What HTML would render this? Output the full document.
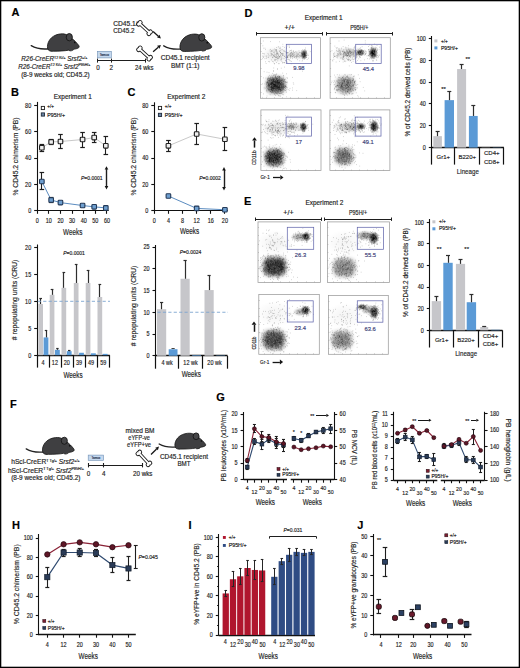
<!DOCTYPE html><html><head><meta charset="utf-8"><title>Figure</title><style>html,body{margin:0;padding:0;background:#fff;width:520px;height:668px;overflow:hidden}svg{display:block;font-family:"Liberation Sans",sans-serif}</style></head><body><svg width="520" height="668" viewBox="0 0 520 668" font-family="Liberation Sans, sans-serif" fill="#1e1e1e"><defs><filter id="fb" x="-50%" y="-50%" width="200%" height="200%"><feGaussianBlur stdDeviation="1.9"/></filter><clipPath id="cp11"><rect x="261.1" y="38.2" width="59" height="59.6"/></clipPath><radialGradient id="bg1"><stop offset="0" stop-color="#000" stop-opacity="0.08"/><stop offset="0.35" stop-color="#000" stop-opacity="0.07"/><stop offset="0.6" stop-color="#000" stop-opacity="0.04"/><stop offset="0.8" stop-color="#000" stop-opacity="0.01"/><stop offset="1" stop-color="#000" stop-opacity="0"/></radialGradient><radialGradient id="bg2"><stop offset="0" stop-color="#000" stop-opacity="0.9"/><stop offset="0.35" stop-color="#000" stop-opacity="0.74"/><stop offset="0.6" stop-color="#000" stop-opacity="0.41"/><stop offset="0.8" stop-color="#000" stop-opacity="0.14"/><stop offset="1" stop-color="#000" stop-opacity="0"/></radialGradient><radialGradient id="bg3"><stop offset="0" stop-color="#000" stop-opacity="0.16"/><stop offset="0.35" stop-color="#000" stop-opacity="0.13"/><stop offset="0.6" stop-color="#000" stop-opacity="0.07"/><stop offset="0.8" stop-color="#000" stop-opacity="0.02"/><stop offset="1" stop-color="#000" stop-opacity="0"/></radialGradient><radialGradient id="bg4"><stop offset="0" stop-color="#000" stop-opacity="0.15"/><stop offset="0.35" stop-color="#000" stop-opacity="0.12"/><stop offset="0.6" stop-color="#000" stop-opacity="0.07"/><stop offset="0.8" stop-color="#000" stop-opacity="0.02"/><stop offset="1" stop-color="#000" stop-opacity="0"/></radialGradient><clipPath id="cp12"><rect x="330.6" y="38.2" width="59.2" height="59.6"/></clipPath><radialGradient id="bg6"><stop offset="0" stop-color="#000" stop-opacity="0.1"/><stop offset="0.35" stop-color="#000" stop-opacity="0.08"/><stop offset="0.6" stop-color="#000" stop-opacity="0.05"/><stop offset="0.8" stop-color="#000" stop-opacity="0.01"/><stop offset="1" stop-color="#000" stop-opacity="0"/></radialGradient><radialGradient id="bg7"><stop offset="0" stop-color="#000" stop-opacity="1"/><stop offset="0.35" stop-color="#000" stop-opacity="0.82"/><stop offset="0.6" stop-color="#000" stop-opacity="0.45"/><stop offset="0.8" stop-color="#000" stop-opacity="0.15"/><stop offset="1" stop-color="#000" stop-opacity="0"/></radialGradient><radialGradient id="bg8"><stop offset="0" stop-color="#000" stop-opacity="0.85"/><stop offset="0.35" stop-color="#000" stop-opacity="0.7"/><stop offset="0.6" stop-color="#000" stop-opacity="0.38"/><stop offset="0.8" stop-color="#000" stop-opacity="0.13"/><stop offset="1" stop-color="#000" stop-opacity="0"/></radialGradient><radialGradient id="bg9"><stop offset="0" stop-color="#000" stop-opacity="0.2"/><stop offset="0.35" stop-color="#000" stop-opacity="0.16"/><stop offset="0.6" stop-color="#000" stop-opacity="0.09"/><stop offset="0.8" stop-color="#000" stop-opacity="0.03"/><stop offset="1" stop-color="#000" stop-opacity="0"/></radialGradient><clipPath id="cp13"><rect x="261.4" y="110.4" width="59.1" height="59.7"/></clipPath><radialGradient id="bg11"><stop offset="0" stop-color="#000" stop-opacity="0.1"/><stop offset="0.35" stop-color="#000" stop-opacity="0.08"/><stop offset="0.6" stop-color="#000" stop-opacity="0.05"/><stop offset="0.8" stop-color="#000" stop-opacity="0.01"/><stop offset="1" stop-color="#000" stop-opacity="0"/></radialGradient><radialGradient id="bg12"><stop offset="0" stop-color="#000" stop-opacity="0.95"/><stop offset="0.35" stop-color="#000" stop-opacity="0.78"/><stop offset="0.6" stop-color="#000" stop-opacity="0.43"/><stop offset="0.8" stop-color="#000" stop-opacity="0.14"/><stop offset="1" stop-color="#000" stop-opacity="0"/></radialGradient><radialGradient id="bg13"><stop offset="0" stop-color="#000" stop-opacity="0.25"/><stop offset="0.35" stop-color="#000" stop-opacity="0.2"/><stop offset="0.6" stop-color="#000" stop-opacity="0.11"/><stop offset="0.8" stop-color="#000" stop-opacity="0.04"/><stop offset="1" stop-color="#000" stop-opacity="0"/></radialGradient><radialGradient id="bg14"><stop offset="0" stop-color="#000" stop-opacity="0.15"/><stop offset="0.35" stop-color="#000" stop-opacity="0.12"/><stop offset="0.6" stop-color="#000" stop-opacity="0.07"/><stop offset="0.8" stop-color="#000" stop-opacity="0.02"/><stop offset="1" stop-color="#000" stop-opacity="0"/></radialGradient><clipPath id="cp14"><rect x="330.4" y="110.4" width="59" height="59.7"/></clipPath><radialGradient id="bg16"><stop offset="0" stop-color="#000" stop-opacity="0.1"/><stop offset="0.35" stop-color="#000" stop-opacity="0.08"/><stop offset="0.6" stop-color="#000" stop-opacity="0.05"/><stop offset="0.8" stop-color="#000" stop-opacity="0.01"/><stop offset="1" stop-color="#000" stop-opacity="0"/></radialGradient><radialGradient id="bg17"><stop offset="0" stop-color="#000" stop-opacity="1"/><stop offset="0.35" stop-color="#000" stop-opacity="0.82"/><stop offset="0.6" stop-color="#000" stop-opacity="0.45"/><stop offset="0.8" stop-color="#000" stop-opacity="0.15"/><stop offset="1" stop-color="#000" stop-opacity="0"/></radialGradient><radialGradient id="bg18"><stop offset="0" stop-color="#000" stop-opacity="0.8"/><stop offset="0.35" stop-color="#000" stop-opacity="0.66"/><stop offset="0.6" stop-color="#000" stop-opacity="0.36"/><stop offset="0.8" stop-color="#000" stop-opacity="0.12"/><stop offset="1" stop-color="#000" stop-opacity="0"/></radialGradient><radialGradient id="bg19"><stop offset="0" stop-color="#000" stop-opacity="0.2"/><stop offset="0.35" stop-color="#000" stop-opacity="0.16"/><stop offset="0.6" stop-color="#000" stop-opacity="0.09"/><stop offset="0.8" stop-color="#000" stop-opacity="0.03"/><stop offset="1" stop-color="#000" stop-opacity="0"/></radialGradient><clipPath id="cp21"><rect x="258.5" y="222.4" width="61.4" height="59.5"/></clipPath><radialGradient id="bg21"><stop offset="0" stop-color="#000" stop-opacity="0.05"/><stop offset="0.35" stop-color="#000" stop-opacity="0.04"/><stop offset="0.6" stop-color="#000" stop-opacity="0.02"/><stop offset="0.8" stop-color="#000" stop-opacity="0.01"/><stop offset="1" stop-color="#000" stop-opacity="0"/></radialGradient><radialGradient id="bg22"><stop offset="0" stop-color="#000" stop-opacity="1"/><stop offset="0.35" stop-color="#000" stop-opacity="0.82"/><stop offset="0.6" stop-color="#000" stop-opacity="0.45"/><stop offset="0.8" stop-color="#000" stop-opacity="0.15"/><stop offset="1" stop-color="#000" stop-opacity="0"/></radialGradient><radialGradient id="bg23"><stop offset="0" stop-color="#000" stop-opacity="0.35"/><stop offset="0.35" stop-color="#000" stop-opacity="0.29"/><stop offset="0.6" stop-color="#000" stop-opacity="0.16"/><stop offset="0.8" stop-color="#000" stop-opacity="0.05"/><stop offset="1" stop-color="#000" stop-opacity="0"/></radialGradient><clipPath id="cp22"><rect x="327.9" y="222.4" width="61.2" height="59.5"/></clipPath><radialGradient id="bg25"><stop offset="0" stop-color="#000" stop-opacity="0.04"/><stop offset="0.35" stop-color="#000" stop-opacity="0.03"/><stop offset="0.6" stop-color="#000" stop-opacity="0.02"/><stop offset="0.8" stop-color="#000" stop-opacity="0.01"/><stop offset="1" stop-color="#000" stop-opacity="0"/></radialGradient><radialGradient id="bg26"><stop offset="0" stop-color="#000" stop-opacity="1"/><stop offset="0.35" stop-color="#000" stop-opacity="0.82"/><stop offset="0.6" stop-color="#000" stop-opacity="0.45"/><stop offset="0.8" stop-color="#000" stop-opacity="0.15"/><stop offset="1" stop-color="#000" stop-opacity="0"/></radialGradient><radialGradient id="bg27"><stop offset="0" stop-color="#000" stop-opacity="0.45"/><stop offset="0.35" stop-color="#000" stop-opacity="0.37"/><stop offset="0.6" stop-color="#000" stop-opacity="0.2"/><stop offset="0.8" stop-color="#000" stop-opacity="0.07"/><stop offset="1" stop-color="#000" stop-opacity="0"/></radialGradient><clipPath id="cp23"><rect x="259.3" y="295" width="59.5" height="58.8"/></clipPath><radialGradient id="bg29"><stop offset="0" stop-color="#000" stop-opacity="0.04"/><stop offset="0.35" stop-color="#000" stop-opacity="0.03"/><stop offset="0.6" stop-color="#000" stop-opacity="0.02"/><stop offset="0.8" stop-color="#000" stop-opacity="0.01"/><stop offset="1" stop-color="#000" stop-opacity="0"/></radialGradient><radialGradient id="bg30"><stop offset="0" stop-color="#000" stop-opacity="1"/><stop offset="0.35" stop-color="#000" stop-opacity="0.82"/><stop offset="0.6" stop-color="#000" stop-opacity="0.45"/><stop offset="0.8" stop-color="#000" stop-opacity="0.15"/><stop offset="1" stop-color="#000" stop-opacity="0"/></radialGradient><radialGradient id="bg31"><stop offset="0" stop-color="#000" stop-opacity="0.3"/><stop offset="0.35" stop-color="#000" stop-opacity="0.25"/><stop offset="0.6" stop-color="#000" stop-opacity="0.14"/><stop offset="0.8" stop-color="#000" stop-opacity="0.04"/><stop offset="1" stop-color="#000" stop-opacity="0"/></radialGradient><clipPath id="cp24"><rect x="328.9" y="295.9" width="58.9" height="57.9"/></clipPath><radialGradient id="bg33"><stop offset="0" stop-color="#000" stop-opacity="0.04"/><stop offset="0.35" stop-color="#000" stop-opacity="0.03"/><stop offset="0.6" stop-color="#000" stop-opacity="0.02"/><stop offset="0.8" stop-color="#000" stop-opacity="0.01"/><stop offset="1" stop-color="#000" stop-opacity="0"/></radialGradient><radialGradient id="bg34"><stop offset="0" stop-color="#000" stop-opacity="1"/><stop offset="0.35" stop-color="#000" stop-opacity="0.82"/><stop offset="0.6" stop-color="#000" stop-opacity="0.45"/><stop offset="0.8" stop-color="#000" stop-opacity="0.15"/><stop offset="1" stop-color="#000" stop-opacity="0"/></radialGradient><radialGradient id="bg35"><stop offset="0" stop-color="#000" stop-opacity="0.75"/><stop offset="0.35" stop-color="#000" stop-opacity="0.61"/><stop offset="0.6" stop-color="#000" stop-opacity="0.34"/><stop offset="0.8" stop-color="#000" stop-opacity="0.11"/><stop offset="1" stop-color="#000" stop-opacity="0"/></radialGradient><radialGradient id="bg36"><stop offset="0" stop-color="#000" stop-opacity="0.35"/><stop offset="0.35" stop-color="#000" stop-opacity="0.29"/><stop offset="0.6" stop-color="#000" stop-opacity="0.16"/><stop offset="0.8" stop-color="#000" stop-opacity="0.05"/><stop offset="1" stop-color="#000" stop-opacity="0"/></radialGradient></defs><filter id="soft" x="0" y="0" width="100%" height="100%" filterUnits="userSpaceOnUse" primitiveUnits="userSpaceOnUse" color-interpolation-filters="sRGB"><feConvolveMatrix order="3" kernelMatrix="0.0000 0.0000 0.0000 0.0000 1.0000 0.0000 0.0000 0.0000 0.0000" divisor="1" edgeMode="duplicate"/></filter><rect x="0" y="0" width="520" height="668" fill="#fff"/><g><rect x="0" y="0" width="520" height="668" fill="#fff"/><text x="11.6" y="16.3" font-size="11" font-weight="bold" fill="#000" stroke="#000" stroke-width="0.16">A</text>
<g transform="translate(45.5,32.3) scale(0.34,0.35)"><path d="M10,47 C-10,49 -30,45 -42,38" fill="none" stroke="#222" stroke-width="3.82" stroke-linecap="round"/><path d="M8,50 C2,40 8,20 24,11 C36,4 54,2 64,8 C70,11 74,14 78,18 C84,22 92,30 98,38 C100,41 99,44 96,45 C92,47 88,48 84,48 C82,51 78,53 72,53 L68,51 C58,53 40,54 24,54 C18,55 12,54 8,50 Z" fill="#3f3f41" stroke="#161616" stroke-width="2.35"/><ellipse cx="70" cy="14" rx="9" ry="10.5" fill="#464648" stroke="#161616" stroke-width="2.65"/><circle cx="86" cy="29" r="2.4" fill="#0c0c0c"/></g>
<text x="54.3" y="61.4" font-size="6.3" text-anchor="middle" textLength="66" lengthAdjust="spacingAndGlyphs" stroke="#1e1e1e" stroke-width="0.16"><tspan font-style="italic">R26-CreER</tspan><tspan font-size="3.6" dy="-2.5">T2 Ki/+</tspan><tspan dy="2.5"> </tspan><tspan font-style="italic">Srsf2</tspan><tspan font-size="3.6" dy="-2.5">+/+</tspan></text>
<text x="54.3" y="68.8" font-size="6.3" text-anchor="middle" textLength="72.3" lengthAdjust="spacingAndGlyphs" stroke="#1e1e1e" stroke-width="0.16"><tspan font-style="italic">R26-CreER</tspan><tspan font-size="3.6" dy="-2.5">T2 Ki/+</tspan><tspan dy="2.5"> </tspan><tspan font-style="italic">Srsf2</tspan><tspan font-size="3.6" dy="-2.5">P95H/+</tspan></text>
<text x="55.4" y="76.97" font-size="6.3" text-anchor="middle" textLength="68.4" lengthAdjust="spacingAndGlyphs" stroke="#1e1e1e" stroke-width="0.16">(8-9 weeks old; CD45.2)</text>
<rect x="97.5" y="51.3" width="13.8" height="6.6" fill="#c5d8ee" stroke="#6f8fb5" stroke-width="0.6"/>
<text x="104.4" y="55.75" font-size="3.2" text-anchor="middle" fill="#2a3550" stroke="#2a3550" stroke-width="0.16">Tamox</text>
<line x1="97.4" y1="60.5" x2="145.4" y2="60.5" stroke="#1e1e1e" stroke-width="1"/>
<line x1="97.5" y1="58.6" x2="97.5" y2="62.6" stroke="#1e1e1e" stroke-width="1"/>
<line x1="111.5" y1="58.6" x2="111.5" y2="62.6" stroke="#1e1e1e" stroke-width="1"/>
<line x1="145.5" y1="58.6" x2="145.5" y2="62.6" stroke="#1e1e1e" stroke-width="1"/>
<text x="98" y="69.77" font-size="6.3" text-anchor="middle" stroke="#1e1e1e" stroke-width="0.16">0</text>
<text x="111.2" y="69.77" font-size="6.3" text-anchor="middle" stroke="#1e1e1e" stroke-width="0.16">2</text>
<text x="144.2" y="69.77" font-size="6.3" text-anchor="middle" textLength="18.5" lengthAdjust="spacingAndGlyphs" stroke="#1e1e1e" stroke-width="0.16">24 wks</text>
<text x="113.3" y="26.07" font-size="6.3" textLength="24.3" lengthAdjust="spacingAndGlyphs" stroke="#1e1e1e" stroke-width="0.16">CD45.1/</text>
<text x="113.3" y="33.47" font-size="6.3" textLength="21.1" lengthAdjust="spacingAndGlyphs" stroke="#1e1e1e" stroke-width="0.16">CD45.2</text>
<g transform="translate(144.55,28.05) rotate(42.61)"><line x1="-6.99" y1="0" x2="6.99" y2="0" stroke="#161616" stroke-width="3.5"/><circle cx="-6.99" cy="-1.2" r="2.4" fill="#161616"/><circle cx="-6.99" cy="1.2" r="2.4" fill="#161616"/><circle cx="6.99" cy="-1.2" r="2.4" fill="#161616"/><circle cx="6.99" cy="1.2" r="2.4" fill="#161616"/><line x1="-6.99" y1="0" x2="6.99" y2="0" stroke="#fff" stroke-width="1.7"/><circle cx="-6.99" cy="-1.2" r="1.5" fill="#fff"/><circle cx="-6.99" cy="1.2" r="1.5" fill="#fff"/><circle cx="6.99" cy="-1.2" r="1.5" fill="#fff"/><circle cx="6.99" cy="1.2" r="1.5" fill="#fff"/></g>
<g transform="translate(144.55,53.5) rotate(42.36)"><line x1="-6.96" y1="0" x2="6.96" y2="0" stroke="#161616" stroke-width="3.5"/><circle cx="-6.96" cy="-1.2" r="2.4" fill="#161616"/><circle cx="-6.96" cy="1.2" r="2.4" fill="#161616"/><circle cx="6.96" cy="-1.2" r="2.4" fill="#161616"/><circle cx="6.96" cy="1.2" r="2.4" fill="#161616"/><line x1="-6.96" y1="0" x2="6.96" y2="0" stroke="#fff" stroke-width="1.7"/><circle cx="-6.96" cy="-1.2" r="1.5" fill="#fff"/><circle cx="-6.96" cy="1.2" r="1.5" fill="#fff"/><circle cx="6.96" cy="-1.2" r="1.5" fill="#fff"/><circle cx="6.96" cy="1.2" r="1.5" fill="#fff"/></g>
<line x1="153.1" y1="31.6" x2="158.34" y2="36.17" stroke="#161616" stroke-width="1.3"/>
<polygon points="160.9,38.4 157.11,37.58 159.57,34.76" fill="#161616"/>
<line x1="153.1" y1="51.7" x2="158.3" y2="47.3" stroke="#161616" stroke-width="1.3"/>
<polygon points="160.9,45.1 159.51,48.72 157.1,45.87" fill="#161616"/>
<g transform="translate(178,32.5) scale(0.34,0.35)"><path d="M10,47 C-10,49 -30,45 -42,38" fill="none" stroke="#222" stroke-width="3.82" stroke-linecap="round"/><path d="M8,50 C2,40 8,20 24,11 C36,4 54,2 64,8 C70,11 74,14 78,18 C84,22 92,30 98,38 C100,41 99,44 96,45 C92,47 88,48 84,48 C82,51 78,53 72,53 L68,51 C58,53 40,54 24,54 C18,55 12,54 8,50 Z" fill="#3f3f41" stroke="#161616" stroke-width="2.35"/><ellipse cx="70" cy="14" rx="9" ry="10.5" fill="#464648" stroke="#161616" stroke-width="2.65"/><circle cx="86" cy="29" r="2.4" fill="#0c0c0c"/></g>
<text x="185.2" y="59.87" font-size="6.3" text-anchor="middle" textLength="49" lengthAdjust="spacingAndGlyphs" stroke="#1e1e1e" stroke-width="0.16">CD45.1 recipient</text>
<text x="185.2" y="68.07" font-size="6.3" text-anchor="middle" textLength="28.5" lengthAdjust="spacingAndGlyphs" stroke="#1e1e1e" stroke-width="0.16">BMT (1:1)</text>
<text x="11" y="95.8" font-size="11" font-weight="bold" fill="#000" stroke="#000" stroke-width="0.16">B</text>
<text x="72.8" y="99.47" font-size="6.3" text-anchor="middle" textLength="38" lengthAdjust="spacingAndGlyphs" stroke="#1e1e1e" stroke-width="0.16">Experiment 1</text>
<line x1="37.5" y1="101.9" x2="37.5" y2="211.3" stroke="#111111" stroke-width="1.1"/>
<line x1="34.2" y1="210.5" x2="37.2" y2="210.5" stroke="#111111" stroke-width="1.1"/>
<text transform="translate(31.2,213.14) scale(0.84,1)" font-size="6.5" text-anchor="end" stroke="#1e1e1e" stroke-width="0.16">0</text>
<line x1="34.2" y1="184.5" x2="37.2" y2="184.5" stroke="#111111" stroke-width="1.1"/>
<text transform="translate(31.2,186.74) scale(0.84,1)" font-size="6.5" text-anchor="end" stroke="#1e1e1e" stroke-width="0.16">20</text>
<line x1="34.2" y1="158.5" x2="37.2" y2="158.5" stroke="#111111" stroke-width="1.1"/>
<text transform="translate(31.2,160.34) scale(0.84,1)" font-size="6.5" text-anchor="end" stroke="#1e1e1e" stroke-width="0.16">40</text>
<line x1="34.2" y1="131.5" x2="37.2" y2="131.5" stroke="#111111" stroke-width="1.1"/>
<text transform="translate(31.2,133.94) scale(0.84,1)" font-size="6.5" text-anchor="end" stroke="#1e1e1e" stroke-width="0.16">60</text>
<line x1="34.2" y1="105.5" x2="37.2" y2="105.5" stroke="#111111" stroke-width="1.1"/>
<text transform="translate(31.2,107.54) scale(0.84,1)" font-size="6.5" text-anchor="end" stroke="#1e1e1e" stroke-width="0.16">80</text>
<line x1="37.2" y1="210.5" x2="108.72" y2="210.5" stroke="#111111" stroke-width="1.1"/>
<line x1="37.5" y1="210.8" x2="37.5" y2="213.8" stroke="#111111" stroke-width="1.1"/>
<text transform="translate(37.2,222.64) scale(0.84,1)" font-size="6.5" text-anchor="middle" stroke="#1e1e1e" stroke-width="0.16">0</text>
<line x1="48.5" y1="210.8" x2="48.5" y2="213.8" stroke="#111111" stroke-width="1.1"/>
<text transform="translate(48.83,222.64) scale(0.84,1)" font-size="6.5" text-anchor="middle" stroke="#1e1e1e" stroke-width="0.16">10</text>
<line x1="60.5" y1="210.8" x2="60.5" y2="213.8" stroke="#111111" stroke-width="1.1"/>
<text transform="translate(60.46,222.64) scale(0.84,1)" font-size="6.5" text-anchor="middle" stroke="#1e1e1e" stroke-width="0.16">20</text>
<line x1="72.5" y1="210.8" x2="72.5" y2="213.8" stroke="#111111" stroke-width="1.1"/>
<text transform="translate(72.09,222.64) scale(0.84,1)" font-size="6.5" text-anchor="middle" stroke="#1e1e1e" stroke-width="0.16">30</text>
<line x1="83.5" y1="210.8" x2="83.5" y2="213.8" stroke="#111111" stroke-width="1.1"/>
<text transform="translate(83.72,222.64) scale(0.84,1)" font-size="6.5" text-anchor="middle" stroke="#1e1e1e" stroke-width="0.16">40</text>
<line x1="95.5" y1="210.8" x2="95.5" y2="213.8" stroke="#111111" stroke-width="1.1"/>
<text transform="translate(95.35,222.64) scale(0.84,1)" font-size="6.5" text-anchor="middle" stroke="#1e1e1e" stroke-width="0.16">50</text>
<line x1="106.5" y1="210.8" x2="106.5" y2="213.8" stroke="#111111" stroke-width="1.1"/>
<text transform="translate(106.98,222.64) scale(0.84,1)" font-size="6.5" text-anchor="middle" stroke="#1e1e1e" stroke-width="0.16">60</text>
<text x="72.7" y="234.72" font-size="8.4" text-anchor="middle" textLength="19.2" lengthAdjust="spacingAndGlyphs" stroke="#1e1e1e" stroke-width="0.16">Weeks</text>
<text transform="translate(15.1,156.5) rotate(-90)" x="0" y="2.59" font-size="7.2" text-anchor="middle" textLength="78" lengthAdjust="spacingAndGlyphs" stroke="#1e1e1e" stroke-width="0.16">% CD45.2 chimerism (PB)</text>
<polyline points="41.85,147.7 51.16,141.9 60.46,141.5 82.56,139.52 94.19,137.54 105.82,145.86" fill="none" stroke="#c9c9c9" stroke-width="1" stroke-linejoin="round"/>
<polyline points="41.85,181.5 51.16,199.98 60.46,202.62 82.56,205.52 94.19,206.84 105.82,207.9" fill="none" stroke="#5b8cc0" stroke-width="1" stroke-linejoin="round"/>
<line x1="41.5" y1="151.4" x2="41.5" y2="144.14" stroke="#1e1e1e" stroke-width="1.1"/>
<line x1="39.55" y1="144.5" x2="44.15" y2="144.5" stroke="#1e1e1e" stroke-width="1.21"/>
<line x1="39.55" y1="151.5" x2="44.15" y2="151.5" stroke="#1e1e1e" stroke-width="1.21"/>
<rect x="39.55" y="145.4" width="4.6" height="4.6" fill="#eeeeee" stroke="#1e1e1e" stroke-width="1.1" rx="0.8"/>
<line x1="51.5" y1="144.14" x2="51.5" y2="139.52" stroke="#1e1e1e" stroke-width="1.1"/>
<line x1="48.86" y1="139.5" x2="53.46" y2="139.5" stroke="#1e1e1e" stroke-width="1.21"/>
<line x1="48.86" y1="144.5" x2="53.46" y2="144.5" stroke="#1e1e1e" stroke-width="1.21"/>
<rect x="48.86" y="139.6" width="4.6" height="4.6" fill="#eeeeee" stroke="#1e1e1e" stroke-width="1.1" rx="0.8"/>
<line x1="60.5" y1="148.1" x2="60.5" y2="134.5" stroke="#1e1e1e" stroke-width="1.1"/>
<line x1="58.16" y1="134.5" x2="62.76" y2="134.5" stroke="#1e1e1e" stroke-width="1.21"/>
<line x1="58.16" y1="148.5" x2="62.76" y2="148.5" stroke="#1e1e1e" stroke-width="1.21"/>
<rect x="58.16" y="139.2" width="4.6" height="4.6" fill="#eeeeee" stroke="#1e1e1e" stroke-width="1.1" rx="0.8"/>
<line x1="82.5" y1="147.04" x2="82.5" y2="132.26" stroke="#1e1e1e" stroke-width="1.1"/>
<line x1="80.26" y1="132.5" x2="84.86" y2="132.5" stroke="#1e1e1e" stroke-width="1.21"/>
<line x1="80.26" y1="147.5" x2="84.86" y2="147.5" stroke="#1e1e1e" stroke-width="1.21"/>
<rect x="80.26" y="137.22" width="4.6" height="4.6" fill="#eeeeee" stroke="#1e1e1e" stroke-width="1.1" rx="0.8"/>
<line x1="94.5" y1="142.16" x2="94.5" y2="132.26" stroke="#1e1e1e" stroke-width="1.1"/>
<line x1="91.89" y1="132.5" x2="96.49" y2="132.5" stroke="#1e1e1e" stroke-width="1.21"/>
<line x1="91.89" y1="142.5" x2="96.49" y2="142.5" stroke="#1e1e1e" stroke-width="1.21"/>
<rect x="91.89" y="135.24" width="4.6" height="4.6" fill="#eeeeee" stroke="#1e1e1e" stroke-width="1.1" rx="0.8"/>
<line x1="105.5" y1="154.3" x2="105.5" y2="136.62" stroke="#1e1e1e" stroke-width="1.1"/>
<line x1="103.52" y1="136.5" x2="108.12" y2="136.5" stroke="#1e1e1e" stroke-width="1.21"/>
<line x1="103.52" y1="154.5" x2="108.12" y2="154.5" stroke="#1e1e1e" stroke-width="1.21"/>
<rect x="103.52" y="143.56" width="4.6" height="4.6" fill="#eeeeee" stroke="#1e1e1e" stroke-width="1.1" rx="0.8"/>
<line x1="41.5" y1="189.02" x2="41.5" y2="172.78" stroke="#1e1e1e" stroke-width="1.1"/>
<line x1="39.55" y1="172.5" x2="44.15" y2="172.5" stroke="#1e1e1e" stroke-width="1.21"/>
<line x1="39.55" y1="189.5" x2="44.15" y2="189.5" stroke="#1e1e1e" stroke-width="1.21"/>
<rect x="39.55" y="179.2" width="4.6" height="4.6" fill="#6e9fd0" stroke="#243a58" stroke-width="1.1" rx="0.8"/>
<line x1="51.5" y1="202.22" x2="51.5" y2="197.86" stroke="#1e1e1e" stroke-width="1.1"/>
<line x1="48.86" y1="197.5" x2="53.46" y2="197.5" stroke="#1e1e1e" stroke-width="1.21"/>
<line x1="48.86" y1="202.5" x2="53.46" y2="202.5" stroke="#1e1e1e" stroke-width="1.21"/>
<rect x="48.86" y="197.68" width="4.6" height="4.6" fill="#6e9fd0" stroke="#243a58" stroke-width="1.1" rx="0.8"/>
<rect x="58.16" y="200.32" width="4.6" height="4.6" fill="#6e9fd0" stroke="#243a58" stroke-width="1.1" rx="0.8"/>
<rect x="80.26" y="203.22" width="4.6" height="4.6" fill="#6e9fd0" stroke="#243a58" stroke-width="1.1" rx="0.8"/>
<rect x="91.89" y="204.54" width="4.6" height="4.6" fill="#6e9fd0" stroke="#243a58" stroke-width="1.1" rx="0.8"/>
<rect x="103.52" y="205.6" width="4.6" height="4.6" fill="#6e9fd0" stroke="#243a58" stroke-width="1.1" rx="0.8"/>
<rect x="41.3" y="106.4" width="3.2" height="3.2" fill="#fff" stroke="#1e1e1e" stroke-width="0.9"/>
<text x="47.3" y="108.26" font-size="4.6" stroke="#1e1e1e" stroke-width="0.16">+/+</text>
<rect x="41.3" y="112.9" width="3.2" height="3.2" fill="#6a84a4" stroke="#1e2a3a" stroke-width="0.9"/>
<text x="47.3" y="116.66" font-size="4.6" textLength="17.7" lengthAdjust="spacingAndGlyphs" stroke="#1e1e1e" stroke-width="0.16">P95H/+</text>
<line x1="106.5" y1="169.1" x2="106.5" y2="186.6" stroke="#1e1e1e" stroke-width="1.4"/>
<polygon points="106.5,166.2 104.7,169.6 108.3,169.6" fill="#161616"/>
<polygon points="106.5,189.5 104.7,186.1 108.3,186.1" fill="#161616"/>
<text x="91.8" y="179.9" font-size="5" text-anchor="middle" stroke="#1e1e1e" stroke-width="0.16"><tspan font-style="italic">P</tspan>=0.0001</text>
<text x="127.5" y="95.8" font-size="11" font-weight="bold" fill="#000" stroke="#000" stroke-width="0.16">C</text>
<text x="186.3" y="99.07" font-size="6.3" text-anchor="middle" textLength="38" lengthAdjust="spacingAndGlyphs" stroke="#1e1e1e" stroke-width="0.16">Experiment 2</text>
<line x1="154.5" y1="102.3" x2="154.5" y2="211.3" stroke="#111111" stroke-width="1.1"/>
<line x1="151.3" y1="210.5" x2="154.3" y2="210.5" stroke="#111111" stroke-width="1.1"/>
<text transform="translate(148.3,213.14) scale(0.84,1)" font-size="6.5" text-anchor="end" stroke="#1e1e1e" stroke-width="0.16">0</text>
<line x1="151.3" y1="184.5" x2="154.3" y2="184.5" stroke="#111111" stroke-width="1.1"/>
<text transform="translate(148.3,186.74) scale(0.84,1)" font-size="6.5" text-anchor="end" stroke="#1e1e1e" stroke-width="0.16">20</text>
<line x1="151.3" y1="158.5" x2="154.3" y2="158.5" stroke="#111111" stroke-width="1.1"/>
<text transform="translate(148.3,160.34) scale(0.84,1)" font-size="6.5" text-anchor="end" stroke="#1e1e1e" stroke-width="0.16">40</text>
<line x1="151.3" y1="131.5" x2="154.3" y2="131.5" stroke="#111111" stroke-width="1.1"/>
<text transform="translate(148.3,133.94) scale(0.84,1)" font-size="6.5" text-anchor="end" stroke="#1e1e1e" stroke-width="0.16">60</text>
<line x1="151.3" y1="105.5" x2="154.3" y2="105.5" stroke="#111111" stroke-width="1.1"/>
<text transform="translate(148.3,107.54) scale(0.84,1)" font-size="6.5" text-anchor="end" stroke="#1e1e1e" stroke-width="0.16">80</text>
<line x1="154.3" y1="210.5" x2="227.72" y2="210.5" stroke="#111111" stroke-width="1.1"/>
<line x1="154.5" y1="210.8" x2="154.5" y2="213.8" stroke="#111111" stroke-width="1.1"/>
<text transform="translate(154.3,222.64) scale(0.84,1)" font-size="6.5" text-anchor="middle" stroke="#1e1e1e" stroke-width="0.16">0</text>
<line x1="168.5" y1="210.8" x2="168.5" y2="213.8" stroke="#111111" stroke-width="1.1"/>
<text transform="translate(168.42,222.64) scale(0.84,1)" font-size="6.5" text-anchor="middle" stroke="#1e1e1e" stroke-width="0.16">4</text>
<line x1="182.5" y1="210.8" x2="182.5" y2="213.8" stroke="#111111" stroke-width="1.1"/>
<text transform="translate(182.54,222.64) scale(0.84,1)" font-size="6.5" text-anchor="middle" stroke="#1e1e1e" stroke-width="0.16">8</text>
<line x1="196.5" y1="210.8" x2="196.5" y2="213.8" stroke="#111111" stroke-width="1.1"/>
<text transform="translate(196.66,222.64) scale(0.84,1)" font-size="6.5" text-anchor="middle" stroke="#1e1e1e" stroke-width="0.16">12</text>
<line x1="210.5" y1="210.8" x2="210.5" y2="213.8" stroke="#111111" stroke-width="1.1"/>
<text transform="translate(210.78,222.64) scale(0.84,1)" font-size="6.5" text-anchor="middle" stroke="#1e1e1e" stroke-width="0.16">16</text>
<line x1="224.5" y1="210.8" x2="224.5" y2="213.8" stroke="#111111" stroke-width="1.1"/>
<text transform="translate(224.9,222.64) scale(0.84,1)" font-size="6.5" text-anchor="middle" stroke="#1e1e1e" stroke-width="0.16">20</text>
<text x="189.5" y="234.22" font-size="8.4" text-anchor="middle" textLength="19.2" lengthAdjust="spacingAndGlyphs" stroke="#1e1e1e" stroke-width="0.16">Weeks</text>
<text transform="translate(133.3,156.5) rotate(-90)" x="0" y="2.59" font-size="7.2" text-anchor="middle" textLength="78" lengthAdjust="spacingAndGlyphs" stroke="#1e1e1e" stroke-width="0.16">% CD45.2 chimerism (PB)</text>
<polyline points="168.42,145.86 196.66,133.98 224.9,139.26" fill="none" stroke="#c9c9c9" stroke-width="1" stroke-linejoin="round"/>
<polyline points="168.42,196.02 196.66,208.42 224.9,209.74" fill="none" stroke="#5b8cc0" stroke-width="1" stroke-linejoin="round"/>
<line x1="168.5" y1="151.4" x2="168.5" y2="140.58" stroke="#1e1e1e" stroke-width="1.1"/>
<line x1="166.12" y1="140.5" x2="170.72" y2="140.5" stroke="#1e1e1e" stroke-width="1.21"/>
<line x1="166.12" y1="151.5" x2="170.72" y2="151.5" stroke="#1e1e1e" stroke-width="1.21"/>
<rect x="166.12" y="143.56" width="4.6" height="4.6" fill="#eeeeee" stroke="#1e1e1e" stroke-width="1.1" rx="0.8"/>
<line x1="196.5" y1="144.54" x2="196.5" y2="123.02" stroke="#1e1e1e" stroke-width="1.1"/>
<line x1="194.36" y1="123.5" x2="198.96" y2="123.5" stroke="#1e1e1e" stroke-width="1.21"/>
<line x1="194.36" y1="144.5" x2="198.96" y2="144.5" stroke="#1e1e1e" stroke-width="1.21"/>
<rect x="194.36" y="131.68" width="4.6" height="4.6" fill="#eeeeee" stroke="#1e1e1e" stroke-width="1.1" rx="0.8"/>
<line x1="224.5" y1="150.74" x2="224.5" y2="127.64" stroke="#1e1e1e" stroke-width="1.1"/>
<line x1="222.6" y1="127.5" x2="227.2" y2="127.5" stroke="#1e1e1e" stroke-width="1.21"/>
<line x1="222.6" y1="150.5" x2="227.2" y2="150.5" stroke="#1e1e1e" stroke-width="1.21"/>
<rect x="222.6" y="136.96" width="4.6" height="4.6" fill="#eeeeee" stroke="#1e1e1e" stroke-width="1.1" rx="0.8"/>
<rect x="166.12" y="193.72" width="4.6" height="4.6" fill="#6e9fd0" stroke="#243a58" stroke-width="1.1" rx="0.8"/>
<rect x="194.36" y="206.12" width="4.6" height="4.6" fill="#6e9fd0" stroke="#243a58" stroke-width="1.1" rx="0.8"/>
<rect x="222.6" y="207.44" width="4.6" height="4.6" fill="#6e9fd0" stroke="#243a58" stroke-width="1.1" rx="0.8"/>
<rect x="158.4" y="106.4" width="3.2" height="3.2" fill="#fff" stroke="#1e1e1e" stroke-width="0.9"/>
<text x="164.8" y="108.46" font-size="4.6" stroke="#1e1e1e" stroke-width="0.16">+/+</text>
<rect x="158.4" y="113.3" width="3.2" height="3.2" fill="#6a84a4" stroke="#1e2a3a" stroke-width="0.9"/>
<text x="164.8" y="116.86" font-size="4.6" textLength="17.7" lengthAdjust="spacingAndGlyphs" stroke="#1e1e1e" stroke-width="0.16">P95H/+</text>
<line x1="224.5" y1="169.9" x2="224.5" y2="187.6" stroke="#1e1e1e" stroke-width="1.4"/>
<polygon points="224,167 222.2,170.4 225.8,170.4" fill="#161616"/>
<polygon points="224,190.5 222.2,187.1 225.8,187.1" fill="#161616"/>
<text x="210" y="180.1" font-size="5" text-anchor="middle" stroke="#1e1e1e" stroke-width="0.16"><tspan font-style="italic">P</tspan>=0.0002</text>
<line x1="37.5" y1="244.5" x2="37.5" y2="355.7" stroke="#111111" stroke-width="1.1"/>
<line x1="34.2" y1="355.5" x2="37.2" y2="355.5" stroke="#111111" stroke-width="1.1"/>
<text transform="translate(31.2,357.54) scale(0.84,1)" font-size="6.5" text-anchor="end" stroke="#1e1e1e" stroke-width="0.16">0</text>
<line x1="34.2" y1="328.5" x2="37.2" y2="328.5" stroke="#111111" stroke-width="1.1"/>
<text transform="translate(31.2,330.59) scale(0.84,1)" font-size="6.5" text-anchor="end" stroke="#1e1e1e" stroke-width="0.16">5</text>
<line x1="34.2" y1="301.5" x2="37.2" y2="301.5" stroke="#111111" stroke-width="1.1"/>
<text transform="translate(31.2,303.64) scale(0.84,1)" font-size="6.5" text-anchor="end" stroke="#1e1e1e" stroke-width="0.16">10</text>
<line x1="34.2" y1="274.5" x2="37.2" y2="274.5" stroke="#111111" stroke-width="1.1"/>
<text transform="translate(31.2,276.69) scale(0.84,1)" font-size="6.5" text-anchor="end" stroke="#1e1e1e" stroke-width="0.16">15</text>
<line x1="34.2" y1="247.5" x2="37.2" y2="247.5" stroke="#111111" stroke-width="1.1"/>
<text transform="translate(31.2,249.74) scale(0.84,1)" font-size="6.5" text-anchor="end" stroke="#1e1e1e" stroke-width="0.16">20</text>
<line x1="37.2" y1="355.5" x2="109.8" y2="355.5" stroke="#111111" stroke-width="1.3"/>
<rect x="38.3" y="304" width="4.7" height="51.2" fill="#c6c6ca"/>
<line x1="40.5" y1="304" x2="40.5" y2="298.61" stroke="#2e2e2e" stroke-width="1.2"/>
<line x1="39.3" y1="298.5" x2="42" y2="298.5" stroke="#2e2e2e" stroke-width="1.2"/>
<rect x="43.6" y="337.41" width="4.8" height="17.79" fill="#5b9ad6"/>
<line x1="46.5" y1="337.41" x2="46.5" y2="330.41" stroke="#2e2e2e" stroke-width="1.2"/>
<line x1="44.8" y1="330.5" x2="47.2" y2="330.5" stroke="#2e2e2e" stroke-width="1.2"/>
<rect x="49.7" y="294.83" width="4.7" height="60.37" fill="#c6c6ca"/>
<line x1="52.5" y1="294.83" x2="52.5" y2="289.44" stroke="#2e2e2e" stroke-width="1.2"/>
<line x1="50.7" y1="289.5" x2="53.4" y2="289.5" stroke="#2e2e2e" stroke-width="1.2"/>
<rect x="55" y="349.81" width="4.8" height="5.39" fill="#5b9ad6"/>
<line x1="57.5" y1="349.81" x2="57.5" y2="348.46" stroke="#2e2e2e" stroke-width="1.2"/>
<line x1="56.2" y1="348.5" x2="58.6" y2="348.5" stroke="#2e2e2e" stroke-width="1.2"/>
<rect x="61.5" y="287.82" width="4.7" height="67.38" fill="#c6c6ca"/>
<line x1="63.5" y1="287.82" x2="63.5" y2="272.73" stroke="#2e2e2e" stroke-width="1.2"/>
<line x1="62.5" y1="272.5" x2="65.2" y2="272.5" stroke="#2e2e2e" stroke-width="1.2"/>
<rect x="66.8" y="351.16" width="4.8" height="4.04" fill="#5b9ad6"/>
<line x1="69.5" y1="351.16" x2="69.5" y2="350.35" stroke="#2e2e2e" stroke-width="1.2"/>
<line x1="68" y1="350.5" x2="70.4" y2="350.5" stroke="#2e2e2e" stroke-width="1.2"/>
<rect x="73.8" y="282.97" width="4.7" height="72.23" fill="#c6c6ca"/>
<line x1="76.5" y1="282.97" x2="76.5" y2="264.65" stroke="#2e2e2e" stroke-width="1.2"/>
<line x1="74.8" y1="264.5" x2="77.5" y2="264.5" stroke="#2e2e2e" stroke-width="1.2"/>
<rect x="79.1" y="352.77" width="4.8" height="2.43" fill="#5b9ad6"/>
<rect x="85.7" y="282.97" width="4.7" height="72.23" fill="#c6c6ca"/>
<line x1="88.5" y1="282.97" x2="88.5" y2="270.04" stroke="#2e2e2e" stroke-width="1.2"/>
<line x1="86.7" y1="270.5" x2="89.4" y2="270.5" stroke="#2e2e2e" stroke-width="1.2"/>
<rect x="91" y="353.31" width="4.8" height="1.89" fill="#5b9ad6"/>
<rect x="97.5" y="296.99" width="4.7" height="58.21" fill="#c6c6ca"/>
<line x1="99.5" y1="296.99" x2="99.5" y2="284.05" stroke="#2e2e2e" stroke-width="1.2"/>
<line x1="98.5" y1="284.5" x2="101.2" y2="284.5" stroke="#2e2e2e" stroke-width="1.2"/>
<rect x="102.8" y="353.85" width="4.8" height="1.35" fill="#5b9ad6"/>
<line x1="37.8" y1="301.3" x2="110" y2="301.3" stroke="#7da5d0" stroke-width="0.9" stroke-dasharray="3.2,2.2"/>
<line x1="37.5" y1="355.2" x2="37.5" y2="367.6" stroke="#111111" stroke-width="1.2"/>
<line x1="49.5" y1="355.2" x2="49.5" y2="367.6" stroke="#111111" stroke-width="1.2"/>
<line x1="61.5" y1="355.2" x2="61.5" y2="367.6" stroke="#111111" stroke-width="1.2"/>
<line x1="73.5" y1="355.2" x2="73.5" y2="367.6" stroke="#111111" stroke-width="1.2"/>
<line x1="85.5" y1="355.2" x2="85.5" y2="367.6" stroke="#111111" stroke-width="1.2"/>
<line x1="97.5" y1="355.2" x2="97.5" y2="367.6" stroke="#111111" stroke-width="1.2"/>
<line x1="109.5" y1="355.2" x2="109.5" y2="367.6" stroke="#111111" stroke-width="1.2"/>
<text transform="translate(42.9,364.94) scale(0.84,1)" font-size="6.5" text-anchor="middle" stroke="#1e1e1e" stroke-width="0.16">4</text>
<text transform="translate(54.9,364.94) scale(0.84,1)" font-size="6.5" text-anchor="middle" stroke="#1e1e1e" stroke-width="0.16">12</text>
<text transform="translate(66.8,364.94) scale(0.84,1)" font-size="6.5" text-anchor="middle" stroke="#1e1e1e" stroke-width="0.16">20</text>
<text transform="translate(79,364.94) scale(0.84,1)" font-size="6.5" text-anchor="middle" stroke="#1e1e1e" stroke-width="0.16">39</text>
<text transform="translate(91,364.94) scale(0.84,1)" font-size="6.5" text-anchor="middle" stroke="#1e1e1e" stroke-width="0.16">49</text>
<text transform="translate(103.2,364.94) scale(0.84,1)" font-size="6.5" text-anchor="middle" stroke="#1e1e1e" stroke-width="0.16">59</text>
<text x="73" y="377.82" font-size="8.4" text-anchor="middle" textLength="19.2" lengthAdjust="spacingAndGlyphs" stroke="#1e1e1e" stroke-width="0.16">Weeks</text>
<text x="74" y="254.5" font-size="5" text-anchor="middle" stroke="#1e1e1e" stroke-width="0.16"><tspan font-style="italic">P</tspan>=0.0001</text>
<text transform="translate(14.6,300) rotate(-90)" x="0" y="2.59" font-size="7.2" text-anchor="middle" textLength="80.5" lengthAdjust="spacingAndGlyphs" stroke="#1e1e1e" stroke-width="0.16"># repopulating units (CRU)</text>
<line x1="155.5" y1="245" x2="155.5" y2="356.25" stroke="#111111" stroke-width="1.1"/>
<line x1="152.5" y1="355.5" x2="155.5" y2="355.5" stroke="#111111" stroke-width="1.1"/>
<text transform="translate(149.5,358.09) scale(0.84,1)" font-size="6.5" text-anchor="end" stroke="#1e1e1e" stroke-width="0.16">0</text>
<line x1="152.5" y1="334.5" x2="155.5" y2="334.5" stroke="#111111" stroke-width="1.1"/>
<text transform="translate(149.5,336.34) scale(0.84,1)" font-size="6.5" text-anchor="end" stroke="#1e1e1e" stroke-width="0.16">5</text>
<line x1="152.5" y1="312.5" x2="155.5" y2="312.5" stroke="#111111" stroke-width="1.1"/>
<text transform="translate(149.5,314.59) scale(0.84,1)" font-size="6.5" text-anchor="end" stroke="#1e1e1e" stroke-width="0.16">10</text>
<line x1="152.5" y1="290.5" x2="155.5" y2="290.5" stroke="#111111" stroke-width="1.1"/>
<text transform="translate(149.5,292.84) scale(0.84,1)" font-size="6.5" text-anchor="end" stroke="#1e1e1e" stroke-width="0.16">15</text>
<line x1="152.5" y1="268.5" x2="155.5" y2="268.5" stroke="#111111" stroke-width="1.1"/>
<text transform="translate(149.5,271.09) scale(0.84,1)" font-size="6.5" text-anchor="end" stroke="#1e1e1e" stroke-width="0.16">20</text>
<line x1="152.5" y1="247.5" x2="155.5" y2="247.5" stroke="#111111" stroke-width="1.1"/>
<text transform="translate(149.5,249.34) scale(0.84,1)" font-size="6.5" text-anchor="end" stroke="#1e1e1e" stroke-width="0.16">25</text>
<line x1="155.5" y1="355.5" x2="227.5" y2="355.5" stroke="#111111" stroke-width="1.3"/>
<rect x="157" y="309.2" width="9.2" height="46.55" fill="#c6c6ca"/>
<line x1="161.5" y1="309.2" x2="161.5" y2="302.68" stroke="#2e2e2e" stroke-width="1.2"/>
<line x1="160" y1="302.5" x2="163.2" y2="302.5" stroke="#2e2e2e" stroke-width="1.2"/>
<rect x="168.7" y="349.23" width="8.8" height="6.52" fill="#5b9ad6"/>
<rect x="180.5" y="278.75" width="9.2" height="77" fill="#c6c6ca"/>
<line x1="185.5" y1="278.75" x2="185.5" y2="260.05" stroke="#2e2e2e" stroke-width="1.2"/>
<line x1="183.5" y1="260.5" x2="186.7" y2="260.5" stroke="#2e2e2e" stroke-width="1.2"/>
<rect x="192.2" y="355.1" width="8.8" height="0.65" fill="#5b9ad6"/>
<rect x="204.5" y="290.06" width="9.2" height="65.69" fill="#c6c6ca"/>
<line x1="209.5" y1="290.06" x2="209.5" y2="275.27" stroke="#2e2e2e" stroke-width="1.2"/>
<line x1="207.5" y1="275.5" x2="210.7" y2="275.5" stroke="#2e2e2e" stroke-width="1.2"/>
<rect x="216.2" y="355.4" width="8.8" height="0.35" fill="#5b9ad6"/>
<line x1="171.5" y1="348.5" x2="174.7" y2="348.5" stroke="#2e2e2e" stroke-width="0.9"/>
<line x1="157.5" y1="312.25" x2="228" y2="312.25" stroke="#7da5d0" stroke-width="0.9" stroke-dasharray="3.2,2.2"/>
<line x1="155.5" y1="355.75" x2="155.5" y2="368.7" stroke="#111111" stroke-width="1.2"/>
<line x1="178.5" y1="355.75" x2="178.5" y2="368.7" stroke="#111111" stroke-width="1.2"/>
<line x1="202.5" y1="355.75" x2="202.5" y2="368.7" stroke="#111111" stroke-width="1.2"/>
<line x1="227.5" y1="355.75" x2="227.5" y2="368.7" stroke="#111111" stroke-width="1.2"/>
<text transform="translate(167,364.74) scale(0.84,1)" font-size="6.5" text-anchor="middle" stroke="#1e1e1e" stroke-width="0.16">4 wk</text>
<text transform="translate(190.5,364.74) scale(0.84,1)" font-size="6.5" text-anchor="middle" stroke="#1e1e1e" stroke-width="0.16">12 wk</text>
<text transform="translate(214.5,364.74) scale(0.84,1)" font-size="6.5" text-anchor="middle" stroke="#1e1e1e" stroke-width="0.16">20 wk</text>
<text x="191.3" y="376.92" font-size="8.4" text-anchor="middle" textLength="19.2" lengthAdjust="spacingAndGlyphs" stroke="#1e1e1e" stroke-width="0.16">Weeks</text>
<text x="190.5" y="253.8" font-size="5" text-anchor="middle" stroke="#1e1e1e" stroke-width="0.16"><tspan font-style="italic">P</tspan>=0.0024</text>
<text transform="translate(133.8,306) rotate(-90)" x="0" y="2.59" font-size="7.2" text-anchor="middle" textLength="80.5" lengthAdjust="spacingAndGlyphs" stroke="#1e1e1e" stroke-width="0.16"># repopulating units (CRU)</text>
<rect x="260.6" y="37.7" width="60" height="60.6" fill="#fff" stroke="#9a9a9a" stroke-width="0.75"/>
<line x1="260.6" y1="43.5" x2="261.6" y2="43.5" stroke="#999" stroke-width="0.5"/>
<line x1="260.6" y1="51.5" x2="261.6" y2="51.5" stroke="#999" stroke-width="0.5"/>
<line x1="260.6" y1="59.5" x2="261.6" y2="59.5" stroke="#999" stroke-width="0.5"/>
<line x1="260.6" y1="68.5" x2="261.6" y2="68.5" stroke="#999" stroke-width="0.5"/>
<line x1="260.6" y1="76.5" x2="261.6" y2="76.5" stroke="#999" stroke-width="0.5"/>
<line x1="260.6" y1="84.5" x2="261.6" y2="84.5" stroke="#999" stroke-width="0.5"/>
<line x1="260.6" y1="92.5" x2="261.6" y2="92.5" stroke="#999" stroke-width="0.5"/>
<line x1="266.5" y1="98.3" x2="266.5" y2="97.3" stroke="#999" stroke-width="0.5"/>
<line x1="274.5" y1="98.3" x2="274.5" y2="97.3" stroke="#999" stroke-width="0.5"/>
<line x1="282.5" y1="98.3" x2="282.5" y2="97.3" stroke="#999" stroke-width="0.5"/>
<line x1="290.5" y1="98.3" x2="290.5" y2="97.3" stroke="#999" stroke-width="0.5"/>
<line x1="298.5" y1="98.3" x2="298.5" y2="97.3" stroke="#999" stroke-width="0.5"/>
<line x1="306.5" y1="98.3" x2="306.5" y2="97.3" stroke="#999" stroke-width="0.5"/>
<line x1="314.5" y1="98.3" x2="314.5" y2="97.3" stroke="#999" stroke-width="0.5"/>
<g clip-path="url(#cp11)">
<rect x="267.73" y="77.78" width="16.15" height="14.45" rx="4.28" fill="#000" fill-opacity="0.81" filter="url(#fb)"/>
<ellipse cx="277" cy="55" rx="17.88" ry="9.9" fill="url(#bg1)"/>
<ellipse cx="304" cy="54.5" rx="3.74" ry="5.5" fill="url(#bg2)"/>
<ellipse cx="291.5" cy="55" rx="4.84" ry="4.4" fill="url(#bg3)"/>
<ellipse cx="298" cy="55" rx="8.8" ry="5.5" fill="url(#bg4)"/>
<path d="M283.3 92.0h.6M268.6 85.0h.6M272.2 82.6h.6M285.1 86.5h.6M280.0 90.1h.6M279.5 83.4h.6M285.9 89.3h.6M280.8 89.8h.6M286.7 81.7h.6M267.8 78.1h.6M269.6 91.0h.6M272.6 84.8h.6M275.0 83.9h.6M275.2 88.6h.6M280.6 90.0h.6M277.6 78.5h.6M272.2 79.0h.6M268.3 84.5h.6M279.3 77.9h.6M273.4 84.3h.6M284.6 84.1h.6M276.3 86.5h.6M271.0 83.5h.6M267.4 85.8h.6M270.2 91.7h.6M271.1 82.2h.6M276.4 91.1h.6M278.7 77.2h.6M279.0 81.9h.6M277.3 86.4h.6M269.7 86.1h.6M275.5 86.3h.6M283.1 88.8h.6M278.7 83.0h.6M267.2 88.6h.6M278.6 88.3h.6M272.6 79.6h.6M278.3 92.2h.6M280.6 81.9h.6M277.2 90.9h.6M279.1 85.6h.6M278.0 91.1h.6M274.8 86.4h.6M271.2 85.8h.6M284.2 80.0h.6M273.5 79.0h.6M272.8 89.3h.6M284.2 85.8h.6M282.4 94.2h.6M281.5 84.9h.6M270.4 86.2h.6M272.3 77.0h.6M283.6 87.5h.6M283.3 86.5h.6M278.4 81.6h.6M272.1 82.9h.6M272.8 91.9h.6M272.4 91.7h.6M283.6 89.4h.6M280.7 93.3h.6M281.9 85.9h.6M277.7 82.3h.6M263.8 87.3h.6M281.5 90.2h.6M275.2 76.7h.6M279.1 93.4h.6M281.7 87.2h.6M271.7 82.4h.6M282.4 80.4h.6M283.5 86.2h.6M279.1 76.7h.6M279.5 93.5h.6M285.0 90.4h.6M283.3 85.8h.6M274.3 89.8h.6M274.1 74.6h.6M269.1 85.3h.6M281.1 78.8h.6M276.4 87.7h.6M272.4 92.1h.6M275.4 92.5h.6M283.1 84.1h.6M285.0 81.8h.6M273.6 88.0h.6M268.4 87.8h.6M272.7 91.4h.6M275.7 82.0h.6M286.0 87.3h.6M282.1 87.5h.6M267.7 90.0h.6M275.9 88.7h.6M279.7 79.9h.6M275.5 79.2h.6M267.4 82.8h.6M271.8 79.3h.6M273.4 79.5h.6M276.9 80.1h.6M283.2 81.7h.6M279.6 89.7h.6M268.7 78.5h.6M280.0 89.8h.6M269.3 87.2h.6M277.0 80.2h.6M279.0 82.7h.6M276.5 74.1h.6M281.0 86.0h.6M270.0 91.3h.6M280.7 92.2h.6M286.4 84.9h.6M278.4 88.0h.6M276.1 93.4h.6M271.1 90.2h.6M283.3 87.7h.6M282.7 78.5h.6M270.6 79.6h.6M280.2 91.1h.6M268.6 85.1h.6M279.8 86.9h.6M274.6 84.1h.6M276.8 92.6h.6M283.4 86.7h.6M282.6 90.4h.6M271.4 83.6h.6M271.0 80.0h.6M271.8 92.1h.6M270.4 78.9h.6M270.7 91.1h.6M278.7 87.8h.6M274.2 88.2h.6M272.8 87.1h.6M282.8 81.2h.6M278.2 86.9h.6M278.8 86.6h.6M274.3 84.4h.6M287.0 82.7h.6M280.3 82.3h.6M273.7 79.2h.6M281.5 87.3h.6M279.3 76.4h.6M272.1 77.6h.6M279.4 89.1h.6M268.4 86.5h.6M279.4 86.0h.6M277.3 81.1h.6M274.9 80.9h.6M277.4 80.9h.6M276.3 78.3h.6M274.8 93.6h.6M277.5 79.2h.6M275.8 90.3h.6M282.5 92.0h.6M275.1 85.5h.6M275.0 85.0h.6M275.3 86.8h.6M269.4 80.5h.6M269.7 80.9h.6M276.3 92.6h.6M268.0 78.2h.6M272.5 88.7h.6M274.8 75.8h.6M274.7 89.0h.6M278.3 78.1h.6M268.5 88.9h.6M265.7 81.9h.6M273.7 81.3h.6M271.0 84.5h.6M275.7 86.9h.6M282.8 84.2h.6M284.8 90.6h.6M271.4 92.7h.6M267.4 82.6h.6M285.5 86.6h.6M281.7 92.7h.6M277.5 80.2h.6M278.0 75.9h.6M271.1 80.1h.6M278.9 83.0h.6M276.0 79.1h.6M273.3 92.0h.6M269.8 78.1h.6M270.9 92.0h.6M275.8 83.0h.6M269.2 90.2h.6M283.3 94.7h.6M282.1 79.5h.6M271.6 75.3h.6M275.5 76.7h.6M267.0 81.9h.6M276.6 81.5h.6M265.3 88.2h.6M268.2 82.0h.6M285.2 88.5h.6M270.0 83.1h.6M279.1 78.1h.6M273.5 77.9h.6M279.1 76.6h.6M267.8 85.2h.6M281.8 80.0h.6M278.2 86.7h.6M277.7 83.3h.6M271.1 89.4h.6M284.4 90.0h.6M270.2 80.3h.6M269.5 86.6h.6M273.3 86.1h.6M280.1 79.8h.6M280.8 90.3h.6M269.6 80.0h.6M268.0 89.2h.6M270.3 84.1h.6M265.9 85.0h.6M279.5 88.7h.6M271.9 84.7h.6M279.5 81.1h.6M280.9 93.5h.6M279.9 85.3h.6M281.0 87.1h.6M266.4 87.2h.6M283.5 83.9h.6M284.3 87.2h.6M278.1 84.9h.6M265.9 83.0h.6M279.8 88.4h.6M271.7 87.1h.6M278.3 93.2h.6M273.2 74.9h.6M267.7 83.1h.6M273.7 92.9h.6M275.5 92.6h.6M283.0 77.9h.6M276.5 79.1h.6M272.6 86.2h.6M267.9 89.8h.6M275.2 78.1h.6M282.0 84.0h.6M282.5 88.3h.6M277.0 86.7h.6M275.0 85.9h.6M271.8 84.8h.6M282.7 88.0h.6M284.1 87.6h.6M278.0 95.3h.6M266.8 92.0h.6M275.2 77.4h.6M267.5 78.8h.6M286.3 86.7h.6M284.3 87.2h.6M272.8 85.8h.6M278.2 82.9h.6M283.7 80.8h.6M272.9 88.0h.6M283.0 79.5h.6M281.2 82.7h.6M275.0 85.5h.6M275.6 78.1h.6M271.0 89.9h.6M277.5 87.2h.6M271.6 83.1h.6M281.5 88.1h.6M273.0 80.9h.6M279.3 76.9h.6M278.8 83.4h.6M268.9 87.1h.6M281.2 89.4h.6M284.2 79.7h.6M278.0 82.9h.6M277.9 84.6h.6M272.5 83.0h.6M273.5 81.1h.6M272.6 87.9h.6M276.8 86.9h.6M274.9 88.1h.6M275.0 81.1h.6M272.6 90.6h.6M273.0 78.5h.6M270.1 84.9h.6M271.3 86.3h.6M279.3 84.4h.6M278.7 89.5h.6M272.0 85.3h.6M279.7 90.5h.6M284.6 81.7h.6M268.5 85.5h.6M273.2 89.1h.6M276.8 86.6h.6M273.7 83.7h.6M269.3 89.3h.6M280.6 89.4h.6M285.1 86.7h.6M273.1 87.0h.6M270.8 82.4h.6M268.5 84.2h.6M281.9 81.0h.6M283.0 81.0h.6M284.1 81.9h.6M276.9 82.0h.6M271.0 85.6h.6M266.7 83.8h.6M268.5 89.9h.6M266.5 91.1h.6M285.6 87.3h.6M278.5 77.4h.6M276.0 93.7h.6M284.2 86.4h.6M271.5 85.8h.6M274.1 77.5h.6M271.0 86.8h.6M271.1 89.9h.6M273.6 82.0h.6M276.3 85.8h.6M283.7 85.5h.6M268.4 80.7h.6M267.9 83.6h.6M279.1 81.7h.6M271.3 87.4h.6M277.0 80.2h.6M283.7 85.8h.6M285.5 86.5h.6M267.3 79.6h.6M277.3 93.8h.6M281.0 87.1h.6M280.9 89.7h.6M273.1 87.4h.6M272.0 90.6h.6M272.4 83.7h.6M281.8 80.4h.6M271.5 89.3h.6M277.7 88.9h.6M271.0 82.7h.6M285.4 85.1h.6M270.1 89.5h.6M272.9 90.7h.6M273.8 86.5h.6M279.4 86.1h.6M267.4 82.3h.6M268.8 78.8h.6M271.5 77.9h.6M278.4 90.7h.6M274.6 75.4h.6M267.4 82.0h.6M269.6 86.0h.6M276.9 79.6h.6M276.4 86.3h.6M275.3 89.6h.6M292.0 77.4h.6M274.0 84.5h.6M276.7 82.6h.6M268.7 72.6h.6M273.3 83.8h.6M279.6 79.9h.6M279.9 93.5h.6M274.7 79.4h.6M278.6 95.8h.6M276.2 81.6h.6M262.4 97.4h.6M292.3 87.9h.6M281.7 90.1h.6M275.4 90.8h.6M263.4 93.9h.6M266.7 96.0h.6M285.5 82.8h.6M273.5 68.0h.6M282.0 82.5h.6M276.8 89.8h.6M281.2 87.4h.6M274.9 85.7h.6M292.9 82.8h.6M268.5 80.9h.6M266.1 83.2h.6M277.8 87.5h.6M286.0 73.8h.6M275.4 89.6h.6M283.3 75.7h.6M272.0 84.0h.6M267.4 81.0h.6M285.8 82.6h.6M287.0 78.3h.6M286.7 77.6h.6M272.7 83.5h.6M267.6 78.1h.6M274.2 82.3h.6M279.9 80.8h.6M279.4 81.5h.6M265.6 78.1h.6M277.2 69.3h.6M275.9 83.3h.6M276.4 86.9h.6M275.6 75.4h.6M274.4 85.0h.6M280.0 77.2h.6M276.7 84.7h.6M277.4 87.2h.6M270.9 88.0h.6M278.6 87.7h.6M274.9 80.5h.6M279.2 82.1h.6M273.9 87.2h.6M282.4 89.4h.6M274.6 83.0h.6M275.1 76.8h.6M277.3 88.9h.6M275.7 77.8h.6M272.6 79.3h.6M263.0 77.9h.6M288.9 90.3h.6M264.6 83.9h.6M273.4 70.6h.6M280.5 89.6h.6M279.8 96.4h.6M281.3 81.3h.6M284.8 85.4h.6M277.9 88.2h.6M296.5 90.6h.6M268.6 85.2h.6M277.4 78.0h.6M273.2 89.7h.6M271.9 88.9h.6M277.8 76.5h.6M286.2 82.6h.6M270.7 86.6h.6M270.7 84.9h.6M281.0 88.3h.6M279.7 90.0h.6M289.7 88.4h.6M283.1 84.2h.6M277.4 76.3h.6M273.5 88.9h.6M277.3 93.9h.6M266.1 84.7h.6M275.9 84.7h.6M274.6 94.1h.6M274.1 94.1h.6M272.7 87.1h.6M287.8 89.5h.6M280.8 80.1h.6M282.5 88.6h.6M271.5 79.6h.6M268.5 84.0h.6M273.8 84.1h.6M277.5 81.9h.6M273.3 71.4h.6M274.5 79.6h.6M282.7 87.0h.6M277.9 84.5h.6M268.8 82.4h.6M272.8 87.6h.6M271.1 89.3h.6M277.1 90.3h.6M267.5 79.8h.6M274.5 85.0h.6M280.7 82.8h.6M276.0 79.3h.6M269.3 75.4h.6M271.4 84.3h.6M276.7 79.3h.6M281.8 84.3h.6M274.8 83.5h.6M266.4 82.4h.6M286.0 96.9h.6M277.9 78.9h.6M278.7 83.9h.6M278.0 80.0h.6M268.4 84.1h.6M273.5 84.7h.6M277.6 91.9h.6M283.2 75.9h.6M276.2 84.8h.6M274.1 81.6h.6M278.3 83.8h.6M285.0 79.2h.6M280.9 68.2h.6M293.5 84.2h.6M285.9 92.4h.6M285.4 81.9h.6M282.5 73.1h.6M266.0 86.6h.6M281.8 85.4h.6M280.1 91.3h.6M272.1 90.7h.6M280.0 83.2h.6M278.8 87.4h.6M272.5 73.4h.6M274.9 92.0h.6M273.9 86.1h.6M277.4 91.8h.6M272.8 91.7h.6M279.7 83.1h.6M262.1 83.9h.6M273.8 79.3h.6M263.8 71.7h.6M272.4 84.1h.6M279.5 85.9h.6M276.0 78.0h.6M275.0 89.4h.6M276.3 85.5h.6M287.0 87.8h.6M277.9 89.9h.6M271.7 82.9h.6M277.6 85.6h.6M281.7 86.3h.6M272.2 90.7h.6M279.8 95.7h.6M274.7 84.1h.6M274.8 91.3h.6M275.0 82.9h.6M281.8 87.7h.6M269.0 79.8h.6M273.3 80.7h.6M279.2 86.8h.6M268.4 80.0h.6M266.3 89.2h.6M278.7 81.8h.6M275.4 85.0h.6M274.6 84.2h.6M276.3 82.9h.6M269.8 85.3h.6M292.2 90.2h.6M272.9 78.5h.6M267.3 86.2h.6M273.0 83.7h.6M284.2 79.9h.6M275.5 86.1h.6M278.9 80.1h.6M272.7 84.2h.6M285.9 91.0h.6M276.4 74.2h.6M268.3 85.9h.6M279.9 86.9h.6M273.3 79.7h.6M278.9 87.3h.6M276.2 86.4h.6M277.0 82.8h.6M276.2 90.9h.6M270.2 77.9h.6M266.8 87.9h.6M281.0 83.4h.6M274.7 79.2h.6M277.1 83.7h.6M272.8 82.8h.6M263.8 88.8h.6M268.1 76.9h.6M283.5 83.6h.6M270.9 82.3h.6M273.2 92.7h.6M267.0 78.9h.6M272.4 90.1h.6M273.3 75.6h.6M274.2 86.4h.6M275.0 83.9h.6M271.8 86.6h.6M272.1 81.0h.6M275.3 74.6h.6M277.3 76.7h.6M274.6 91.3h.6M285.4 85.7h.6M276.6 80.1h.6M276.3 89.2h.6M271.6 80.7h.6M281.3 80.8h.6M269.5 78.3h.6M266.1 90.6h.6M269.8 94.7h.6M279.0 79.6h.6M268.8 86.0h.6M282.8 89.6h.6M275.3 95.4h.6M266.7 72.2h.6M274.1 85.3h.6M285.6 87.9h.6M270.5 76.9h.6M267.9 86.6h.6M278.3 85.5h.6M282.9 88.2h.6M271.0 59.9h.6M279.9 48.5h.6M270.8 55.8h.6M281.6 58.2h.6M277.6 58.4h.6M272.8 49.9h.6M263.5 48.2h.6M290.9 63.8h.6M286.1 53.0h.6M284.0 47.4h.6M270.2 49.4h.6M273.0 55.6h.6M291.1 61.4h.6M282.8 55.5h.6M268.5 61.5h.6M276.6 56.6h.6M277.4 57.8h.6M274.4 60.4h.6M267.7 53.6h.6M287.4 56.9h.6M281.4 53.5h.6M274.4 52.3h.6M262.1 58.7h.6M271.0 51.4h.6M276.2 55.8h.6M284.0 51.5h.6M272.9 55.0h.6M286.1 52.8h.6M277.5 60.8h.6M269.6 55.8h.6M265.8 63.5h.6M262.9 41.0h.6M274.9 49.8h.6M279.2 41.8h.6M288.7 55.3h.6M276.2 57.5h.6M265.9 58.5h.6M297.3 56.6h.6M279.1 50.9h.6M274.0 63.9h.6M274.0 56.7h.6M264.2 53.9h.6M282.0 49.7h.6M279.7 57.3h.6M290.5 52.8h.6M286.2 53.0h.6M284.1 56.2h.6M287.6 56.3h.6M273.8 51.1h.6M272.4 61.4h.6M276.0 50.2h.6M265.3 49.6h.6M275.1 56.7h.6M273.5 55.8h.6M282.4 55.5h.6M276.3 53.1h.6M276.7 52.3h.6M289.1 47.0h.6M269.7 50.1h.6M276.6 54.0h.6M264.6 58.7h.6M271.6 55.2h.6M277.0 68.7h.6M264.7 48.2h.6M279.2 51.4h.6M280.2 55.5h.6M265.2 61.8h.6M276.8 53.9h.6M286.2 48.0h.6M275.0 60.7h.6M280.5 50.5h.6M282.3 54.1h.6M274.5 59.4h.6M285.4 51.8h.6M280.0 52.8h.6M267.8 57.5h.6M281.3 54.0h.6M284.4 56.5h.6M283.8 50.4h.6M270.9 54.5h.6M280.8 49.6h.6M288.9 47.3h.6M278.7 63.7h.6M287.3 57.3h.6M288.3 59.6h.6M276.4 50.2h.6M282.6 54.9h.6M274.1 54.0h.6M286.3 48.0h.6M275.9 57.7h.6M271.8 51.5h.6M276.5 54.0h.6M276.1 47.5h.6M280.2 59.9h.6M280.9 58.8h.6M266.4 57.0h.6M271.0 50.5h.6M280.0 52.4h.6M281.1 61.1h.6M277.6 53.7h.6M300.4 56.3h.6M286.8 55.7h.6M276.2 49.5h.6M283.4 62.6h.6M288.8 45.2h.6M280.1 56.1h.6M277.8 47.0h.6M277.4 56.7h.6M296.0 57.6h.6M290.8 50.9h.6M275.6 57.2h.6M285.3 60.5h.6M274.4 56.1h.6M278.6 63.6h.6M287.1 59.3h.6M277.8 58.8h.6M286.5 61.9h.6M276.3 51.7h.6M273.4 52.4h.6M275.1 57.6h.6M272.6 57.6h.6M276.0 62.5h.6M289.3 60.7h.6M266.6 55.9h.6M262.3 56.1h.6M276.9 53.7h.6M292.2 53.2h.6M286.5 52.8h.6M288.9 59.5h.6M288.3 52.7h.6M270.6 53.3h.6M278.2 55.9h.6M271.7 54.0h.6M282.6 44.3h.6M263.3 57.0h.6M265.6 56.1h.6M279.2 57.0h.6M287.6 46.0h.6M300.3 67.1h.6M290.0 56.0h.6M263.7 56.1h.6M278.6 58.4h.6M286.8 57.4h.6M262.9 53.7h.6M272.7 56.7h.6M273.3 61.9h.6M277.7 53.9h.6M275.8 51.1h.6M282.0 62.2h.6M286.9 57.0h.6M278.1 54.8h.6M284.2 67.1h.6M295.3 56.5h.6M268.4 54.9h.6M268.2 57.0h.6M282.1 53.7h.6M294.1 56.8h.6M279.1 56.5h.6M287.4 52.5h.6M274.8 54.4h.6M285.8 57.2h.6M272.0 57.6h.6M283.7 58.6h.6M281.2 59.6h.6M281.2 56.9h.6M290.0 58.2h.6M287.3 53.8h.6M272.4 54.4h.6M285.7 60.8h.6M262.6 45.8h.6M286.6 57.4h.6M302.4 71.2h.6M282.6 46.4h.6M282.4 63.0h.6M278.5 46.8h.6M285.3 57.3h.6M273.9 63.5h.6M284.0 62.8h.6M275.6 50.9h.6M274.2 49.0h.6M279.1 48.3h.6M277.5 58.9h.6M262.5 53.4h.6M296.6 55.3h.6M279.3 56.6h.6M262.9 57.3h.6M287.7 57.9h.6M277.9 55.9h.6M279.9 47.3h.6M284.4 62.5h.6M270.1 41.6h.6M277.2 52.2h.6M280.3 54.2h.6M287.1 52.6h.6M271.4 53.4h.6M275.7 55.1h.6M281.7 53.8h.6M275.3 49.8h.6M275.9 59.4h.6M280.4 52.3h.6M269.2 61.8h.6M292.3 54.4h.6M269.9 51.7h.6M278.4 57.4h.6M275.2 59.6h.6M271.8 50.6h.6M282.9 53.8h.6M287.1 62.2h.6M291.1 50.2h.6M283.3 51.0h.6M274.1 56.0h.6M301.8 61.0h.6M299.5 60.8h.6M301.0 53.2h.6M304.8 55.6h.6M305.3 58.1h.6M305.2 51.3h.6M304.8 53.0h.6M301.8 58.3h.6M305.3 52.7h.6M306.2 53.4h.6M302.8 50.9h.6M305.8 52.5h.6M303.4 56.5h.6M304.4 52.3h.6M304.8 51.0h.6M301.3 52.8h.6M306.8 59.5h.6M302.5 55.0h.6M303.9 53.0h.6M303.2 55.0h.6M304.9 55.8h.6M304.9 54.9h.6M304.1 49.6h.6M306.7 55.4h.6M304.6 54.0h.6M303.3 56.9h.6M298.7 50.8h.6M303.5 57.4h.6M303.5 53.2h.6M302.4 49.8h.6M302.5 58.2h.6M305.2 53.1h.6M306.0 55.6h.6M307.6 54.1h.6M306.2 57.5h.6M302.8 57.6h.6M304.6 57.6h.6M301.5 56.5h.6M305.4 50.0h.6M304.7 49.9h.6M302.9 55.1h.6M303.9 51.9h.6M303.6 55.8h.6M302.9 55.0h.6M306.5 50.6h.6M309.9 51.6h.6M305.6 51.4h.6M306.1 52.0h.6M304.4 53.9h.6M303.4 56.4h.6M308.2 58.2h.6M303.4 51.8h.6M304.8 52.9h.6M303.9 58.8h.6M305.2 57.0h.6M304.0 55.1h.6M305.2 48.0h.6M301.7 51.7h.6M303.9 54.9h.6M306.6 52.9h.6M302.1 60.0h.6M302.8 54.7h.6M306.6 55.3h.6M304.8 51.4h.6M306.1 51.6h.6M299.9 52.6h.6M304.4 52.8h.6M301.7 53.8h.6M301.5 55.5h.6M304.8 55.1h.6M306.3 57.3h.6M301.3 50.7h.6M302.0 55.1h.6M303.0 55.2h.6M303.8 58.9h.6M301.6 53.9h.6M308.3 55.4h.6M305.2 52.2h.6M303.4 55.7h.6M303.1 55.6h.6M293.8 54.9h.6M290.6 54.2h.6M294.3 57.5h.6M292.8 51.1h.6M290.7 56.2h.6M294.4 52.5h.6M293.5 53.2h.6M290.3 53.5h.6M287.6 55.3h.6M290.2 55.2h.6M293.0 55.7h.6M290.9 55.5h.6M295.8 58.1h.6M292.1 58.7h.6M292.0 56.6h.6M292.5 56.7h.6M289.3 54.2h.6M291.2 52.6h.6M289.9 56.3h.6M285.8 55.1h.6M287.1 56.9h.6M293.3 50.9h.6M290.4 60.9h.6M291.2 52.2h.6M287.9 55.1h.6M290.1 57.2h.6M293.4 51.9h.6M291.7 53.8h.6M290.2 50.5h.6M295.2 51.8h.6M289.4 51.1h.6M298.4 54.6h.6M299.3 57.0h.6M296.6 53.8h.6M303.6 57.2h.6M304.1 55.9h.6M298.0 56.6h.6M297.0 54.8h.6M296.8 55.8h.6M296.0 56.5h.6M303.8 50.9h.6M299.0 52.5h.6M296.5 52.2h.6M297.0 59.7h.6M300.4 55.8h.6M296.2 56.0h.6M299.4 55.5h.6M297.8 53.6h.6M304.0 52.9h.6M303.1 57.4h.6" stroke="#000" stroke-width=".6" stroke-opacity=".45" fill="none"/>
<path d="M273.4 85.8h.5M276.7 91.3h.5M282.0 82.7h.5M268.9 88.0h.5M273.0 87.3h.5M280.7 81.9h.5M278.0 78.4h.5M276.5 80.3h.5M280.4 82.5h.5M275.7 83.6h.5M273.2 91.4h.5M281.3 83.8h.5M281.0 85.8h.5M281.3 81.3h.5M268.9 88.4h.5M271.6 91.1h.5M270.9 85.7h.5M270.4 88.5h.5M279.2 81.3h.5M278.5 78.4h.5M275.6 78.2h.5M276.6 91.2h.5M268.6 87.6h.5M281.2 87.5h.5M275.5 79.2h.5M279.1 85.8h.5M270.1 88.9h.5M278.5 88.3h.5M279.6 80.4h.5M276.1 84.8h.5M274.5 89.7h.5M280.5 80.7h.5M278.8 90.5h.5M274.2 79.4h.5M275.8 88.8h.5M269.3 87.1h.5M270.5 81.0h.5M271.9 89.7h.5M277.5 89.4h.5M273.0 83.4h.5M277.5 79.5h.5M277.7 85.0h.5M272.2 91.6h.5M275.6 89.5h.5M279.8 86.9h.5M277.4 89.9h.5M278.5 85.4h.5M275.8 92.2h.5M274.5 77.5h.5M281.6 89.6h.5M271.9 80.4h.5M273.5 92.1h.5M276.5 89.4h.5M270.0 85.5h.5M272.5 86.2h.5M270.5 86.6h.5M281.9 90.0h.5M269.4 82.5h.5M281.0 81.7h.5M282.0 85.3h.5M281.8 88.0h.5M270.1 81.9h.5M273.4 89.7h.5M275.7 90.5h.5M278.5 84.8h.5M273.8 89.8h.5M282.0 82.0h.5M272.8 82.6h.5M280.2 85.8h.5M275.0 91.8h.5M278.6 86.3h.5M272.1 84.2h.5M282.3 81.2h.5M278.6 85.9h.5M280.4 85.7h.5M283.8 86.3h.5M275.0 89.9h.5M279.7 91.0h.5M283.1 83.7h.5M276.0 83.9h.5M279.5 83.7h.5M268.6 81.5h.5M277.9 81.1h.5M274.4 80.3h.5M273.6 92.1h.5M274.2 82.9h.5M273.7 92.3h.5M269.1 86.4h.5M278.8 79.6h.5M275.8 85.2h.5M278.9 90.4h.5M280.4 79.4h.5M270.6 86.1h.5M276.9 86.8h.5M274.5 87.5h.5M275.3 87.1h.5M280.2 82.0h.5M268.2 86.2h.5M277.6 84.1h.5M270.4 85.9h.5M280.8 83.2h.5M280.5 82.6h.5M270.1 82.7h.5M277.2 79.5h.5M274.9 88.4h.5M281.5 89.5h.5M270.9 81.6h.5M280.6 86.5h.5M267.6 86.5h.5M270.6 80.6h.5M276.2 81.9h.5M282.5 80.4h.5M277.6 90.6h.5M279.1 81.7h.5M271.6 85.1h.5M274.2 83.6h.5M271.7 85.9h.5M278.4 81.6h.5M274.3 89.3h.5M284.3 85.4h.5M278.9 79.8h.5M273.8 82.2h.5M274.7 80.4h.5M279.8 88.5h.5M276.5 87.1h.5M271.7 81.3h.5M275.7 79.5h.5M271.5 78.8h.5M271.2 82.1h.5M271.8 79.8h.5M280.0 90.1h.5M272.4 86.0h.5M272.7 90.1h.5M275.3 79.9h.5M272.4 84.7h.5M275.6 83.8h.5M272.9 77.8h.5M277.9 83.7h.5M280.8 79.3h.5M280.7 86.5h.5M274.6 83.1h.5M269.9 90.4h.5M281.4 88.7h.5M270.4 85.7h.5M280.1 79.2h.5M277.9 78.8h.5M280.1 88.0h.5M277.9 91.2h.5M273.3 78.8h.5M279.3 84.4h.5M282.2 88.0h.5M303.1 56.1h.5M303.4 53.4h.5M304.0 55.2h.5M304.8 51.2h.5M302.4 55.2h.5M305.2 51.4h.5M303.5 54.8h.5M306.6 49.4h.5M306.0 54.4h.5M303.4 56.0h.5M303.1 55.5h.5M307.4 56.9h.5M304.9 52.3h.5M304.8 57.7h.5M303.4 57.7h.5M303.8 52.1h.5M305.1 52.9h.5M304.8 53.3h.5M302.9 54.4h.5M305.7 54.9h.5M304.4 49.5h.5M302.7 55.7h.5M305.4 54.0h.5M303.8 52.4h.5" stroke="#fff" stroke-width=".55" stroke-opacity=".45" fill="none"/>
</g>
<rect x="286.3" y="44.3" width="25.3" height="19.1" fill="none" stroke="#6468ac" stroke-width="0.75"/>
<text x="298.95" y="70.49" font-size="5.8" text-anchor="middle" fill="#3d4278" stroke="#3d4278" stroke-width="0.16">9.98</text>
<rect x="330.1" y="37.7" width="60.2" height="60.6" fill="#fff" stroke="#9a9a9a" stroke-width="0.75"/>
<line x1="330.1" y1="43.5" x2="331.1" y2="43.5" stroke="#999" stroke-width="0.5"/>
<line x1="330.1" y1="51.5" x2="331.1" y2="51.5" stroke="#999" stroke-width="0.5"/>
<line x1="330.1" y1="59.5" x2="331.1" y2="59.5" stroke="#999" stroke-width="0.5"/>
<line x1="330.1" y1="68.5" x2="331.1" y2="68.5" stroke="#999" stroke-width="0.5"/>
<line x1="330.1" y1="76.5" x2="331.1" y2="76.5" stroke="#999" stroke-width="0.5"/>
<line x1="330.1" y1="84.5" x2="331.1" y2="84.5" stroke="#999" stroke-width="0.5"/>
<line x1="330.1" y1="92.5" x2="331.1" y2="92.5" stroke="#999" stroke-width="0.5"/>
<line x1="336.5" y1="98.3" x2="336.5" y2="97.3" stroke="#999" stroke-width="0.5"/>
<line x1="344.5" y1="98.3" x2="344.5" y2="97.3" stroke="#999" stroke-width="0.5"/>
<line x1="352.5" y1="98.3" x2="352.5" y2="97.3" stroke="#999" stroke-width="0.5"/>
<line x1="360.5" y1="98.3" x2="360.5" y2="97.3" stroke="#999" stroke-width="0.5"/>
<line x1="368.5" y1="98.3" x2="368.5" y2="97.3" stroke="#999" stroke-width="0.5"/>
<line x1="376.5" y1="98.3" x2="376.5" y2="97.3" stroke="#999" stroke-width="0.5"/>
<line x1="384.5" y1="98.3" x2="384.5" y2="97.3" stroke="#999" stroke-width="0.5"/>
<g clip-path="url(#cp12)">
<rect x="337.43" y="77.78" width="16.15" height="14.45" rx="4.28" fill="#000" fill-opacity="0.48" filter="url(#fb)"/>
<ellipse cx="346" cy="54" rx="16.5" ry="8.8" fill="url(#bg6)"/>
<ellipse cx="373" cy="53" rx="5.06" ry="7.04" fill="url(#bg7)"/>
<ellipse cx="360.5" cy="52.5" rx="4.62" ry="3.96" fill="url(#bg8)"/>
<ellipse cx="352" cy="53" rx="11" ry="4.84" fill="url(#bg9)"/>
<path d="M345.5 88.8h.6M353.8 82.4h.6M347.6 89.6h.6M347.1 87.9h.6M342.2 89.0h.6M346.9 95.1h.6M341.6 78.6h.6M350.0 88.5h.6M353.1 79.8h.6M352.9 76.8h.6M355.3 85.2h.6M343.9 84.6h.6M353.5 90.7h.6M345.0 93.7h.6M335.9 89.9h.6M334.0 88.1h.6M335.2 86.9h.6M354.8 80.9h.6M345.1 91.4h.6M346.8 87.9h.6M341.7 78.8h.6M347.3 84.4h.6M350.1 82.8h.6M350.2 81.1h.6M350.1 86.7h.6M354.4 81.6h.6M340.6 79.0h.6M352.6 78.3h.6M337.2 89.8h.6M347.1 92.3h.6M346.5 81.7h.6M342.3 80.4h.6M347.2 76.6h.6M347.7 91.3h.6M350.0 89.5h.6M346.3 76.9h.6M350.1 85.5h.6M353.8 82.4h.6M350.6 90.1h.6M342.9 83.3h.6M340.1 87.7h.6M340.7 93.6h.6M348.3 89.5h.6M345.7 84.1h.6M349.7 82.8h.6M344.6 78.9h.6M342.6 83.1h.6M344.8 82.5h.6M342.1 84.3h.6M337.6 82.3h.6M353.1 80.5h.6M344.5 89.3h.6M346.8 91.6h.6M352.4 82.9h.6M348.4 84.0h.6M336.0 86.3h.6M348.3 77.4h.6M345.2 78.2h.6M350.5 83.5h.6M352.9 88.7h.6M352.2 80.6h.6M341.0 85.0h.6M341.3 86.2h.6M342.0 77.4h.6M339.6 80.2h.6M338.8 87.5h.6M342.8 94.3h.6M352.7 81.4h.6M348.7 78.8h.6M353.3 90.2h.6M337.2 90.1h.6M346.3 76.4h.6M353.0 78.6h.6M354.4 83.1h.6M346.1 93.8h.6M352.1 80.2h.6M344.8 83.3h.6M355.7 89.2h.6M347.4 91.7h.6M346.6 87.5h.6M354.1 89.1h.6M342.0 77.5h.6M342.6 91.4h.6M343.7 80.8h.6M352.1 88.3h.6M348.3 82.4h.6M343.1 79.1h.6M347.2 77.4h.6M338.5 80.1h.6M336.4 87.2h.6M349.2 93.8h.6M354.4 82.0h.6M351.1 91.6h.6M337.6 84.0h.6M349.0 88.0h.6M347.6 86.5h.6M342.7 77.8h.6M351.0 80.8h.6M345.1 85.1h.6M346.5 82.0h.6M351.8 78.1h.6M335.3 82.9h.6M347.2 75.3h.6M343.9 90.1h.6M349.6 90.1h.6M347.8 90.2h.6M352.7 85.3h.6M347.1 85.7h.6M345.6 77.5h.6M352.4 80.7h.6M351.0 86.9h.6M343.6 75.9h.6M347.1 76.8h.6M344.6 83.3h.6M338.5 85.0h.6M337.0 85.7h.6M343.1 79.1h.6M345.8 93.9h.6M345.6 79.5h.6M349.1 93.5h.6M352.8 86.5h.6M354.6 81.4h.6M348.4 86.7h.6M348.5 92.8h.6M354.2 87.8h.6M353.1 85.4h.6M350.3 89.2h.6M351.4 82.2h.6M344.1 81.5h.6M341.0 87.7h.6M352.7 85.3h.6M348.3 80.4h.6M337.6 85.7h.6M353.0 76.3h.6M340.8 84.9h.6M355.1 89.6h.6M355.2 89.3h.6M346.9 80.0h.6M346.0 87.4h.6M350.5 91.2h.6M338.2 89.2h.6M344.9 92.5h.6M343.8 94.1h.6M346.7 81.0h.6M335.2 86.8h.6M352.9 84.8h.6M350.8 88.3h.6M343.0 92.7h.6M348.0 82.9h.6M340.7 86.9h.6M346.2 79.7h.6M333.9 89.6h.6M338.7 89.1h.6M347.2 83.7h.6M343.2 89.9h.6M341.7 84.0h.6M338.5 82.3h.6M357.2 87.9h.6M351.5 88.8h.6M345.8 88.6h.6M356.2 85.2h.6M343.5 81.0h.6M337.1 81.0h.6M342.6 89.0h.6M336.3 89.6h.6M353.4 86.9h.6M337.7 90.0h.6M347.8 81.9h.6M351.6 86.3h.6M339.6 77.5h.6M344.0 81.6h.6M346.3 88.5h.6M342.6 93.8h.6M348.2 90.2h.6M337.8 82.0h.6M342.7 87.7h.6M347.6 87.0h.6M343.6 91.8h.6M345.8 92.5h.6M353.7 84.4h.6M337.7 79.2h.6M338.5 85.8h.6M336.1 85.6h.6M340.5 82.7h.6M353.9 84.1h.6M340.9 88.6h.6M347.3 85.6h.6M347.8 89.6h.6M349.3 85.2h.6M347.6 91.0h.6M342.2 82.8h.6M345.2 91.1h.6M348.7 80.3h.6M354.6 82.4h.6M349.0 88.1h.6M347.2 80.8h.6M342.6 80.8h.6M349.4 84.8h.6M341.2 85.2h.6M346.6 84.2h.6M333.8 80.8h.6M337.4 85.7h.6M341.8 83.8h.6M344.4 80.6h.6M348.7 92.8h.6M335.3 92.7h.6M347.1 82.8h.6M349.4 89.1h.6M355.9 92.8h.6M341.9 86.9h.6M338.4 86.0h.6M334.0 88.4h.6M348.8 74.7h.6M354.1 76.1h.6M340.0 88.6h.6M348.1 87.0h.6M351.1 94.0h.6M351.8 82.1h.6M342.2 92.3h.6M349.7 92.0h.6M338.6 80.2h.6M347.2 83.1h.6M348.0 87.1h.6M338.6 87.0h.6M348.7 79.0h.6M359.8 81.7h.6M334.9 77.0h.6M352.1 84.9h.6M346.0 85.3h.6M348.0 81.4h.6M343.7 85.5h.6M355.3 90.4h.6M338.9 83.2h.6M344.6 85.1h.6M347.8 91.2h.6M348.1 86.8h.6M333.5 82.6h.6M339.2 85.2h.6M348.8 80.6h.6M341.8 87.0h.6M336.7 81.0h.6M347.7 82.7h.6M359.0 78.4h.6M341.9 86.5h.6M348.1 81.2h.6M344.5 74.6h.6M345.8 91.2h.6M345.9 84.4h.6M362.9 87.4h.6M364.5 90.9h.6M347.3 80.0h.6M357.9 74.8h.6M339.3 83.7h.6M343.5 89.1h.6M353.2 79.4h.6M336.9 74.7h.6M335.9 81.0h.6M347.6 81.9h.6M331.1 82.7h.6M357.5 84.5h.6M347.0 84.9h.6M350.1 81.5h.6M338.8 77.7h.6M338.6 89.7h.6M351.3 74.6h.6M352.1 93.8h.6M346.4 84.6h.6M345.1 75.0h.6M341.6 85.8h.6M355.4 83.9h.6M334.9 92.4h.6M339.3 75.0h.6M341.6 85.8h.6M334.6 84.5h.6M336.0 90.4h.6M338.1 77.3h.6M352.7 79.6h.6M358.3 97.0h.6M348.0 88.1h.6M334.0 75.1h.6M341.2 86.6h.6M344.5 79.5h.6M343.6 80.1h.6M342.9 76.8h.6M349.2 90.8h.6M331.7 81.1h.6M341.4 85.8h.6M347.0 85.0h.6M350.6 74.9h.6M347.6 79.8h.6M345.4 85.0h.6M344.1 80.8h.6M351.9 90.1h.6M350.5 80.4h.6M355.8 87.8h.6M352.0 89.8h.6M340.9 91.2h.6M337.0 85.7h.6M337.5 85.2h.6M340.4 86.9h.6M349.1 85.7h.6M337.5 91.0h.6M333.8 84.8h.6M344.5 95.3h.6M350.0 82.0h.6M355.1 87.5h.6M345.3 79.4h.6M342.2 89.2h.6M343.7 87.5h.6M337.7 84.2h.6M341.6 80.0h.6M352.8 85.5h.6M357.5 95.7h.6M352.7 93.6h.6M347.1 87.3h.6M344.0 82.1h.6M346.8 85.2h.6M334.5 81.2h.6M348.7 78.3h.6M349.9 80.3h.6M344.6 88.4h.6M345.5 86.8h.6M335.6 86.1h.6M349.9 79.5h.6M349.9 77.9h.6M342.0 83.3h.6M347.3 91.3h.6M354.9 81.3h.6M340.3 90.2h.6M345.1 86.4h.6M353.8 82.9h.6M348.1 83.0h.6M344.1 95.1h.6M342.8 90.0h.6M344.1 61.5h.6M347.7 59.6h.6M333.4 55.8h.6M360.6 60.7h.6M357.9 52.2h.6M342.9 55.6h.6M350.1 60.4h.6M354.4 55.8h.6M350.2 50.1h.6M348.4 57.3h.6M353.1 59.5h.6M348.7 50.1h.6M338.1 50.9h.6M340.4 54.1h.6M344.6 60.5h.6M353.6 52.1h.6M346.3 50.6h.6M340.5 53.8h.6M349.0 59.3h.6M335.8 47.5h.6M363.2 53.5h.6M348.5 60.0h.6M337.8 54.1h.6M347.4 53.0h.6M354.9 58.0h.6M350.5 48.9h.6M362.9 63.3h.6M334.2 56.3h.6M359.2 52.5h.6M345.8 54.5h.6M353.3 53.9h.6M360.2 52.9h.6M336.0 48.7h.6M334.3 53.0h.6M342.8 46.5h.6M332.2 60.2h.6M346.7 50.8h.6M355.7 50.5h.6M342.0 57.2h.6M350.2 53.1h.6M376.5 60.3h.6M348.8 52.0h.6M343.5 54.7h.6M344.7 53.7h.6M349.6 52.5h.6M343.7 58.9h.6M351.8 59.4h.6M347.9 59.8h.6M353.7 47.9h.6M347.3 55.5h.6M345.4 49.0h.6M338.4 48.9h.6M334.6 46.1h.6M343.7 49.8h.6M342.9 56.6h.6M348.4 60.1h.6M345.5 61.6h.6M342.9 50.0h.6M364.9 51.3h.6M348.7 55.0h.6M356.2 54.6h.6M337.6 55.0h.6M354.5 46.3h.6M355.8 53.2h.6M349.8 56.6h.6M338.7 55.2h.6M356.5 53.5h.6M340.1 50.8h.6M333.2 53.6h.6M332.6 61.0h.6M346.6 56.2h.6M342.0 58.6h.6M352.8 61.3h.6M351.6 49.2h.6M357.5 56.9h.6M348.9 56.0h.6M347.0 59.8h.6M346.2 52.9h.6M339.5 53.0h.6M339.2 51.0h.6M340.0 54.7h.6M348.0 52.7h.6M339.0 53.2h.6M345.3 55.4h.6M355.0 52.2h.6M338.7 52.1h.6M337.7 51.5h.6M345.9 55.7h.6M333.6 59.3h.6M340.3 52.4h.6M364.9 43.1h.6M334.5 56.4h.6M345.1 53.6h.6M347.6 49.7h.6M343.3 52.7h.6M335.8 62.0h.6M354.1 47.3h.6M337.7 53.6h.6M343.8 40.1h.6M340.4 51.8h.6M355.3 58.1h.6M343.0 56.2h.6M361.3 55.5h.6M345.4 52.3h.6M358.2 53.1h.6M348.9 65.9h.6M343.3 54.8h.6M342.9 59.7h.6M353.8 48.3h.6M340.8 54.9h.6M345.0 55.4h.6M338.7 54.5h.6M349.7 52.0h.6M350.5 60.2h.6M335.2 56.3h.6M349.1 50.4h.6M343.2 57.7h.6M337.4 56.4h.6M350.7 55.3h.6M353.8 51.1h.6M348.5 49.3h.6M368.4 46.5h.6M348.2 52.8h.6M339.1 61.4h.6M333.1 57.6h.6M357.8 55.6h.6M341.5 57.9h.6M342.3 51.2h.6M338.6 56.1h.6M338.7 41.0h.6M342.5 51.6h.6M349.4 51.7h.6M350.1 53.5h.6M348.5 53.0h.6M353.5 56.4h.6M341.6 51.0h.6M337.2 57.8h.6M345.3 52.7h.6M352.9 54.2h.6M350.1 57.5h.6M350.3 55.8h.6M336.8 51.1h.6M341.8 54.5h.6M346.1 48.0h.6M337.5 53.9h.6M336.8 55.4h.6M344.1 52.5h.6M347.1 53.0h.6M340.3 58.0h.6M354.4 59.0h.6M364.3 59.9h.6M350.7 51.2h.6M344.4 51.8h.6M343.2 57.2h.6M359.3 57.6h.6M348.4 45.7h.6M351.0 62.4h.6M347.8 58.8h.6M341.2 48.2h.6M358.5 58.8h.6M343.9 51.9h.6M347.2 53.2h.6M363.9 50.2h.6M352.2 52.1h.6M345.1 54.2h.6M339.3 48.9h.6M340.8 53.5h.6M331.7 50.7h.6M349.8 51.5h.6M338.7 49.9h.6M349.4 51.0h.6M349.7 60.8h.6M361.8 46.7h.6M347.7 48.0h.6M348.4 53.5h.6M350.1 51.6h.6M340.8 49.2h.6M344.0 55.6h.6M348.7 48.6h.6M355.6 53.8h.6M352.3 58.0h.6M343.9 56.3h.6M356.3 52.5h.6M343.0 53.8h.6M333.6 54.5h.6M359.2 56.4h.6M346.4 49.6h.6M342.5 59.3h.6M336.4 57.1h.6M342.8 62.0h.6M360.4 57.5h.6M346.0 58.3h.6M364.9 40.8h.6M346.8 51.8h.6M355.9 62.0h.6M346.9 55.5h.6M342.8 51.8h.6M343.1 56.8h.6M344.4 54.2h.6M336.6 55.5h.6M336.4 50.6h.6M349.6 56.1h.6M357.0 60.5h.6M348.0 54.8h.6M347.1 55.7h.6M339.1 50.7h.6M356.1 55.9h.6M355.4 52.0h.6M337.1 47.8h.6M347.3 51.9h.6M344.0 52.7h.6M334.4 56.2h.6M375.3 47.2h.6M372.4 52.8h.6M371.9 52.0h.6M374.5 51.0h.6M370.6 51.8h.6M372.0 51.2h.6M372.3 56.1h.6M372.4 48.6h.6M371.3 53.6h.6M377.0 55.8h.6M375.3 49.7h.6M372.4 60.9h.6M369.2 53.0h.6M371.6 52.5h.6M374.4 50.8h.6M367.9 55.6h.6M379.2 47.2h.6M372.7 54.9h.6M372.7 60.7h.6M374.5 54.1h.6M369.2 55.9h.6M373.0 49.6h.6M372.8 55.7h.6M374.7 50.2h.6M370.3 51.4h.6M374.5 53.0h.6M375.9 59.8h.6M373.6 50.9h.6M371.5 46.1h.6M370.7 53.5h.6M368.4 55.8h.6M371.4 55.4h.6M374.1 53.9h.6M376.7 57.9h.6M375.5 56.2h.6M375.9 56.1h.6M371.7 51.6h.6M371.8 47.9h.6M369.0 58.9h.6M371.2 50.1h.6M370.0 57.7h.6M372.2 57.4h.6M374.6 49.0h.6M372.6 50.9h.6M372.0 54.7h.6M374.6 56.6h.6M376.7 49.8h.6M375.6 52.2h.6M368.6 49.5h.6M377.3 48.9h.6M371.8 53.5h.6M369.2 51.5h.6M372.0 46.0h.6M375.4 54.6h.6M366.1 51.8h.6M376.2 51.7h.6M373.4 48.4h.6M374.3 55.7h.6M369.4 54.2h.6M371.5 54.2h.6M370.0 52.9h.6M375.9 54.4h.6M370.9 58.8h.6M373.8 53.8h.6M371.2 54.0h.6M368.7 51.5h.6M375.1 55.5h.6M375.9 52.3h.6M376.7 50.5h.6M371.5 57.2h.6M373.0 52.5h.6M374.7 50.0h.6M373.7 50.6h.6M373.4 51.3h.6M378.8 49.3h.6M371.8 58.3h.6M375.1 55.2h.6M371.5 48.3h.6M376.5 57.3h.6M372.2 51.8h.6M370.4 54.0h.6M374.8 51.8h.6M373.0 54.6h.6M371.9 54.5h.6M372.3 55.8h.6M371.3 56.0h.6M374.2 44.0h.6M373.7 51.3h.6M377.1 52.9h.6M371.2 52.2h.6M376.5 47.8h.6M374.3 51.6h.6M369.3 52.2h.6M376.7 45.6h.6M368.4 49.7h.6M374.2 55.3h.6M368.2 50.1h.6M373.6 52.1h.6M372.0 52.7h.6M372.2 54.5h.6M368.1 55.3h.6M371.0 56.5h.6M376.0 53.2h.6M374.5 53.5h.6M372.8 52.3h.6M372.7 53.5h.6M371.3 52.4h.6M376.7 55.5h.6M372.9 55.4h.6M375.8 48.0h.6M369.3 44.9h.6M369.1 54.4h.6M376.5 51.0h.6M370.8 47.4h.6M372.6 56.2h.6M374.3 58.2h.6M375.4 48.8h.6M374.7 49.5h.6M374.5 50.4h.6M377.3 50.0h.6M373.8 52.4h.6M375.4 48.8h.6M373.2 52.7h.6M373.5 51.4h.6M378.0 56.5h.6M372.5 52.4h.6M366.7 55.9h.6M373.3 58.1h.6M373.6 54.6h.6M377.8 55.1h.6M372.2 51.1h.6M370.2 52.8h.6M373.4 60.9h.6M377.8 57.6h.6M372.2 52.9h.6M376.3 51.4h.6M374.4 52.2h.6M374.7 56.6h.6M370.9 45.5h.6M373.2 53.6h.6M371.0 48.1h.6M373.0 57.8h.6M371.2 47.7h.6M375.8 56.0h.6M371.6 51.7h.6M372.4 52.8h.6M367.3 58.6h.6M370.4 52.7h.6M379.2 55.2h.6M371.9 54.1h.6M359.5 52.7h.6M359.0 51.0h.6M357.7 51.5h.6M362.1 54.1h.6M363.2 51.3h.6M359.2 54.4h.6M360.1 54.1h.6M359.5 53.0h.6M360.4 56.0h.6M361.6 49.9h.6M355.2 51.5h.6M359.2 52.2h.6M362.4 53.4h.6M358.3 49.8h.6M363.5 51.4h.6M363.9 55.2h.6M358.3 51.7h.6M358.6 54.4h.6M363.7 52.1h.6M356.6 51.0h.6M358.0 53.6h.6M356.6 55.2h.6M360.6 52.4h.6M361.4 49.8h.6M361.7 50.9h.6M361.2 51.6h.6M357.2 51.9h.6M363.3 50.6h.6M360.4 53.9h.6M359.6 50.3h.6M364.6 54.5h.6M360.8 50.3h.6M361.4 50.5h.6M362.5 54.8h.6M365.3 53.9h.6M360.5 51.8h.6M362.2 51.2h.6M354.9 52.0h.6M358.2 52.6h.6M365.4 53.0h.6M365.3 54.6h.6M360.1 50.8h.6M358.4 52.5h.6M357.2 52.6h.6M357.6 49.7h.6M359.1 54.8h.6M356.4 55.9h.6M360.2 52.4h.6M360.1 48.9h.6M357.5 50.8h.6M357.4 54.3h.6M357.7 48.3h.6M359.3 48.4h.6M359.9 51.4h.6M361.8 53.4h.6M356.3 54.1h.6M359.6 54.5h.6M360.5 47.6h.6M361.2 51.2h.6M362.5 50.4h.6M359.5 50.4h.6M363.4 54.0h.6M366.0 53.2h.6M361.5 50.9h.6M364.2 52.9h.6M362.8 52.8h.6M361.6 55.0h.6M360.0 51.3h.6M361.1 53.7h.6M365.4 51.0h.6M359.9 54.2h.6M356.8 54.4h.6M344.0 52.9h.6M346.4 55.0h.6M348.7 51.4h.6M358.7 53.7h.6M348.7 55.2h.6M353.3 52.8h.6M354.5 50.9h.6M354.5 56.9h.6M351.2 52.4h.6M353.8 50.6h.6M356.6 54.4h.6M352.9 55.9h.6M351.8 54.3h.6M356.3 50.1h.6M360.2 53.1h.6M365.3 53.7h.6M345.9 54.5h.6M353.5 49.6h.6M352.6 49.9h.6M346.2 53.4h.6M350.5 53.0h.6M348.4 54.0h.6M346.8 55.7h.6M348.8 49.7h.6M355.4 50.3h.6M346.5 51.6h.6M349.2 56.5h.6M351.3 52.5h.6M346.6 55.2h.6M345.3 47.3h.6M343.4 53.5h.6M347.9 55.1h.6M359.4 56.3h.6M342.8 51.3h.6M356.4 57.8h.6M346.9 51.0h.6M346.8 56.5h.6M356.0 57.1h.6" stroke="#000" stroke-width=".6" stroke-opacity=".45" fill="none"/>
<path d="M344.0 84.6h.5M350.9 83.8h.5M349.7 81.8h.5M340.5 88.7h.5M345.3 82.2h.5M347.8 88.3h.5M345.9 89.4h.5M350.4 80.7h.5M344.4 89.0h.5M352.2 82.2h.5M348.6 89.8h.5M338.2 85.8h.5M348.4 91.1h.5M344.9 81.3h.5M341.9 79.0h.5M343.6 89.5h.5M349.4 91.0h.5M351.3 83.0h.5M341.8 79.0h.5M340.5 81.6h.5M344.8 82.7h.5M351.4 85.3h.5M347.2 86.2h.5M350.0 79.6h.5M341.0 90.8h.5M345.5 82.8h.5M351.4 80.9h.5M350.9 83.3h.5M352.4 84.5h.5M350.7 80.9h.5M344.4 89.0h.5M347.0 78.2h.5M345.3 84.1h.5M338.3 89.0h.5M348.2 80.6h.5M338.0 88.1h.5M347.4 88.0h.5M338.7 81.3h.5M348.5 87.8h.5M353.0 82.5h.5M351.6 88.7h.5M343.0 91.9h.5M340.4 89.4h.5M347.6 86.7h.5M343.5 86.2h.5M338.8 86.8h.5M352.9 85.9h.5M352.5 88.4h.5M338.4 84.9h.5M342.9 92.2h.5M348.1 81.6h.5M350.4 86.0h.5M347.3 84.2h.5M351.3 89.7h.5M349.5 86.1h.5M338.3 84.6h.5M351.5 81.9h.5M339.8 80.9h.5M347.7 90.1h.5M343.3 83.8h.5M337.6 84.6h.5M353.5 87.3h.5M342.9 84.3h.5M348.3 77.8h.5M346.6 79.0h.5M341.9 91.1h.5M343.4 92.0h.5M338.9 88.5h.5M340.1 83.3h.5M351.8 87.9h.5M346.6 86.5h.5M349.2 88.4h.5M341.9 81.0h.5M344.9 84.6h.5M351.5 80.7h.5M344.8 91.8h.5M341.8 88.9h.5M350.0 84.8h.5M344.4 87.0h.5M339.9 79.4h.5M346.6 87.3h.5M345.8 83.3h.5M349.1 88.1h.5M349.2 78.3h.5M344.6 86.3h.5M344.5 83.2h.5M345.0 80.9h.5M346.2 90.0h.5M344.4 91.6h.5M370.7 51.5h.5M372.8 51.4h.5M374.7 48.8h.5M373.5 52.4h.5M373.3 55.1h.5M371.6 54.5h.5M375.8 58.3h.5M371.9 56.0h.5M376.2 53.7h.5M373.3 47.7h.5M374.2 53.6h.5M370.3 56.2h.5M373.1 52.3h.5M371.2 56.8h.5M373.1 50.7h.5M375.2 53.7h.5M373.6 55.2h.5M373.4 57.5h.5M374.7 52.9h.5M370.7 58.2h.5M373.1 52.1h.5M371.8 48.4h.5M375.0 52.8h.5M371.7 56.7h.5M376.0 52.2h.5M376.8 57.3h.5M369.1 52.5h.5M372.7 58.0h.5M370.0 47.3h.5M375.3 59.0h.5M371.4 47.7h.5M374.2 52.9h.5M373.6 49.9h.5M371.3 53.9h.5M370.2 52.5h.5M375.1 52.2h.5M371.9 54.7h.5M373.5 55.6h.5M375.7 52.2h.5M373.0 56.3h.5M372.5 48.5h.5M371.1 50.2h.5M373.9 49.4h.5M371.5 54.3h.5M369.9 55.4h.5M361.2 53.2h.5M360.4 53.2h.5M360.9 51.5h.5M360.4 54.9h.5M363.0 52.9h.5M359.3 50.9h.5M358.9 53.9h.5M359.6 53.3h.5M361.3 53.5h.5M361.7 52.2h.5M360.4 52.0h.5M359.4 52.7h.5M359.9 50.6h.5M359.4 52.8h.5M361.4 52.6h.5M360.6 53.8h.5M361.0 52.2h.5M360.7 53.4h.5M360.7 50.5h.5M362.5 51.4h.5M359.8 53.6h.5" stroke="#fff" stroke-width=".55" stroke-opacity=".45" fill="none"/>
</g>
<rect x="355.7" y="44.3" width="25.5" height="19.1" fill="none" stroke="#6468ac" stroke-width="0.75"/>
<text x="368.45" y="71.39" font-size="5.8" text-anchor="middle" fill="#3d4278" stroke="#3d4278" stroke-width="0.16">45.4</text>
<rect x="260.9" y="109.9" width="60.1" height="60.7" fill="#fff" stroke="#9a9a9a" stroke-width="0.75"/>
<line x1="260.9" y1="115.5" x2="261.9" y2="115.5" stroke="#999" stroke-width="0.5"/>
<line x1="260.9" y1="124.5" x2="261.9" y2="124.5" stroke="#999" stroke-width="0.5"/>
<line x1="260.9" y1="132.5" x2="261.9" y2="132.5" stroke="#999" stroke-width="0.5"/>
<line x1="260.9" y1="140.5" x2="261.9" y2="140.5" stroke="#999" stroke-width="0.5"/>
<line x1="260.9" y1="148.5" x2="261.9" y2="148.5" stroke="#999" stroke-width="0.5"/>
<line x1="260.9" y1="156.5" x2="261.9" y2="156.5" stroke="#999" stroke-width="0.5"/>
<line x1="260.9" y1="164.5" x2="261.9" y2="164.5" stroke="#999" stroke-width="0.5"/>
<line x1="266.5" y1="170.6" x2="266.5" y2="169.6" stroke="#999" stroke-width="0.5"/>
<line x1="274.5" y1="170.6" x2="274.5" y2="169.6" stroke="#999" stroke-width="0.5"/>
<line x1="282.5" y1="170.6" x2="282.5" y2="169.6" stroke="#999" stroke-width="0.5"/>
<line x1="290.5" y1="170.6" x2="290.5" y2="169.6" stroke="#999" stroke-width="0.5"/>
<line x1="298.5" y1="170.6" x2="298.5" y2="169.6" stroke="#999" stroke-width="0.5"/>
<line x1="306.5" y1="170.6" x2="306.5" y2="169.6" stroke="#999" stroke-width="0.5"/>
<line x1="315.5" y1="170.6" x2="315.5" y2="169.6" stroke="#999" stroke-width="0.5"/>
<g clip-path="url(#cp13)">
<rect x="266.23" y="150.28" width="16.15" height="14.45" rx="4.28" fill="#000" fill-opacity="0.81" filter="url(#fb)"/>
<ellipse cx="278" cy="128" rx="19.25" ry="8.8" fill="url(#bg11)"/>
<ellipse cx="303.5" cy="127" rx="3.96" ry="5.72" fill="url(#bg12)"/>
<ellipse cx="291" cy="126.5" rx="4.84" ry="4.4" fill="url(#bg13)"/>
<ellipse cx="296" cy="127" rx="8.8" ry="5.5" fill="url(#bg14)"/>
<path d="M277.6 154.1h.6M279.4 151.7h.6M275.0 155.9h.6M273.9 162.3h.6M278.7 159.6h.6M276.8 156.7h.6M270.2 154.3h.6M276.0 157.5h.6M283.0 152.6h.6M281.0 156.9h.6M272.4 165.0h.6M276.9 152.1h.6M277.7 159.3h.6M266.5 160.3h.6M274.6 156.9h.6M268.8 160.7h.6M267.5 156.8h.6M277.6 160.2h.6M277.3 151.3h.6M265.5 157.6h.6M274.3 159.0h.6M275.5 151.4h.6M285.5 156.2h.6M268.8 156.3h.6M274.0 154.3h.6M279.2 157.3h.6M281.5 158.7h.6M269.4 154.4h.6M279.1 156.6h.6M280.5 162.5h.6M275.6 164.6h.6M265.7 155.0h.6M272.4 147.6h.6M267.8 155.5h.6M271.5 156.7h.6M277.4 158.4h.6M273.9 152.8h.6M269.8 166.0h.6M276.8 158.6h.6M283.1 155.4h.6M270.7 152.4h.6M269.3 158.8h.6M273.4 150.1h.6M263.8 158.8h.6M281.8 164.2h.6M271.1 155.3h.6M274.2 153.4h.6M274.1 152.8h.6M269.8 156.1h.6M278.8 155.6h.6M280.9 155.4h.6M277.8 154.3h.6M268.6 162.9h.6M273.2 166.1h.6M265.4 156.0h.6M272.9 155.6h.6M278.9 164.0h.6M268.4 155.4h.6M270.5 158.9h.6M279.7 157.6h.6M272.4 158.4h.6M269.5 160.6h.6M281.6 156.0h.6M277.5 158.5h.6M284.1 153.3h.6M279.9 154.3h.6M268.3 153.6h.6M276.5 162.3h.6M276.4 150.4h.6M279.3 164.7h.6M270.9 163.8h.6M274.2 157.3h.6M266.3 161.2h.6M269.0 158.7h.6M273.1 160.6h.6M281.2 159.0h.6M268.5 163.7h.6M278.8 149.8h.6M275.8 155.0h.6M284.6 162.7h.6M267.5 155.4h.6M268.0 164.9h.6M268.5 161.3h.6M283.2 156.9h.6M277.3 150.7h.6M272.3 157.4h.6M263.8 157.1h.6M282.4 153.3h.6M269.0 162.2h.6M274.4 156.9h.6M273.3 150.3h.6M273.7 150.7h.6M263.8 160.2h.6M271.4 151.4h.6M275.5 155.7h.6M271.5 165.9h.6M274.7 152.8h.6M268.4 158.1h.6M263.7 155.4h.6M272.0 158.0h.6M272.9 158.8h.6M274.5 147.6h.6M267.5 162.4h.6M278.4 165.4h.6M276.1 150.8h.6M269.7 160.5h.6M270.3 155.5h.6M276.3 157.3h.6M268.6 150.6h.6M268.8 156.7h.6M272.4 165.2h.6M273.7 155.6h.6M279.4 156.4h.6M272.9 152.9h.6M275.0 152.3h.6M272.1 161.9h.6M270.0 166.8h.6M272.5 159.5h.6M268.5 158.2h.6M281.5 152.4h.6M266.4 159.0h.6M276.3 161.0h.6M265.3 155.8h.6M273.7 166.0h.6M269.8 152.9h.6M270.7 162.6h.6M282.6 155.2h.6M269.7 159.2h.6M266.9 153.7h.6M267.5 153.9h.6M268.9 160.4h.6M285.9 156.1h.6M281.2 159.2h.6M274.1 154.0h.6M273.5 165.7h.6M283.9 160.9h.6M276.0 160.7h.6M274.3 155.9h.6M278.8 154.9h.6M275.2 152.7h.6M273.6 160.4h.6M269.1 157.6h.6M280.6 162.7h.6M269.7 159.8h.6M273.9 164.2h.6M280.4 158.6h.6M273.0 162.0h.6M277.3 156.2h.6M266.1 156.1h.6M273.1 164.8h.6M280.3 162.2h.6M279.0 154.4h.6M281.1 161.5h.6M284.6 159.8h.6M282.0 163.4h.6M274.4 150.5h.6M281.6 154.6h.6M281.9 162.2h.6M270.2 153.1h.6M271.0 153.3h.6M266.5 156.3h.6M279.3 157.6h.6M273.9 156.4h.6M267.8 160.3h.6M283.9 153.6h.6M282.1 157.4h.6M269.1 152.1h.6M282.4 164.0h.6M272.8 160.5h.6M271.0 154.4h.6M275.3 156.6h.6M269.2 159.9h.6M272.4 159.6h.6M267.2 152.5h.6M277.0 154.4h.6M275.4 160.3h.6M267.6 153.4h.6M267.0 151.7h.6M265.1 158.8h.6M270.0 162.2h.6M281.4 155.4h.6M277.3 151.5h.6M279.4 164.3h.6M282.5 157.5h.6M274.0 163.1h.6M269.5 159.8h.6M277.3 161.9h.6M271.5 161.6h.6M269.8 148.9h.6M273.8 151.2h.6M275.9 154.4h.6M277.5 150.7h.6M270.8 163.9h.6M266.6 156.1h.6M273.7 150.6h.6M272.2 155.9h.6M266.4 153.6h.6M275.1 155.7h.6M283.1 154.7h.6M280.8 153.1h.6M272.9 167.0h.6M276.9 159.7h.6M273.1 162.0h.6M277.2 149.7h.6M273.0 160.1h.6M274.1 152.6h.6M265.9 152.5h.6M283.1 157.2h.6M277.3 160.0h.6M275.6 155.3h.6M283.0 159.8h.6M271.6 154.6h.6M268.3 156.2h.6M274.4 159.7h.6M273.7 164.0h.6M267.5 162.8h.6M266.9 158.2h.6M275.3 158.8h.6M271.7 158.4h.6M282.5 162.1h.6M267.3 157.5h.6M271.1 156.8h.6M269.2 161.4h.6M265.7 157.8h.6M265.2 153.8h.6M266.3 156.5h.6M275.8 160.3h.6M276.1 165.8h.6M273.4 165.2h.6M286.9 157.5h.6M266.0 157.4h.6M271.7 148.9h.6M276.6 164.1h.6M268.5 156.8h.6M270.7 158.8h.6M276.9 165.0h.6M275.4 162.7h.6M274.7 162.9h.6M274.0 154.1h.6M274.1 151.7h.6M277.6 154.2h.6M269.3 164.9h.6M265.1 156.5h.6M273.6 153.5h.6M267.9 155.2h.6M280.0 151.4h.6M282.3 158.5h.6M273.7 156.1h.6M280.2 163.2h.6M265.2 156.7h.6M272.1 159.1h.6M269.0 159.0h.6M275.4 149.1h.6M281.5 161.6h.6M277.8 158.5h.6M279.9 155.4h.6M272.0 157.7h.6M267.0 161.6h.6M279.8 164.4h.6M269.0 157.4h.6M270.7 152.0h.6M281.7 152.3h.6M269.2 161.3h.6M276.2 159.3h.6M274.7 149.0h.6M271.4 164.8h.6M274.0 156.2h.6M277.1 149.8h.6M280.2 156.2h.6M278.2 164.0h.6M273.6 165.1h.6M266.2 163.6h.6M277.8 150.7h.6M268.8 159.6h.6M267.5 160.2h.6M278.9 150.9h.6M278.8 161.3h.6M279.8 161.5h.6M279.9 160.7h.6M268.2 157.2h.6M277.0 166.9h.6M269.1 163.2h.6M267.5 157.7h.6M273.5 157.4h.6M270.0 160.6h.6M278.1 161.5h.6M277.8 150.7h.6M279.6 152.2h.6M267.1 154.7h.6M272.4 164.5h.6M282.8 157.5h.6M277.1 159.9h.6M279.1 153.6h.6M269.3 152.9h.6M273.7 166.9h.6M268.7 154.3h.6M263.6 154.2h.6M275.0 157.5h.6M266.6 159.0h.6M275.5 150.7h.6M267.9 151.0h.6M276.7 159.8h.6M275.9 163.3h.6M270.7 148.6h.6M280.4 158.4h.6M271.8 151.7h.6M265.2 155.7h.6M268.6 162.0h.6M267.1 161.0h.6M266.7 158.4h.6M278.4 160.1h.6M280.7 154.7h.6M265.2 161.9h.6M270.9 152.4h.6M279.2 160.8h.6M277.8 154.5h.6M273.0 154.3h.6M274.3 158.1h.6M280.8 153.5h.6M279.3 153.2h.6M264.2 159.7h.6M272.6 165.7h.6M276.8 153.1h.6M280.7 157.7h.6M281.6 155.4h.6M281.2 156.0h.6M281.3 161.0h.6M281.8 155.0h.6M273.0 163.0h.6M278.0 149.5h.6M278.9 152.9h.6M275.3 159.3h.6M270.3 163.0h.6M284.5 155.0h.6M276.2 149.6h.6M272.5 152.3h.6M271.7 151.6h.6M268.8 146.5h.6M277.8 162.8h.6M283.4 153.3h.6M267.4 153.3h.6M263.0 152.1h.6M269.7 159.3h.6M273.7 161.0h.6M266.9 161.6h.6M275.4 165.2h.6M268.1 151.5h.6M280.6 167.6h.6M267.7 154.0h.6M274.7 155.1h.6M279.0 161.2h.6M280.8 165.2h.6M269.3 155.7h.6M274.3 152.3h.6M284.4 154.2h.6M267.8 140.1h.6M265.3 160.8h.6M277.6 163.7h.6M272.4 168.2h.6M283.8 168.6h.6M276.5 153.9h.6M268.6 151.2h.6M276.2 148.2h.6M282.9 168.3h.6M272.4 154.7h.6M265.7 146.8h.6M280.5 144.4h.6M272.0 158.3h.6M274.6 154.7h.6M269.1 159.4h.6M280.9 152.0h.6M268.9 152.8h.6M270.7 160.4h.6M274.2 156.2h.6M272.7 161.1h.6M277.5 155.6h.6M265.8 159.7h.6M276.0 155.4h.6M271.4 158.6h.6M273.3 160.3h.6M268.9 154.2h.6M266.6 156.7h.6M275.2 158.1h.6M275.7 161.7h.6M281.3 158.9h.6M278.0 159.0h.6M269.1 160.4h.6M282.5 155.5h.6M289.8 159.7h.6M279.2 152.8h.6M272.8 145.9h.6M267.2 160.0h.6M274.8 145.0h.6M263.9 156.5h.6M279.8 167.2h.6M271.4 162.0h.6M270.0 151.0h.6M275.9 162.1h.6M265.3 158.9h.6M261.7 152.1h.6M271.0 156.8h.6M282.8 154.0h.6M268.0 155.4h.6M280.3 159.5h.6M273.6 162.8h.6M286.8 156.4h.6M273.6 154.9h.6M267.6 165.2h.6M276.3 154.3h.6M270.1 160.5h.6M268.7 152.9h.6M270.1 158.1h.6M276.9 153.9h.6M284.7 155.1h.6M275.6 158.2h.6M274.9 152.8h.6M270.8 160.4h.6M285.3 158.6h.6M268.5 159.9h.6M277.2 167.0h.6M280.8 156.3h.6M278.1 161.5h.6M279.4 153.5h.6M275.2 166.6h.6M270.7 153.0h.6M266.5 163.8h.6M277.2 153.1h.6M267.3 159.1h.6M277.0 151.0h.6M279.3 152.9h.6M269.7 151.7h.6M270.9 160.5h.6M270.2 161.1h.6M278.9 162.6h.6M275.2 160.4h.6M269.3 156.6h.6M276.0 162.1h.6M284.8 167.8h.6M276.1 155.6h.6M275.0 153.2h.6M271.2 161.6h.6M274.1 157.5h.6M274.5 156.0h.6M271.9 151.7h.6M282.5 153.5h.6M272.4 152.1h.6M272.9 152.0h.6M275.4 164.8h.6M277.8 166.2h.6M275.9 158.8h.6M283.0 163.4h.6M266.2 158.3h.6M276.8 158.9h.6M270.5 162.0h.6M267.1 158.0h.6M276.0 166.4h.6M269.9 160.1h.6M279.9 153.1h.6M269.9 155.5h.6M268.8 158.9h.6M271.5 161.0h.6M271.0 157.1h.6M279.4 150.8h.6M268.1 160.8h.6M265.9 155.0h.6M277.2 160.9h.6M281.1 157.0h.6M279.1 157.5h.6M280.1 157.9h.6M269.5 144.9h.6M263.7 166.2h.6M269.2 152.6h.6M274.0 160.6h.6M262.2 161.9h.6M272.0 154.8h.6M278.3 149.7h.6M269.3 162.0h.6M288.2 152.3h.6M279.5 157.8h.6M265.6 161.2h.6M266.2 155.3h.6M269.2 147.4h.6M279.2 154.0h.6M277.5 161.4h.6M270.2 153.1h.6M275.4 163.8h.6M279.8 148.5h.6M277.9 152.1h.6M262.8 147.1h.6M266.5 152.1h.6M276.2 148.5h.6M279.1 156.6h.6M266.6 148.3h.6M278.4 158.1h.6M278.4 161.9h.6M268.5 161.4h.6M270.7 162.3h.6M265.9 156.3h.6M281.2 157.0h.6M281.9 158.6h.6M269.3 157.1h.6M273.5 162.1h.6M276.5 155.3h.6M278.2 157.1h.6M273.7 153.8h.6M283.6 162.3h.6M268.8 158.0h.6M279.1 158.0h.6M274.7 154.9h.6M275.8 148.3h.6M269.9 155.0h.6M264.2 146.2h.6M271.2 157.0h.6M276.8 151.0h.6M269.4 163.9h.6M264.4 154.0h.6M273.2 157.0h.6M274.0 154.8h.6M268.4 151.5h.6M273.5 149.4h.6M276.5 144.4h.6M275.3 154.0h.6M279.4 146.9h.6M280.9 163.0h.6M273.9 150.7h.6M269.5 154.2h.6M264.1 157.1h.6M279.9 156.5h.6M276.1 163.2h.6M279.9 156.9h.6M269.4 154.8h.6M274.8 156.7h.6M269.5 165.1h.6M269.0 161.3h.6M265.8 147.3h.6M272.8 156.3h.6M276.8 152.6h.6M278.5 157.4h.6M275.5 160.5h.6M272.5 157.3h.6M285.6 160.4h.6M282.9 165.9h.6M279.9 148.4h.6M275.0 157.1h.6M281.4 157.6h.6M269.8 159.6h.6M266.8 157.8h.6M277.7 162.1h.6M275.1 157.2h.6M280.1 159.6h.6M269.6 149.4h.6M275.8 158.4h.6M268.1 151.2h.6M272.1 160.3h.6M276.8 166.4h.6M273.7 157.1h.6M268.7 159.6h.6M265.8 161.2h.6M271.9 164.5h.6M268.8 161.5h.6M265.9 163.8h.6M274.6 154.8h.6M268.9 157.1h.6M281.4 150.0h.6M286.0 168.8h.6M280.5 151.5h.6M290.1 162.2h.6M267.1 158.4h.6M279.2 123.5h.6M266.8 127.9h.6M277.7 130.4h.6M278.9 119.9h.6M282.0 127.4h.6M274.9 128.8h.6M280.4 130.7h.6M268.9 129.6h.6M289.7 123.3h.6M271.9 132.3h.6M312.6 124.2h.6M275.2 130.2h.6M272.0 128.8h.6M280.0 125.4h.6M277.0 124.0h.6M288.7 127.0h.6M290.0 134.3h.6M272.4 130.8h.6M272.0 125.4h.6M271.2 131.2h.6M282.9 135.3h.6M287.8 137.4h.6M284.8 120.5h.6M277.1 131.2h.6M278.9 131.6h.6M284.9 124.5h.6M290.5 119.8h.6M278.2 133.5h.6M289.8 126.0h.6M275.4 120.9h.6M280.5 123.3h.6M289.4 131.2h.6M270.4 137.6h.6M262.1 132.1h.6M268.0 124.2h.6M277.2 133.6h.6M268.7 119.8h.6M277.3 132.4h.6M291.6 132.1h.6M275.1 135.9h.6M291.2 132.3h.6M286.8 133.0h.6M268.4 128.5h.6M287.7 126.6h.6M286.8 128.2h.6M287.9 136.5h.6M280.5 125.6h.6M281.1 127.8h.6M273.2 126.1h.6M270.1 131.0h.6M278.0 130.2h.6M285.4 137.0h.6M272.8 137.7h.6M294.2 133.1h.6M274.4 132.0h.6M281.8 127.5h.6M265.9 121.6h.6M293.6 128.9h.6M285.7 128.3h.6M291.2 123.2h.6M267.3 129.1h.6M292.7 132.4h.6M283.5 124.2h.6M273.1 132.0h.6M275.2 129.9h.6M264.7 125.7h.6M277.4 128.6h.6M287.7 131.5h.6M270.9 127.3h.6M282.8 127.9h.6M267.6 133.9h.6M277.3 130.5h.6M293.2 125.9h.6M290.5 131.2h.6M272.6 134.8h.6M291.1 124.0h.6M288.9 120.9h.6M282.5 124.6h.6M275.5 127.6h.6M288.3 123.7h.6M277.9 120.7h.6M275.0 135.4h.6M288.8 126.3h.6M272.0 124.5h.6M285.2 115.4h.6M292.9 132.1h.6M272.0 121.2h.6M280.2 133.9h.6M283.7 130.6h.6M273.7 127.2h.6M273.1 132.3h.6M273.2 125.6h.6M270.0 129.7h.6M290.7 125.9h.6M269.6 126.7h.6M277.2 135.1h.6M283.9 133.0h.6M293.2 124.0h.6M262.8 124.3h.6M265.6 128.3h.6M268.0 127.5h.6M275.2 130.3h.6M287.1 126.4h.6M276.8 123.5h.6M279.5 131.7h.6M292.8 127.1h.6M275.1 131.1h.6M279.8 124.1h.6M297.2 134.8h.6M285.7 129.3h.6M272.4 129.2h.6M272.0 129.8h.6M289.0 121.1h.6M267.3 131.2h.6M269.8 125.8h.6M286.0 123.1h.6M291.1 129.8h.6M294.4 135.7h.6M268.9 125.0h.6M283.3 135.0h.6M270.2 129.4h.6M306.6 125.4h.6M293.4 129.2h.6M285.3 137.6h.6M269.6 131.1h.6M266.4 121.4h.6M289.2 134.6h.6M277.0 123.4h.6M270.8 125.5h.6M285.6 124.0h.6M285.2 128.7h.6M271.9 127.6h.6M274.4 135.4h.6M299.9 129.6h.6M269.2 131.2h.6M288.4 127.4h.6M271.9 133.1h.6M270.4 123.4h.6M268.6 121.7h.6M277.5 132.1h.6M278.5 131.5h.6M285.8 128.3h.6M271.5 138.2h.6M282.6 124.1h.6M273.3 134.5h.6M271.6 135.0h.6M284.8 122.6h.6M283.0 130.6h.6M264.0 131.7h.6M280.1 127.6h.6M268.3 127.9h.6M294.1 124.3h.6M291.1 122.0h.6M276.6 131.7h.6M284.2 129.2h.6M290.6 128.3h.6M295.0 130.5h.6M294.9 124.6h.6M270.9 125.3h.6M277.8 131.8h.6M279.3 128.2h.6M270.9 133.0h.6M282.0 136.0h.6M276.0 124.1h.6M272.3 125.6h.6M266.8 121.8h.6M272.5 125.1h.6M277.8 130.4h.6M275.0 125.8h.6M289.0 137.9h.6M285.8 126.2h.6M265.6 120.2h.6M287.0 124.2h.6M278.3 137.4h.6M285.3 124.2h.6M271.7 127.8h.6M286.6 124.5h.6M271.1 123.3h.6M287.8 133.3h.6M277.7 122.8h.6M275.5 120.2h.6M265.3 124.8h.6M262.5 125.2h.6M286.3 130.1h.6M267.2 128.6h.6M266.7 133.6h.6M281.8 127.2h.6M278.2 130.1h.6M283.6 130.4h.6M265.4 132.7h.6M269.3 126.7h.6M287.6 116.0h.6M277.7 124.6h.6M282.2 122.7h.6M283.0 124.2h.6M279.6 135.0h.6M279.6 132.7h.6M276.0 121.4h.6M280.1 136.1h.6M281.1 133.8h.6M271.7 128.9h.6M283.7 127.6h.6M278.0 127.5h.6M277.2 127.9h.6M276.5 131.0h.6M286.5 126.9h.6M276.6 132.5h.6M289.4 126.6h.6M268.4 125.0h.6M283.5 127.4h.6M263.2 129.5h.6M278.5 129.9h.6M273.2 128.0h.6M273.6 121.3h.6M300.8 124.4h.6M300.1 127.0h.6M302.9 124.8h.6M304.9 126.1h.6M303.6 131.8h.6M303.4 124.3h.6M302.5 123.6h.6M302.8 128.6h.6M302.2 125.9h.6M305.6 126.6h.6M301.0 125.3h.6M301.7 127.8h.6M304.5 131.3h.6M302.8 128.9h.6M304.8 125.9h.6M302.6 126.1h.6M304.4 124.5h.6M304.0 124.6h.6M301.0 129.8h.6M304.6 128.6h.6M306.0 128.4h.6M302.2 128.5h.6M303.3 125.3h.6M304.8 127.1h.6M306.6 128.6h.6M304.2 131.7h.6M308.2 127.9h.6M302.7 127.3h.6M307.4 124.9h.6M302.1 130.1h.6M303.5 126.4h.6M301.7 127.9h.6M305.5 128.3h.6M304.8 124.9h.6M300.1 128.0h.6M298.3 130.4h.6M307.8 124.6h.6M303.0 125.7h.6M300.2 124.8h.6M301.8 127.5h.6M302.6 133.1h.6M306.7 128.1h.6M304.4 130.7h.6M303.6 127.9h.6M301.7 126.0h.6M304.9 127.2h.6M300.1 127.8h.6M305.8 126.6h.6M305.5 127.0h.6M302.6 127.4h.6M300.6 125.4h.6M302.3 131.5h.6M303.3 128.4h.6M307.5 126.8h.6M306.9 125.6h.6M302.3 128.2h.6M302.0 125.0h.6M300.8 123.6h.6M304.3 126.1h.6M302.4 130.7h.6M304.9 126.6h.6M303.7 127.7h.6M302.5 124.4h.6M301.5 128.6h.6M300.4 125.6h.6M304.7 125.5h.6M300.9 125.0h.6M304.9 126.8h.6M300.2 124.2h.6M298.5 126.0h.6M303.5 126.6h.6M302.3 124.4h.6M305.3 121.6h.6M303.5 128.4h.6M303.4 123.6h.6M305.2 121.6h.6M302.2 127.1h.6M304.8 127.0h.6M308.4 130.3h.6M304.0 130.7h.6M288.5 126.1h.6M289.1 124.5h.6M292.5 124.2h.6M290.3 125.3h.6M293.6 123.3h.6M292.3 127.0h.6M293.7 126.9h.6M291.5 129.0h.6M293.9 127.5h.6M292.8 126.2h.6M286.5 125.9h.6M294.5 132.0h.6M293.2 123.2h.6M290.1 123.7h.6M288.2 131.5h.6M286.6 129.0h.6M291.4 127.0h.6M289.0 127.8h.6M288.3 128.8h.6M288.7 123.4h.6M287.2 125.9h.6M293.4 128.2h.6M289.0 128.1h.6M291.1 129.1h.6M291.5 127.2h.6M292.0 125.9h.6M290.7 125.3h.6M293.1 128.0h.6M289.7 126.6h.6M296.2 127.7h.6M287.3 129.8h.6M292.8 129.4h.6M296.4 123.9h.6M288.8 129.2h.6M294.5 124.6h.6M296.0 123.1h.6M290.0 131.3h.6M294.8 127.3h.6M289.7 125.4h.6M291.8 125.8h.6M300.4 127.6h.6M305.3 127.3h.6M302.3 128.2h.6M295.5 126.1h.6M291.4 123.7h.6M296.0 127.6h.6M301.0 126.4h.6M298.7 129.1h.6M290.7 128.0h.6M297.1 126.6h.6M299.2 130.3h.6M292.5 127.3h.6M300.4 123.8h.6M303.0 131.6h.6M300.6 130.5h.6M292.8 127.2h.6M295.3 123.0h.6M296.2 124.6h.6M295.0 129.9h.6M300.3 127.1h.6" stroke="#000" stroke-width=".6" stroke-opacity=".45" fill="none"/>
<path d="M279.9 160.2h.5M272.5 150.2h.5M271.5 150.7h.5M272.3 152.1h.5M275.3 154.0h.5M267.9 159.9h.5M274.5 158.7h.5M278.7 154.2h.5M268.1 159.5h.5M277.1 153.3h.5M280.4 160.6h.5M278.4 158.0h.5M279.4 161.7h.5M278.4 155.5h.5M270.2 151.0h.5M271.5 152.2h.5M276.2 153.5h.5M279.6 156.6h.5M272.5 158.2h.5M279.0 160.7h.5M274.0 155.4h.5M276.1 154.2h.5M272.2 152.7h.5M277.3 164.1h.5M273.3 154.1h.5M266.3 155.9h.5M274.0 152.6h.5M272.8 155.4h.5M280.5 154.3h.5M274.3 160.1h.5M271.7 160.1h.5M282.6 159.2h.5M270.6 153.5h.5M267.5 160.5h.5M279.4 153.6h.5M276.9 160.6h.5M270.6 154.6h.5M276.2 155.9h.5M273.0 157.7h.5M271.2 155.1h.5M275.6 157.1h.5M279.0 152.6h.5M282.4 158.0h.5M268.4 154.1h.5M271.4 161.8h.5M268.5 158.9h.5M274.2 163.7h.5M278.6 156.9h.5M270.4 153.0h.5M268.8 162.9h.5M270.7 151.8h.5M276.5 160.4h.5M278.7 152.4h.5M277.4 154.8h.5M270.9 152.1h.5M275.7 159.4h.5M271.1 151.1h.5M281.1 157.5h.5M280.2 160.9h.5M267.5 159.5h.5M275.8 161.8h.5M272.9 155.9h.5M271.3 151.3h.5M266.8 157.3h.5M275.8 161.7h.5M281.9 156.7h.5M275.3 152.6h.5M279.4 155.3h.5M278.7 161.2h.5M279.2 159.3h.5M279.5 158.5h.5M268.5 152.3h.5M275.3 156.2h.5M270.5 160.7h.5M281.1 157.0h.5M274.5 151.1h.5M274.4 161.4h.5M274.4 151.9h.5M270.0 159.9h.5M279.3 162.6h.5M281.5 157.5h.5M275.3 158.0h.5M276.7 161.6h.5M270.2 151.5h.5M272.2 163.4h.5M277.1 164.5h.5M267.4 159.4h.5M277.6 158.6h.5M271.6 155.6h.5M274.5 165.0h.5M271.9 156.7h.5M270.3 156.7h.5M275.8 152.1h.5M272.6 162.3h.5M275.8 154.2h.5M280.9 159.4h.5M281.8 156.9h.5M272.9 163.7h.5M282.8 158.3h.5M271.3 162.5h.5M274.5 156.0h.5M276.9 163.8h.5M278.5 162.1h.5M275.0 154.2h.5M272.9 152.3h.5M273.6 157.9h.5M277.5 153.4h.5M273.5 152.4h.5M281.9 159.6h.5M274.2 160.8h.5M271.0 156.7h.5M273.3 159.4h.5M273.9 164.6h.5M269.9 160.2h.5M275.4 163.6h.5M282.3 156.5h.5M278.3 151.8h.5M271.5 156.8h.5M278.8 155.5h.5M272.3 159.5h.5M274.0 156.6h.5M272.0 157.4h.5M275.5 162.1h.5M269.7 163.1h.5M270.9 158.7h.5M276.8 157.8h.5M268.2 156.8h.5M275.9 160.5h.5M276.0 152.7h.5M277.9 159.0h.5M269.2 156.0h.5M270.3 162.3h.5M280.2 152.4h.5M272.2 163.8h.5M274.9 154.6h.5M279.2 158.3h.5M273.9 161.9h.5M278.3 160.0h.5M277.0 162.7h.5M266.4 154.6h.5M279.3 152.9h.5M282.2 157.6h.5M274.6 159.4h.5M274.0 150.1h.5M272.2 160.4h.5M280.6 157.9h.5M269.1 155.6h.5M270.2 163.6h.5M281.9 156.7h.5M277.4 161.2h.5M273.7 156.7h.5M300.4 127.8h.5M302.7 126.6h.5M303.9 127.3h.5M301.6 128.5h.5M305.2 126.8h.5M304.0 125.8h.5M302.6 126.8h.5M302.8 125.9h.5M304.0 126.0h.5M306.6 130.4h.5M306.3 128.7h.5M301.5 129.8h.5M304.4 126.0h.5M301.5 123.5h.5M303.4 126.3h.5M302.1 128.1h.5M303.1 126.1h.5M302.9 127.5h.5M304.1 125.1h.5M302.5 128.1h.5M304.5 126.2h.5M303.4 127.1h.5M302.2 128.4h.5M305.6 125.6h.5" stroke="#fff" stroke-width=".55" stroke-opacity=".45" fill="none"/>
</g>
<rect x="286.1" y="117.1" width="25.4" height="19" fill="none" stroke="#6468ac" stroke-width="0.75"/>
<text x="298.8" y="144.29" font-size="5.8" text-anchor="middle" fill="#3d4278" stroke="#3d4278" stroke-width="0.16">17</text>
<rect x="329.9" y="109.9" width="60" height="60.7" fill="#fff" stroke="#9a9a9a" stroke-width="0.75"/>
<line x1="329.9" y1="115.5" x2="330.9" y2="115.5" stroke="#999" stroke-width="0.5"/>
<line x1="329.9" y1="124.5" x2="330.9" y2="124.5" stroke="#999" stroke-width="0.5"/>
<line x1="329.9" y1="132.5" x2="330.9" y2="132.5" stroke="#999" stroke-width="0.5"/>
<line x1="329.9" y1="140.5" x2="330.9" y2="140.5" stroke="#999" stroke-width="0.5"/>
<line x1="329.9" y1="148.5" x2="330.9" y2="148.5" stroke="#999" stroke-width="0.5"/>
<line x1="329.9" y1="156.5" x2="330.9" y2="156.5" stroke="#999" stroke-width="0.5"/>
<line x1="329.9" y1="164.5" x2="330.9" y2="164.5" stroke="#999" stroke-width="0.5"/>
<line x1="335.5" y1="170.6" x2="335.5" y2="169.6" stroke="#999" stroke-width="0.5"/>
<line x1="343.5" y1="170.6" x2="343.5" y2="169.6" stroke="#999" stroke-width="0.5"/>
<line x1="351.5" y1="170.6" x2="351.5" y2="169.6" stroke="#999" stroke-width="0.5"/>
<line x1="359.5" y1="170.6" x2="359.5" y2="169.6" stroke="#999" stroke-width="0.5"/>
<line x1="367.5" y1="170.6" x2="367.5" y2="169.6" stroke="#999" stroke-width="0.5"/>
<line x1="375.5" y1="170.6" x2="375.5" y2="169.6" stroke="#999" stroke-width="0.5"/>
<line x1="383.5" y1="170.6" x2="383.5" y2="169.6" stroke="#999" stroke-width="0.5"/>
<g clip-path="url(#cp14)">
<rect x="335.73" y="149.08" width="16.15" height="14.45" rx="4.28" fill="#000" fill-opacity="0.5" filter="url(#fb)"/>
<ellipse cx="347" cy="127" rx="17.88" ry="7.7" fill="url(#bg16)"/>
<ellipse cx="374" cy="126.3" rx="5.06" ry="6.82" fill="url(#bg17)"/>
<ellipse cx="361" cy="126.6" rx="4.84" ry="3.96" fill="url(#bg18)"/>
<ellipse cx="352" cy="127" rx="11" ry="5.5" fill="url(#bg19)"/>
<path d="M348.6 148.5h.6M338.6 161.9h.6M340.9 147.9h.6M344.2 155.9h.6M335.4 147.1h.6M338.9 154.9h.6M344.3 150.1h.6M342.2 149.4h.6M334.9 158.0h.6M337.7 153.6h.6M343.7 153.3h.6M353.2 159.9h.6M338.6 150.1h.6M343.7 155.4h.6M338.5 159.8h.6M335.1 155.9h.6M344.6 161.7h.6M338.7 150.0h.6M348.9 155.5h.6M341.1 163.9h.6M337.0 157.7h.6M345.7 154.9h.6M337.7 154.5h.6M334.3 160.9h.6M339.0 148.7h.6M350.7 157.5h.6M346.8 160.2h.6M350.1 150.4h.6M348.6 162.9h.6M347.4 156.9h.6M346.2 155.2h.6M344.0 148.6h.6M354.2 155.0h.6M344.3 148.3h.6M348.7 154.0h.6M338.5 163.4h.6M344.0 150.1h.6M347.8 162.3h.6M345.9 152.6h.6M343.0 149.5h.6M346.1 161.6h.6M345.9 160.5h.6M349.4 165.2h.6M346.7 150.6h.6M339.2 149.5h.6M342.2 163.5h.6M339.8 151.0h.6M340.4 149.2h.6M343.0 154.6h.6M351.0 156.1h.6M345.9 153.5h.6M342.6 156.8h.6M352.3 158.6h.6M344.8 163.0h.6M349.6 158.9h.6M345.4 149.7h.6M345.6 150.7h.6M345.2 161.9h.6M349.4 154.6h.6M340.0 163.2h.6M334.5 158.1h.6M337.8 153.3h.6M348.7 156.2h.6M351.9 150.8h.6M350.1 163.5h.6M347.3 153.8h.6M346.6 164.7h.6M346.9 148.3h.6M340.6 150.9h.6M348.8 162.6h.6M352.2 158.9h.6M349.1 154.0h.6M347.8 156.4h.6M349.9 163.6h.6M354.7 154.7h.6M342.9 154.0h.6M340.1 154.9h.6M335.9 158.4h.6M335.8 152.8h.6M337.0 157.8h.6M346.0 157.2h.6M344.9 164.5h.6M341.0 162.2h.6M334.3 156.5h.6M336.0 161.8h.6M342.2 148.4h.6M346.9 148.3h.6M344.9 147.5h.6M337.4 157.7h.6M337.8 160.6h.6M354.2 157.7h.6M338.7 162.3h.6M345.5 150.0h.6M339.6 161.5h.6M342.5 161.5h.6M348.8 163.7h.6M338.4 151.0h.6M333.1 156.3h.6M350.2 158.0h.6M344.1 161.8h.6M352.8 160.5h.6M346.0 159.1h.6M343.5 161.6h.6M351.4 159.8h.6M348.4 156.0h.6M339.3 151.8h.6M346.8 158.7h.6M339.9 155.7h.6M337.1 160.8h.6M346.1 161.8h.6M335.3 161.0h.6M334.4 152.5h.6M351.9 161.5h.6M349.0 155.0h.6M333.4 156.5h.6M351.2 159.8h.6M341.1 150.7h.6M352.8 153.6h.6M353.5 157.2h.6M339.7 148.3h.6M346.8 152.0h.6M334.8 159.2h.6M349.5 159.0h.6M343.9 153.6h.6M343.0 157.6h.6M341.7 161.7h.6M344.7 150.1h.6M349.0 156.4h.6M343.9 159.7h.6M347.4 154.2h.6M346.3 159.8h.6M345.9 157.2h.6M347.8 158.7h.6M340.7 156.0h.6M338.1 161.5h.6M338.2 155.9h.6M349.2 153.4h.6M344.2 161.9h.6M344.4 151.7h.6M339.4 154.1h.6M337.6 150.7h.6M351.5 157.5h.6M349.3 157.8h.6M348.1 161.6h.6M338.3 158.2h.6M338.1 162.0h.6M340.8 164.7h.6M350.1 150.0h.6M335.5 153.0h.6M341.7 159.4h.6M336.8 151.2h.6M347.7 152.6h.6M345.9 161.4h.6M338.1 160.0h.6M345.9 163.9h.6M335.5 155.7h.6M348.8 161.2h.6M340.8 160.5h.6M345.0 156.3h.6M351.9 152.3h.6M355.7 157.2h.6M343.5 156.7h.6M345.5 152.6h.6M347.7 150.6h.6M340.6 163.0h.6M341.6 153.3h.6M344.5 149.2h.6M338.2 159.8h.6M350.5 161.5h.6M345.1 151.3h.6M343.3 151.7h.6M338.1 154.2h.6M345.7 147.5h.6M349.9 156.0h.6M345.4 163.9h.6M351.1 156.6h.6M339.5 152.4h.6M346.0 161.2h.6M345.8 154.3h.6M344.4 148.4h.6M334.6 157.8h.6M344.9 151.7h.6M349.3 154.5h.6M342.6 150.0h.6M343.0 162.0h.6M335.7 158.2h.6M348.6 158.7h.6M336.8 149.8h.6M340.5 161.7h.6M349.9 162.7h.6M344.6 164.3h.6M342.2 159.8h.6M345.1 153.4h.6M348.0 156.8h.6M348.0 162.8h.6M343.6 158.0h.6M345.8 153.0h.6M351.0 161.6h.6M351.3 155.7h.6M345.5 149.2h.6M336.4 160.2h.6M337.2 150.5h.6M342.6 153.9h.6M346.0 147.4h.6M344.1 164.5h.6M347.4 153.2h.6M342.8 152.2h.6M349.2 159.8h.6M353.3 157.1h.6M339.6 151.7h.6M347.0 154.6h.6M337.2 156.2h.6M341.9 149.9h.6M332.4 162.3h.6M338.8 153.4h.6M332.5 157.8h.6M347.1 154.9h.6M330.8 159.4h.6M345.5 155.4h.6M339.4 157.7h.6M342.1 163.9h.6M353.5 157.6h.6M341.5 165.2h.6M338.9 148.2h.6M343.5 154.9h.6M348.4 149.5h.6M339.6 147.1h.6M355.6 155.8h.6M344.8 168.0h.6M341.1 157.5h.6M339.0 162.3h.6M342.6 144.0h.6M347.7 157.4h.6M351.2 148.7h.6M344.3 157.4h.6M339.6 162.4h.6M343.5 152.9h.6M351.7 150.9h.6M349.8 156.4h.6M342.5 151.8h.6M348.9 156.2h.6M337.0 154.7h.6M356.9 141.8h.6M343.3 153.3h.6M341.4 152.4h.6M359.5 166.1h.6M338.3 139.8h.6M348.3 156.0h.6M339.5 160.6h.6M341.7 167.4h.6M343.6 163.7h.6M341.6 155.2h.6M356.1 164.6h.6M353.5 154.7h.6M341.7 154.3h.6M362.7 153.3h.6M345.5 153.1h.6M344.5 165.0h.6M348.6 145.1h.6M338.5 145.7h.6M355.3 161.4h.6M339.3 158.3h.6M336.8 160.7h.6M353.2 153.7h.6M339.1 159.5h.6M343.7 153.8h.6M336.9 152.0h.6M342.2 152.5h.6M346.0 156.1h.6M344.6 152.7h.6M339.3 165.1h.6M354.9 157.9h.6M359.3 152.9h.6M348.6 146.8h.6M349.0 154.6h.6M352.3 144.8h.6M352.3 149.4h.6M334.6 147.8h.6M335.3 149.4h.6M341.1 156.0h.6M334.7 134.5h.6M342.1 164.0h.6M345.1 157.5h.6M338.7 151.9h.6M347.6 150.7h.6M354.4 159.1h.6M344.6 153.9h.6M347.3 165.5h.6M343.9 153.6h.6M343.6 148.7h.6M340.5 145.6h.6M336.2 153.9h.6M348.1 161.0h.6M351.7 146.8h.6M343.7 162.5h.6M344.7 159.8h.6M334.3 152.6h.6M342.3 162.6h.6M346.1 143.5h.6M343.2 140.8h.6M344.3 156.3h.6M336.8 157.2h.6M334.9 156.9h.6M342.1 154.3h.6M354.3 145.3h.6M341.1 158.1h.6M333.3 152.3h.6M339.2 160.1h.6M342.3 156.0h.6M352.3 147.3h.6M351.4 158.5h.6M338.1 159.7h.6M336.7 159.7h.6M339.2 154.5h.6M346.9 154.3h.6M346.5 151.2h.6M343.3 157.8h.6M341.8 160.6h.6M334.3 155.0h.6M340.4 154.2h.6M339.4 166.7h.6M340.8 158.4h.6M339.9 153.4h.6M352.7 156.3h.6M349.0 160.8h.6M336.3 156.4h.6M346.8 157.1h.6M344.8 156.5h.6M342.3 154.7h.6M341.1 158.4h.6M344.6 163.8h.6M353.1 158.1h.6M339.5 154.2h.6M341.6 151.5h.6M341.9 155.3h.6M333.0 152.9h.6M342.6 151.4h.6M337.9 158.9h.6M344.1 157.3h.6M344.9 161.2h.6M352.9 158.2h.6M341.5 153.8h.6M341.1 160.5h.6M346.9 157.8h.6M354.1 162.8h.6M343.9 150.9h.6M345.7 154.1h.6M346.1 156.2h.6M345.8 163.7h.6M340.0 158.2h.6M338.6 150.2h.6M339.1 151.4h.6M340.9 158.6h.6M344.7 148.2h.6M338.1 152.5h.6M338.6 155.2h.6M343.0 154.2h.6M342.2 157.4h.6M343.5 159.9h.6M335.9 157.2h.6M353.6 149.5h.6M357.6 123.6h.6M355.3 117.7h.6M339.2 126.0h.6M343.3 130.9h.6M334.7 126.3h.6M358.3 120.3h.6M342.2 124.9h.6M349.9 130.4h.6M350.5 126.7h.6M357.3 125.6h.6M347.3 121.6h.6M343.4 125.8h.6M351.6 123.5h.6M354.8 131.5h.6M341.9 127.1h.6M345.8 129.0h.6M333.4 120.1h.6M358.5 126.0h.6M340.8 129.0h.6M354.9 132.3h.6M354.0 130.8h.6M353.2 123.1h.6M354.7 136.7h.6M339.8 125.4h.6M348.4 125.0h.6M340.6 124.9h.6M345.5 122.0h.6M340.3 124.8h.6M367.1 123.6h.6M348.7 124.4h.6M355.4 123.5h.6M341.2 125.1h.6M362.3 128.6h.6M346.2 123.5h.6M345.5 121.7h.6M344.6 128.1h.6M333.8 125.9h.6M348.9 122.7h.6M337.9 125.6h.6M345.0 123.0h.6M364.3 121.1h.6M344.5 124.2h.6M364.6 125.5h.6M349.8 127.1h.6M337.6 121.6h.6M352.1 128.7h.6M356.6 129.9h.6M353.8 127.2h.6M341.1 124.4h.6M337.7 122.9h.6M354.5 129.6h.6M363.3 123.0h.6M362.2 130.7h.6M344.0 119.2h.6M345.1 118.9h.6M349.5 127.6h.6M356.7 121.3h.6M351.0 129.7h.6M351.0 124.4h.6M347.3 124.1h.6M336.7 130.0h.6M348.6 129.1h.6M333.9 125.4h.6M365.1 124.9h.6M340.4 129.1h.6M353.2 123.3h.6M355.5 122.7h.6M357.3 122.9h.6M337.4 138.2h.6M345.8 131.8h.6M360.7 128.2h.6M348.1 125.2h.6M354.6 128.5h.6M350.8 125.7h.6M348.8 130.0h.6M346.3 127.4h.6M331.9 122.4h.6M340.9 126.4h.6M345.0 126.0h.6M344.0 131.8h.6M337.7 129.8h.6M356.8 127.4h.6M355.6 134.9h.6M344.2 125.1h.6M360.1 131.3h.6M337.0 128.8h.6M350.0 126.7h.6M361.6 125.3h.6M352.4 129.0h.6M346.1 132.7h.6M351.7 121.2h.6M346.4 127.5h.6M342.6 130.6h.6M340.6 124.3h.6M347.5 124.5h.6M346.1 132.4h.6M350.1 126.3h.6M340.0 125.8h.6M349.7 128.8h.6M355.5 128.3h.6M341.9 129.4h.6M361.1 129.4h.6M340.7 132.6h.6M340.7 128.7h.6M341.7 130.7h.6M336.3 124.4h.6M333.3 128.2h.6M336.6 125.4h.6M344.6 132.7h.6M339.7 128.5h.6M359.7 131.8h.6M345.0 126.6h.6M343.1 124.0h.6M341.7 130.2h.6M350.7 126.8h.6M347.6 121.9h.6M349.7 126.2h.6M354.1 124.5h.6M360.3 132.5h.6M339.2 127.0h.6M353.1 129.9h.6M347.5 129.3h.6M349.4 131.9h.6M342.1 129.1h.6M352.6 129.3h.6M352.5 128.9h.6M350.4 122.5h.6M340.5 127.4h.6M353.3 122.9h.6M338.9 122.9h.6M334.0 127.4h.6M354.2 120.6h.6M346.1 126.1h.6M333.5 130.5h.6M341.1 126.6h.6M347.3 129.5h.6M355.5 122.8h.6M345.2 126.4h.6M340.2 116.9h.6M338.1 122.3h.6M335.5 123.9h.6M346.1 132.8h.6M340.4 133.7h.6M352.5 119.2h.6M341.0 124.8h.6M356.3 123.6h.6M345.3 132.2h.6M347.4 129.6h.6M346.2 125.1h.6M345.9 129.4h.6M361.1 130.8h.6M341.1 124.0h.6M342.7 130.1h.6M345.1 128.6h.6M352.8 129.3h.6M338.6 120.3h.6M359.6 126.3h.6M338.9 117.8h.6M342.4 127.7h.6M348.0 123.7h.6M348.5 131.6h.6M339.2 132.0h.6M354.7 120.4h.6M362.9 132.4h.6M347.0 125.1h.6M353.7 130.4h.6M353.5 127.3h.6M369.5 125.5h.6M349.2 125.9h.6M351.2 125.0h.6M345.1 132.1h.6M350.6 127.1h.6M345.3 123.0h.6M344.5 129.3h.6M345.5 125.0h.6M355.3 128.7h.6M344.8 123.9h.6M354.8 128.1h.6M346.3 123.3h.6M357.6 123.8h.6M337.2 128.0h.6M337.8 130.1h.6M352.7 127.4h.6M360.3 126.6h.6M343.4 136.6h.6M357.0 117.3h.6M351.5 129.1h.6M341.1 124.8h.6M359.5 121.3h.6M359.1 130.7h.6M342.2 130.0h.6M344.1 125.4h.6M353.2 125.0h.6M353.2 126.8h.6M359.2 130.7h.6M351.7 123.4h.6M364.3 131.9h.6M344.1 127.9h.6M339.5 128.5h.6M341.9 132.8h.6M340.6 126.0h.6M346.0 129.4h.6M339.9 127.2h.6M353.9 115.8h.6M357.3 126.3h.6M361.0 127.1h.6M342.6 126.3h.6M336.0 131.5h.6M343.5 124.9h.6M347.2 128.7h.6M342.7 128.1h.6M350.7 128.5h.6M351.0 120.3h.6M349.6 125.0h.6M339.1 124.9h.6M353.8 132.7h.6M372.9 120.7h.6M375.3 130.4h.6M374.4 125.6h.6M370.3 119.4h.6M371.0 127.9h.6M374.4 124.0h.6M375.5 125.2h.6M377.6 125.7h.6M373.1 128.7h.6M370.6 124.5h.6M373.5 127.9h.6M370.3 122.5h.6M377.0 124.1h.6M372.9 127.6h.6M373.5 130.3h.6M378.3 126.1h.6M374.7 125.2h.6M370.5 127.6h.6M374.8 128.0h.6M372.0 123.1h.6M370.5 136.2h.6M371.5 124.8h.6M370.1 121.9h.6M374.9 126.1h.6M371.5 127.6h.6M372.6 126.1h.6M376.1 124.1h.6M373.1 126.0h.6M372.4 128.0h.6M373.9 124.0h.6M372.2 123.2h.6M373.8 126.7h.6M373.1 126.7h.6M375.8 122.4h.6M372.8 134.3h.6M371.5 129.5h.6M372.7 131.9h.6M368.3 129.9h.6M373.3 121.4h.6M375.6 133.3h.6M378.5 120.9h.6M374.6 123.1h.6M376.8 127.3h.6M369.1 124.2h.6M377.0 128.7h.6M374.8 129.4h.6M376.7 126.1h.6M372.5 132.2h.6M374.8 121.3h.6M374.2 128.2h.6M372.7 129.0h.6M373.5 133.0h.6M377.4 129.5h.6M370.0 121.1h.6M372.9 128.5h.6M374.9 125.3h.6M377.2 127.0h.6M371.0 128.3h.6M370.4 130.6h.6M368.7 125.0h.6M374.4 128.2h.6M373.2 130.2h.6M373.6 129.5h.6M373.4 129.6h.6M369.3 121.4h.6M376.3 128.1h.6M376.0 130.2h.6M370.4 125.2h.6M371.9 128.0h.6M371.3 125.3h.6M371.7 128.9h.6M378.2 127.6h.6M376.1 123.6h.6M371.1 128.4h.6M378.7 128.1h.6M374.9 122.1h.6M374.2 125.7h.6M371.8 125.3h.6M372.0 122.2h.6M373.4 130.0h.6M380.9 124.0h.6M371.2 126.7h.6M372.1 119.3h.6M376.0 125.8h.6M374.3 121.8h.6M371.9 127.5h.6M380.6 125.3h.6M373.3 129.4h.6M372.4 131.9h.6M373.4 120.3h.6M375.3 126.5h.6M375.5 125.7h.6M376.3 124.3h.6M374.6 123.4h.6M372.9 125.9h.6M377.4 128.1h.6M373.5 128.4h.6M372.6 129.9h.6M375.8 126.2h.6M376.9 129.8h.6M372.8 128.7h.6M372.8 130.0h.6M373.5 129.8h.6M372.1 128.7h.6M373.0 129.7h.6M375.8 124.3h.6M375.6 119.7h.6M367.9 122.3h.6M377.6 128.1h.6M377.4 126.6h.6M371.2 124.8h.6M377.6 131.0h.6M370.7 129.0h.6M377.6 132.0h.6M372.7 122.8h.6M375.3 124.9h.6M374.6 128.0h.6M375.6 129.6h.6M370.8 131.5h.6M377.8 127.8h.6M375.9 131.8h.6M374.5 130.9h.6M377.2 127.3h.6M373.9 131.4h.6M379.2 128.1h.6M377.6 128.3h.6M379.1 123.1h.6M372.3 123.9h.6M374.7 124.2h.6M369.5 127.6h.6M374.6 122.7h.6M372.2 120.4h.6M372.0 125.9h.6M376.2 135.2h.6M373.7 126.8h.6M376.7 123.0h.6M371.2 125.1h.6M372.0 128.2h.6M374.6 130.0h.6M368.3 127.8h.6M371.1 132.4h.6M373.7 129.2h.6M368.9 123.1h.6M374.7 130.4h.6M371.0 124.4h.6M375.5 130.5h.6M371.8 127.2h.6M377.3 119.6h.6M369.3 119.9h.6M376.6 125.8h.6M359.0 124.2h.6M357.6 125.2h.6M358.5 129.2h.6M359.0 128.5h.6M360.9 127.3h.6M358.3 127.5h.6M362.3 126.3h.6M360.1 125.3h.6M360.2 126.0h.6M359.8 125.9h.6M360.8 125.0h.6M364.9 127.0h.6M358.5 130.8h.6M360.7 122.8h.6M361.2 127.7h.6M361.8 126.6h.6M359.4 124.2h.6M355.2 127.3h.6M362.4 131.0h.6M362.3 123.8h.6M363.1 126.8h.6M362.2 124.1h.6M358.3 128.7h.6M364.2 127.7h.6M360.1 126.8h.6M362.0 126.2h.6M366.0 128.4h.6M364.0 128.7h.6M359.0 124.6h.6M361.3 123.5h.6M364.5 126.2h.6M363.3 128.3h.6M360.8 126.3h.6M357.8 130.0h.6M358.9 126.7h.6M360.2 125.8h.6M361.5 127.4h.6M364.1 124.0h.6M363.7 124.8h.6M356.7 125.8h.6M359.8 125.4h.6M358.7 130.0h.6M359.2 128.6h.6M362.2 127.2h.6M360.7 125.9h.6M358.1 128.8h.6M364.5 129.1h.6M359.1 126.1h.6M358.1 123.9h.6M359.6 127.4h.6M365.3 126.2h.6M362.7 125.7h.6M359.3 126.6h.6M361.6 128.6h.6M358.6 126.1h.6M363.2 126.4h.6M361.7 125.5h.6M355.2 125.1h.6M361.3 124.6h.6M363.7 127.9h.6M357.3 126.7h.6M360.9 125.7h.6M359.7 126.0h.6M362.0 127.3h.6M357.3 127.8h.6M363.1 126.7h.6M360.2 126.9h.6M364.3 127.6h.6M362.8 125.0h.6M360.1 123.6h.6M345.2 125.8h.6M354.2 126.6h.6M347.9 126.1h.6M341.7 130.5h.6M344.8 126.3h.6M353.1 127.3h.6M354.7 126.2h.6M351.4 123.8h.6M355.5 120.7h.6M352.3 124.8h.6M353.3 133.9h.6M344.8 125.1h.6M347.8 128.3h.6M356.4 127.2h.6M353.4 130.7h.6M355.1 125.1h.6M357.6 123.0h.6M338.4 120.8h.6M355.4 130.5h.6M355.9 128.8h.6M352.7 120.4h.6M353.5 127.4h.6M345.4 124.5h.6M355.3 126.6h.6M354.8 124.8h.6M353.2 127.5h.6M356.2 131.4h.6M360.3 127.6h.6M353.2 127.9h.6M349.8 127.7h.6M352.6 126.3h.6M359.5 126.1h.6M356.6 129.5h.6M351.8 131.0h.6M352.1 128.8h.6M354.2 127.1h.6M345.7 128.8h.6M347.2 129.4h.6M354.7 127.4h.6M354.1 124.9h.6" stroke="#000" stroke-width=".6" stroke-opacity=".45" fill="none"/>
<path d="M339.1 162.2h.5M339.3 154.7h.5M349.6 155.2h.5M348.8 159.5h.5M339.8 160.1h.5M346.5 150.2h.5M350.1 159.5h.5M345.8 159.6h.5M350.2 154.7h.5M348.1 156.6h.5M345.7 159.0h.5M341.7 149.0h.5M337.2 152.7h.5M349.2 152.8h.5M339.5 156.1h.5M346.8 149.7h.5M338.0 157.8h.5M339.3 158.8h.5M343.0 163.2h.5M336.1 156.4h.5M343.8 163.2h.5M348.9 151.5h.5M347.9 150.5h.5M343.7 159.0h.5M348.6 156.6h.5M340.7 154.3h.5M342.8 149.6h.5M346.9 163.3h.5M343.6 153.4h.5M341.0 160.6h.5M346.4 153.5h.5M348.5 151.6h.5M346.9 157.3h.5M352.2 156.7h.5M338.8 152.9h.5M346.9 154.6h.5M344.9 157.1h.5M344.7 159.0h.5M344.4 153.1h.5M340.5 161.9h.5M347.5 160.4h.5M337.8 154.2h.5M345.3 158.4h.5M337.0 160.0h.5M343.3 151.9h.5M337.3 156.6h.5M343.6 150.8h.5M346.7 154.2h.5M341.0 155.1h.5M346.2 155.6h.5M348.2 157.7h.5M346.1 156.9h.5M341.2 151.9h.5M344.4 152.1h.5M346.7 160.7h.5M341.3 161.0h.5M341.7 153.1h.5M340.5 158.9h.5M349.5 153.0h.5M343.0 150.2h.5M340.8 151.7h.5M342.3 159.0h.5M337.0 154.6h.5M336.4 152.6h.5M344.2 157.3h.5M339.4 150.9h.5M346.4 161.2h.5M346.7 151.8h.5M337.8 152.0h.5M343.7 163.0h.5M346.9 156.9h.5M341.5 151.2h.5M342.7 151.6h.5M344.2 151.9h.5M345.4 157.1h.5M349.4 161.8h.5M344.7 154.2h.5M341.0 158.3h.5M340.6 151.1h.5M347.7 161.6h.5M348.1 150.3h.5M346.1 152.4h.5M348.3 157.5h.5M344.8 152.5h.5M336.7 156.6h.5M341.1 153.8h.5M348.1 160.0h.5M343.0 162.8h.5M339.3 154.9h.5M336.7 154.5h.5M336.3 158.5h.5M342.4 162.2h.5M342.2 149.1h.5M348.3 162.4h.5M374.4 127.2h.5M376.2 125.4h.5M375.2 121.4h.5M376.8 126.5h.5M375.5 127.5h.5M374.2 129.4h.5M372.2 127.2h.5M376.7 121.8h.5M376.1 128.2h.5M375.9 124.9h.5M372.7 122.2h.5M376.1 125.5h.5M370.6 126.0h.5M375.1 126.5h.5M374.1 123.6h.5M374.0 124.5h.5M368.6 125.7h.5M377.7 126.6h.5M371.9 126.8h.5M372.4 122.5h.5M373.1 128.3h.5M372.8 122.3h.5M370.4 126.6h.5M375.2 125.7h.5M373.5 118.7h.5M374.2 123.7h.5M371.0 125.5h.5M374.5 126.4h.5M374.0 125.2h.5M376.6 126.9h.5M372.6 125.5h.5M370.2 125.0h.5M374.1 127.9h.5M374.6 135.4h.5M376.1 124.7h.5M375.4 125.1h.5M372.4 127.2h.5M374.1 124.0h.5M371.9 128.1h.5M375.0 125.8h.5M379.0 130.6h.5M372.0 123.2h.5M371.3 126.2h.5M371.3 123.6h.5M373.3 127.0h.5M364.6 127.8h.5M362.0 125.4h.5M363.5 127.9h.5M359.2 128.3h.5M361.3 127.4h.5M363.5 124.6h.5M363.9 127.1h.5M361.7 124.9h.5M363.0 128.8h.5M361.4 125.8h.5M359.3 125.8h.5M358.9 126.7h.5M358.4 125.8h.5M359.9 127.9h.5M362.9 127.1h.5M360.4 129.3h.5M364.4 124.5h.5M363.0 126.7h.5M362.5 127.1h.5M359.4 126.4h.5M360.8 124.8h.5" stroke="#fff" stroke-width=".55" stroke-opacity=".45" fill="none"/>
</g>
<rect x="355.2" y="117.1" width="25.8" height="19" fill="none" stroke="#6468ac" stroke-width="0.75"/>
<text x="368.1" y="144.29" font-size="5.8" text-anchor="middle" fill="#3d4278" stroke="#3d4278" stroke-width="0.16">49.1</text>
<rect x="258" y="221.9" width="62.4" height="60.5" fill="#fff" stroke="#9a9a9a" stroke-width="0.75"/>
<line x1="258" y1="227.5" x2="259" y2="227.5" stroke="#999" stroke-width="0.5"/>
<line x1="258" y1="235.5" x2="259" y2="235.5" stroke="#999" stroke-width="0.5"/>
<line x1="258" y1="244.5" x2="259" y2="244.5" stroke="#999" stroke-width="0.5"/>
<line x1="258" y1="252.5" x2="259" y2="252.5" stroke="#999" stroke-width="0.5"/>
<line x1="258" y1="260.5" x2="259" y2="260.5" stroke="#999" stroke-width="0.5"/>
<line x1="258" y1="268.5" x2="259" y2="268.5" stroke="#999" stroke-width="0.5"/>
<line x1="258" y1="276.5" x2="259" y2="276.5" stroke="#999" stroke-width="0.5"/>
<line x1="264.5" y1="282.4" x2="264.5" y2="281.4" stroke="#999" stroke-width="0.5"/>
<line x1="272.5" y1="282.4" x2="272.5" y2="281.4" stroke="#999" stroke-width="0.5"/>
<line x1="280.5" y1="282.4" x2="280.5" y2="281.4" stroke="#999" stroke-width="0.5"/>
<line x1="289.5" y1="282.4" x2="289.5" y2="281.4" stroke="#999" stroke-width="0.5"/>
<line x1="297.5" y1="282.4" x2="297.5" y2="281.4" stroke="#999" stroke-width="0.5"/>
<line x1="306.5" y1="282.4" x2="306.5" y2="281.4" stroke="#999" stroke-width="0.5"/>
<line x1="314.5" y1="282.4" x2="314.5" y2="281.4" stroke="#999" stroke-width="0.5"/>
<g clip-path="url(#cp21)">
<rect x="263.98" y="257.93" width="21.25" height="17.34" rx="5.62" fill="#000" fill-opacity="0.79" filter="url(#fb)"/>
<ellipse cx="275" cy="243" rx="19.8" ry="13.2" fill="url(#bg21)"/>
<ellipse cx="306" cy="236.6" rx="4.62" ry="5.06" fill="url(#bg22)"/>
<ellipse cx="299" cy="237" rx="8.8" ry="5.06" fill="url(#bg23)"/>
<path d="M276.7 257.9h.6M269.9 263.6h.6M271.9 258.1h.6M280.7 269.7h.6M267.0 259.9h.6M279.9 266.1h.6M263.9 271.1h.6M277.0 268.3h.6M279.3 265.6h.6M269.2 257.9h.6M277.6 273.7h.6M272.2 263.0h.6M279.9 266.4h.6M276.8 273.6h.6M279.8 261.1h.6M270.2 255.7h.6M277.4 279.5h.6M278.3 273.6h.6M284.1 264.3h.6M271.3 270.8h.6M267.4 268.9h.6M267.5 258.0h.6M262.0 270.7h.6M280.5 266.6h.6M274.1 273.3h.6M263.3 268.2h.6M275.2 259.7h.6M267.9 262.3h.6M270.3 268.2h.6M278.5 274.8h.6M275.5 263.3h.6M278.6 274.5h.6M273.9 263.4h.6M269.4 266.7h.6M260.2 262.6h.6M271.1 269.1h.6M278.5 277.1h.6M278.0 271.6h.6M265.3 257.3h.6M273.2 273.5h.6M285.2 267.4h.6M278.6 275.3h.6M278.3 265.0h.6M272.1 258.4h.6M265.5 262.5h.6M269.3 269.7h.6M279.1 258.6h.6M273.3 279.4h.6M267.8 260.5h.6M287.1 267.4h.6M268.2 259.8h.6M289.9 264.4h.6M273.8 264.1h.6M286.3 271.6h.6M266.4 262.3h.6M270.8 273.5h.6M283.9 262.4h.6M282.7 267.4h.6M287.6 267.4h.6M284.2 272.0h.6M268.1 275.0h.6M278.7 263.6h.6M264.2 263.0h.6M269.3 259.6h.6M288.0 269.7h.6M280.0 275.2h.6M268.7 271.1h.6M266.7 259.9h.6M274.7 260.9h.6M269.2 264.4h.6M272.9 274.0h.6M279.5 275.1h.6M262.9 271.7h.6M274.5 268.9h.6M275.5 254.4h.6M281.8 261.9h.6M275.4 264.8h.6M281.3 271.8h.6M277.2 257.6h.6M282.9 267.2h.6M279.7 271.3h.6M270.5 256.1h.6M270.7 273.1h.6M280.1 258.1h.6M271.7 260.8h.6M272.0 264.0h.6M267.3 262.2h.6M285.5 261.2h.6M278.3 261.3h.6M281.2 267.6h.6M283.8 265.9h.6M265.2 270.1h.6M271.5 275.1h.6M283.3 259.0h.6M281.4 263.5h.6M276.4 256.3h.6M272.0 255.7h.6M279.2 266.8h.6M272.6 276.2h.6M277.8 260.2h.6M285.8 266.5h.6M272.7 274.4h.6M275.4 256.9h.6M282.4 272.1h.6M274.4 257.1h.6M270.2 271.1h.6M280.6 269.2h.6M279.4 274.4h.6M270.1 264.9h.6M271.9 267.0h.6M269.4 256.4h.6M271.2 270.5h.6M265.9 261.7h.6M265.7 273.8h.6M276.2 255.2h.6M277.8 266.7h.6M266.4 262.4h.6M266.4 262.5h.6M281.6 268.8h.6M275.5 259.0h.6M265.2 258.0h.6M281.8 264.7h.6M279.4 276.0h.6M263.2 271.4h.6M277.9 263.5h.6M283.5 263.9h.6M270.9 259.6h.6M266.4 275.5h.6M274.6 266.3h.6M260.2 270.1h.6M271.2 266.0h.6M270.7 260.2h.6M275.3 266.3h.6M286.8 267.2h.6M271.1 257.9h.6M283.0 262.5h.6M264.4 275.0h.6M274.8 269.1h.6M265.2 263.0h.6M282.4 267.8h.6M278.3 258.2h.6M268.6 267.0h.6M268.1 257.8h.6M276.6 257.9h.6M283.5 267.5h.6M277.8 273.1h.6M268.2 269.6h.6M266.4 261.1h.6M265.3 275.0h.6M272.9 274.5h.6M278.7 267.1h.6M264.3 270.7h.6M280.6 264.7h.6M286.5 268.5h.6M265.7 261.3h.6M278.1 276.1h.6M288.4 264.6h.6M277.1 261.1h.6M277.4 277.3h.6M288.4 264.5h.6M270.5 275.0h.6M272.0 261.2h.6M273.8 275.0h.6M272.1 274.2h.6M278.7 268.0h.6M272.3 273.2h.6M270.1 268.9h.6M283.5 267.8h.6M281.8 267.0h.6M279.3 266.8h.6M284.4 259.1h.6M268.4 269.6h.6M284.9 261.7h.6M260.6 268.1h.6M266.2 263.9h.6M269.0 271.4h.6M275.3 263.4h.6M269.3 273.1h.6M279.0 257.1h.6M273.3 267.4h.6M281.7 272.5h.6M269.4 269.0h.6M280.9 267.5h.6M271.2 268.9h.6M268.7 270.7h.6M271.1 256.1h.6M281.8 266.6h.6M282.4 276.1h.6M267.0 261.5h.6M278.7 261.1h.6M268.4 255.4h.6M276.0 277.4h.6M269.1 269.1h.6M282.8 263.6h.6M265.8 265.7h.6M271.1 260.9h.6M271.3 273.5h.6M278.6 254.5h.6M264.8 263.3h.6M277.8 255.6h.6M273.2 272.4h.6M275.8 275.5h.6M278.8 274.0h.6M264.6 261.0h.6M280.3 269.1h.6M273.0 268.5h.6M267.3 256.6h.6M272.1 278.1h.6M274.4 269.2h.6M275.7 275.6h.6M266.0 267.8h.6M274.8 263.5h.6M274.0 272.3h.6M268.5 265.6h.6M282.5 266.2h.6M260.5 266.5h.6M273.5 273.8h.6M280.4 258.9h.6M280.3 263.4h.6M274.5 262.3h.6M268.5 276.4h.6M260.8 266.6h.6M273.2 269.0h.6M280.1 264.2h.6M286.6 267.3h.6M283.3 259.5h.6M274.1 272.3h.6M276.4 268.6h.6M277.9 262.4h.6M277.8 257.0h.6M289.2 269.7h.6M274.0 268.3h.6M285.7 272.7h.6M274.4 257.3h.6M282.2 262.3h.6M272.0 274.6h.6M272.6 268.7h.6M284.1 268.2h.6M284.3 272.4h.6M281.3 268.9h.6M273.0 258.7h.6M277.1 273.9h.6M269.2 267.6h.6M273.2 275.1h.6M266.5 265.8h.6M267.5 264.5h.6M268.3 274.0h.6M274.3 269.2h.6M281.6 262.9h.6M285.4 262.8h.6M269.6 267.4h.6M272.7 267.8h.6M262.2 265.4h.6M262.6 264.0h.6M281.4 265.1h.6M261.1 271.5h.6M270.5 271.6h.6M280.1 265.1h.6M268.6 260.0h.6M277.8 269.5h.6M265.8 264.4h.6M278.2 260.2h.6M267.4 264.1h.6M274.5 267.5h.6M266.4 274.4h.6M273.5 259.4h.6M267.9 264.6h.6M284.2 267.4h.6M268.3 277.3h.6M274.2 260.7h.6M285.8 270.3h.6M265.5 271.8h.6M263.1 263.0h.6M270.4 276.7h.6M267.8 253.5h.6M281.7 269.1h.6M280.1 264.7h.6M274.7 263.9h.6M279.9 262.3h.6M267.9 265.8h.6M263.2 268.7h.6M269.8 276.8h.6M278.0 268.7h.6M262.3 265.5h.6M269.6 277.0h.6M283.2 258.6h.6M277.0 269.9h.6M285.3 268.9h.6M276.9 259.0h.6M276.6 266.4h.6M271.0 267.9h.6M280.8 261.3h.6M272.7 259.0h.6M276.8 258.8h.6M270.4 264.5h.6M268.1 266.4h.6M265.1 258.4h.6M276.9 260.5h.6M284.4 264.0h.6M282.5 261.3h.6M274.2 263.2h.6M278.8 265.0h.6M284.6 268.0h.6M285.8 267.2h.6M274.3 273.9h.6M284.2 266.9h.6M263.6 263.1h.6M279.4 278.2h.6M279.5 262.7h.6M283.8 271.8h.6M275.4 262.0h.6M283.5 269.5h.6M285.6 263.0h.6M269.1 271.8h.6M272.7 275.2h.6M271.2 272.3h.6M271.6 258.3h.6M282.3 259.6h.6M270.3 260.2h.6M278.0 270.0h.6M268.3 271.8h.6M264.2 267.3h.6M273.7 271.8h.6M285.3 262.8h.6M270.9 255.6h.6M271.6 258.7h.6M274.7 273.0h.6M267.2 265.4h.6M275.4 272.7h.6M270.3 273.8h.6M274.9 262.4h.6M266.0 262.2h.6M272.0 274.3h.6M268.8 259.9h.6M282.0 261.5h.6M281.7 266.5h.6M277.9 278.0h.6M281.1 266.9h.6M291.0 279.7h.6M281.1 269.4h.6M261.0 264.6h.6M273.1 275.0h.6M272.3 262.2h.6M282.7 259.7h.6M279.5 267.3h.6M283.1 255.0h.6M260.7 257.6h.6M288.0 260.5h.6M273.7 266.7h.6M284.0 274.2h.6M279.5 275.0h.6M266.8 265.0h.6M267.4 268.2h.6M280.6 264.2h.6M285.6 255.9h.6M266.5 269.5h.6M264.3 261.0h.6M266.2 262.4h.6M267.9 259.0h.6M272.1 268.9h.6M280.4 262.4h.6M270.2 256.7h.6M264.4 274.2h.6M271.2 268.8h.6M274.0 268.8h.6M276.0 267.0h.6M275.9 262.3h.6M273.0 245.6h.6M279.7 262.3h.6M271.9 263.2h.6M264.9 269.6h.6M273.0 256.7h.6M291.8 270.0h.6M267.0 266.7h.6M297.3 277.4h.6M269.9 261.1h.6M281.2 266.6h.6M259.7 268.3h.6M273.6 270.9h.6M287.9 276.1h.6M263.7 270.0h.6M267.9 256.1h.6M277.5 278.8h.6M277.8 251.7h.6M260.9 271.3h.6M263.0 276.3h.6M277.3 261.5h.6M277.3 266.2h.6M281.4 266.0h.6M273.1 258.3h.6M280.4 269.3h.6M285.8 259.4h.6M263.3 269.0h.6M284.0 271.1h.6M281.6 274.7h.6M286.4 276.7h.6M271.1 269.8h.6M274.3 270.3h.6M275.4 265.0h.6M270.2 266.1h.6M283.9 273.2h.6M276.7 272.4h.6M265.5 270.1h.6M277.0 266.5h.6M264.8 274.3h.6M260.3 258.2h.6M265.1 262.7h.6M274.8 268.3h.6M275.7 275.0h.6M273.7 257.4h.6M279.6 258.7h.6M292.3 257.6h.6M264.3 272.0h.6M278.6 272.6h.6M277.2 278.1h.6M270.0 257.7h.6M276.5 265.2h.6M274.9 262.5h.6M267.0 258.5h.6M281.7 266.9h.6M276.8 262.5h.6M280.5 267.7h.6M289.2 264.0h.6M263.0 255.9h.6M283.7 271.0h.6M279.0 270.8h.6M266.7 263.4h.6M274.1 250.5h.6M270.8 249.4h.6M263.9 256.3h.6M282.0 269.4h.6M267.6 271.5h.6M282.1 267.1h.6M270.2 247.7h.6M278.0 269.3h.6M276.5 261.4h.6M271.8 264.5h.6M271.1 259.4h.6M270.9 272.2h.6M264.2 269.3h.6M279.2 258.6h.6M267.5 255.0h.6M268.6 261.8h.6M275.5 273.0h.6M264.1 270.5h.6M268.1 266.9h.6M270.1 273.3h.6M278.3 269.0h.6M261.3 259.4h.6M281.6 271.3h.6M273.3 266.0h.6M270.0 260.3h.6M277.7 274.9h.6M283.8 269.6h.6M285.1 255.7h.6M265.1 272.2h.6M286.8 267.9h.6M274.9 263.8h.6M286.5 263.0h.6M264.9 258.8h.6M273.0 255.6h.6M273.6 268.5h.6M263.0 270.0h.6M270.4 264.0h.6M282.8 268.4h.6M284.7 263.7h.6M280.5 263.8h.6M277.1 270.2h.6M270.5 270.1h.6M293.3 277.0h.6M262.3 263.0h.6M263.5 269.1h.6M267.5 265.2h.6M276.1 268.1h.6M270.3 275.8h.6M281.5 269.4h.6M260.2 260.7h.6M282.1 263.1h.6M290.5 262.1h.6M282.5 264.5h.6M271.8 261.6h.6M269.0 262.8h.6M284.4 265.2h.6M258.9 268.9h.6M267.2 260.2h.6M259.2 267.0h.6M273.1 266.8h.6M291.2 272.7h.6M270.5 268.3h.6M284.2 270.3h.6M264.6 268.5h.6M279.9 274.0h.6M276.9 276.3h.6M277.1 267.3h.6M277.0 272.4h.6M270.1 259.6h.6M288.5 270.5h.6M267.8 276.6h.6M281.6 259.2h.6M273.8 271.4h.6M282.4 268.5h.6M273.4 272.1h.6M282.8 267.4h.6M278.6 266.6h.6M283.4 273.9h.6M289.2 267.2h.6M276.6 269.8h.6M276.2 259.1h.6M275.3 271.0h.6M281.5 266.1h.6M273.4 266.7h.6M275.6 255.5h.6M274.0 260.9h.6M261.4 265.4h.6M281.3 265.1h.6M270.0 279.5h.6M265.5 271.4h.6M282.1 260.1h.6M278.0 280.1h.6M279.2 258.8h.6M276.1 260.3h.6M270.5 261.8h.6M281.5 266.6h.6M277.0 265.4h.6M268.1 270.1h.6M267.4 258.5h.6M281.0 264.3h.6M286.5 274.5h.6M266.0 272.3h.6M282.8 275.8h.6M273.1 270.3h.6M280.7 270.1h.6M280.2 260.7h.6M262.4 258.2h.6M279.6 263.1h.6M273.0 265.1h.6M268.6 262.3h.6M282.7 271.2h.6M277.9 277.7h.6M278.2 266.9h.6M285.2 257.9h.6M282.4 259.8h.6M276.0 273.1h.6M269.6 271.7h.6M285.7 268.4h.6M270.7 270.8h.6M264.0 273.7h.6M288.9 267.3h.6M290.1 268.8h.6M263.8 265.0h.6M278.0 255.4h.6M265.3 267.6h.6M279.8 266.8h.6M272.1 269.3h.6M265.5 263.7h.6M282.1 269.4h.6M269.2 269.2h.6M278.2 264.4h.6M270.6 261.0h.6M287.4 262.8h.6M283.0 268.9h.6M272.2 272.0h.6M260.1 277.6h.6M277.9 266.3h.6M268.7 269.9h.6M286.9 249.2h.6M266.0 248.1h.6M281.4 241.8h.6M271.1 237.7h.6M271.9 245.5h.6M282.7 258.1h.6M273.2 235.1h.6M278.7 239.6h.6M265.0 240.0h.6M274.9 242.5h.6M267.2 250.7h.6M272.6 240.3h.6M302.6 228.4h.6M275.7 235.1h.6M273.4 235.0h.6M271.7 245.1h.6M268.1 244.4h.6M292.8 235.8h.6M268.9 248.1h.6M298.5 231.3h.6M273.4 242.1h.6M287.4 252.0h.6M276.7 232.9h.6M269.4 247.3h.6M273.7 250.1h.6M288.3 240.3h.6M273.9 244.4h.6M293.7 245.5h.6M268.8 235.3h.6M272.4 239.6h.6M289.7 246.1h.6M259.3 240.8h.6M270.6 236.0h.6M281.7 243.0h.6M281.6 241.4h.6M281.1 237.9h.6M266.2 230.1h.6M284.6 241.8h.6M271.1 248.9h.6M277.3 239.0h.6M266.5 239.4h.6M292.4 239.9h.6M271.9 245.8h.6M274.8 233.1h.6M270.2 248.1h.6M279.4 256.6h.6M262.5 246.2h.6M274.6 243.5h.6M273.4 246.0h.6M291.4 246.3h.6M272.4 240.9h.6M273.8 242.3h.6M277.1 241.8h.6M285.7 246.6h.6M295.5 255.5h.6M280.1 244.0h.6M280.8 256.5h.6M291.7 237.4h.6M276.5 248.1h.6M280.1 238.5h.6M270.0 244.0h.6M274.4 242.6h.6M268.3 230.7h.6M297.4 241.6h.6M283.6 245.8h.6M282.7 245.2h.6M266.0 233.5h.6M277.0 233.7h.6M269.1 247.2h.6M269.0 236.5h.6M262.5 256.7h.6M269.4 245.2h.6M301.8 245.4h.6M269.9 242.0h.6M282.6 238.0h.6M285.3 245.0h.6M280.5 241.7h.6M283.4 253.1h.6M266.1 244.3h.6M291.2 244.8h.6M296.7 250.2h.6M276.3 249.7h.6M268.9 229.9h.6M267.7 256.2h.6M262.7 233.2h.6M281.9 236.5h.6M284.2 241.3h.6M292.6 238.0h.6M263.0 255.2h.6M306.2 234.7h.6M303.5 234.8h.6M305.2 235.8h.6M304.2 236.1h.6M304.5 238.5h.6M307.0 237.9h.6M307.3 238.9h.6M305.7 234.5h.6M303.0 240.1h.6M304.6 238.7h.6M308.2 234.8h.6M307.3 235.7h.6M305.4 235.4h.6M307.8 232.6h.6M301.8 242.0h.6M304.5 238.6h.6M306.2 237.2h.6M306.8 240.0h.6M308.5 236.6h.6M306.3 236.6h.6M306.8 240.4h.6M306.4 234.4h.6M303.6 234.8h.6M305.7 232.7h.6M309.4 235.2h.6M307.8 239.7h.6M305.4 235.6h.6M306.1 240.9h.6M310.1 235.6h.6M309.8 237.5h.6M310.4 234.2h.6M309.1 238.8h.6M305.8 242.2h.6M305.7 236.2h.6M302.4 232.9h.6M309.1 236.7h.6M309.0 238.8h.6M311.3 234.8h.6M304.4 241.9h.6M310.1 233.6h.6M307.4 238.4h.6M306.5 240.6h.6M306.8 237.7h.6M303.5 240.2h.6M306.0 238.2h.6M303.9 235.9h.6M305.1 235.7h.6M306.7 241.6h.6M305.1 232.4h.6M307.8 237.5h.6M304.6 234.8h.6M304.9 235.7h.6M304.9 239.1h.6M306.7 234.6h.6M306.8 232.8h.6M308.5 240.0h.6M305.5 240.1h.6M304.7 236.9h.6M306.9 234.5h.6M310.4 234.2h.6M308.3 237.6h.6M301.9 237.9h.6M306.5 238.1h.6M305.4 238.5h.6M305.8 236.7h.6M308.2 238.3h.6M306.4 236.7h.6M306.1 237.7h.6M302.6 236.2h.6M306.0 237.5h.6M304.6 234.3h.6M306.9 236.2h.6M308.8 233.8h.6M304.3 238.2h.6M305.8 235.2h.6M307.7 235.0h.6M302.5 235.0h.6M304.7 234.5h.6M302.9 234.2h.6M304.9 238.2h.6M306.0 238.0h.6M305.5 239.0h.6M309.6 235.1h.6M308.1 237.3h.6M306.7 231.6h.6M308.9 239.0h.6M310.7 234.1h.6M305.4 239.9h.6M305.9 238.5h.6M307.1 242.1h.6M308.7 238.0h.6M301.7 235.0h.6M306.2 242.3h.6M312.5 240.1h.6M306.4 239.7h.6M310.8 241.3h.6M312.0 236.7h.6M308.1 230.8h.6M311.7 236.3h.6M306.5 235.3h.6M302.3 238.4h.6M305.3 235.8h.6M309.8 238.3h.6M312.6 234.6h.6M307.8 239.7h.6M302.6 238.4h.6M306.4 235.0h.6M301.8 240.3h.6M306.6 240.8h.6M310.2 238.4h.6M300.6 235.3h.6M296.0 238.5h.6M303.1 237.2h.6M296.8 238.4h.6M303.2 235.5h.6M300.6 237.6h.6M301.4 233.5h.6M294.8 238.8h.6M299.7 233.6h.6M302.0 235.3h.6M300.8 237.2h.6M297.6 238.4h.6M300.8 237.3h.6M297.7 231.9h.6M299.1 233.8h.6M304.6 234.9h.6M306.7 236.7h.6M307.2 233.5h.6M301.9 234.8h.6M296.8 237.9h.6M298.1 237.1h.6M304.2 238.2h.6M299.9 237.8h.6M306.2 233.2h.6M297.8 234.2h.6M303.3 237.0h.6M293.5 237.7h.6M297.9 235.4h.6M301.6 239.2h.6M301.1 235.0h.6M300.0 235.4h.6M294.3 236.8h.6M299.8 237.4h.6M298.0 235.2h.6M296.4 236.5h.6M300.3 234.3h.6M295.6 234.9h.6M296.4 240.6h.6M308.9 233.9h.6M300.9 240.6h.6M304.7 235.3h.6M297.0 239.9h.6M297.2 235.6h.6M293.4 234.1h.6M293.3 236.6h.6M293.6 236.7h.6M301.3 237.4h.6M295.0 234.2h.6M295.3 233.0h.6M296.5 236.2h.6M302.3 235.6h.6M297.4 234.8h.6M301.8 236.5h.6M294.5 240.2h.6M301.8 239.9h.6M299.0 237.6h.6M301.8 240.3h.6M294.1 241.8h.6M298.4 240.7h.6M299.0 232.5h.6" stroke="#000" stroke-width=".6" stroke-opacity=".45" fill="none"/>
<path d="M273.4 265.8h.5M266.3 271.9h.5M280.7 266.3h.5M271.4 268.4h.5M271.9 261.1h.5M270.0 267.3h.5M269.8 263.1h.5M278.2 269.6h.5M281.7 273.3h.5M271.7 274.9h.5M272.6 272.7h.5M270.5 260.1h.5M270.6 269.7h.5M276.2 259.9h.5M267.3 272.5h.5M274.1 262.8h.5M267.2 267.2h.5M272.7 268.9h.5M276.5 268.7h.5M269.9 269.3h.5M271.9 268.7h.5M284.9 269.3h.5M267.7 261.1h.5M277.9 268.2h.5M273.4 274.0h.5M270.4 274.9h.5M278.5 261.9h.5M270.6 270.6h.5M284.0 267.2h.5M263.6 266.8h.5M276.3 273.6h.5M278.9 271.3h.5M278.0 264.9h.5M279.4 268.9h.5M276.1 270.6h.5M283.4 272.0h.5M275.5 274.7h.5M275.4 266.7h.5M272.9 266.5h.5M274.9 264.1h.5M268.5 268.5h.5M269.1 261.0h.5M279.7 259.0h.5M269.3 262.7h.5M277.4 269.5h.5M278.7 258.4h.5M283.0 265.8h.5M277.0 266.5h.5M275.5 270.2h.5M281.3 259.4h.5M274.9 275.3h.5M272.7 274.2h.5M272.6 267.7h.5M269.8 259.4h.5M270.7 270.3h.5M272.8 274.9h.5M273.5 268.3h.5M280.9 267.7h.5M267.7 263.5h.5M268.6 260.3h.5M267.6 268.9h.5M282.1 265.4h.5M276.1 258.1h.5M271.5 270.5h.5M269.1 263.8h.5M265.7 266.3h.5M277.3 272.5h.5M269.4 270.9h.5M271.9 262.8h.5M270.2 271.3h.5M276.6 269.2h.5M269.2 271.5h.5M277.0 274.0h.5M272.6 270.4h.5M279.0 268.2h.5M265.6 265.1h.5M265.5 271.0h.5M273.7 270.1h.5M269.8 258.9h.5M282.8 261.1h.5M267.1 271.8h.5M270.7 274.2h.5M274.2 261.6h.5M275.7 259.1h.5M273.7 271.3h.5M273.9 267.0h.5M282.5 272.3h.5M276.0 261.1h.5M264.1 265.3h.5M279.9 262.2h.5M271.6 267.5h.5M270.2 274.0h.5M282.4 261.9h.5M285.6 266.9h.5M266.0 269.6h.5M264.3 264.0h.5M267.7 270.5h.5M274.1 263.0h.5M276.4 257.6h.5M274.1 263.3h.5M270.5 272.6h.5M271.8 266.4h.5M277.5 271.4h.5M278.0 267.7h.5M276.6 267.1h.5M277.0 257.9h.5M266.2 264.8h.5M269.6 265.9h.5M272.1 262.3h.5M270.8 259.6h.5M271.4 263.4h.5M273.0 266.7h.5M275.9 258.3h.5M279.2 272.6h.5M270.5 262.3h.5M269.8 273.5h.5M277.7 269.0h.5M271.3 259.5h.5M279.7 262.9h.5M280.2 271.5h.5M282.1 270.9h.5M264.2 264.7h.5M267.1 268.1h.5M277.5 267.8h.5M274.8 269.7h.5M265.8 265.4h.5M279.9 272.2h.5M264.9 262.6h.5M279.8 269.0h.5M269.1 259.4h.5M268.9 261.9h.5M275.0 257.5h.5M279.6 263.9h.5M278.8 265.3h.5M276.2 259.0h.5M269.6 264.3h.5M272.0 260.0h.5M266.3 264.6h.5M271.9 258.0h.5M267.5 261.2h.5M266.9 262.4h.5M275.1 267.0h.5M275.6 258.2h.5M275.9 269.9h.5M274.7 266.1h.5M284.2 263.1h.5M266.1 267.0h.5M273.1 261.0h.5M305.1 237.7h.5M306.8 236.8h.5M306.3 237.5h.5M305.4 238.7h.5M306.0 237.1h.5M305.9 237.9h.5M303.7 238.9h.5M306.0 237.7h.5M304.3 232.5h.5M306.1 238.9h.5M305.8 237.2h.5M307.6 237.8h.5M305.3 239.6h.5M306.4 236.3h.5M303.6 237.6h.5M308.1 232.8h.5M309.8 239.5h.5M305.9 236.6h.5M307.0 236.3h.5M307.3 236.2h.5M305.8 237.8h.5M307.7 233.3h.5M305.2 240.2h.5M305.9 236.9h.5M306.0 236.5h.5M305.1 239.3h.5M303.7 238.4h.5M307.8 237.7h.5M306.3 235.0h.5M304.8 238.8h.5M304.2 237.2h.5M305.9 235.2h.5M304.4 236.4h.5" stroke="#fff" stroke-width=".55" stroke-opacity=".45" fill="none"/>
</g>
<rect x="287.3" y="227.3" width="26.4" height="22" fill="none" stroke="#6468ac" stroke-width="0.75"/>
<text x="300.5" y="257.29" font-size="5.8" text-anchor="middle" fill="#3d4278" stroke="#3d4278" stroke-width="0.16">26.3</text>
<rect x="327.4" y="221.9" width="62.2" height="60.5" fill="#fff" stroke="#9a9a9a" stroke-width="0.75"/>
<line x1="327.4" y1="227.5" x2="328.4" y2="227.5" stroke="#999" stroke-width="0.5"/>
<line x1="327.4" y1="235.5" x2="328.4" y2="235.5" stroke="#999" stroke-width="0.5"/>
<line x1="327.4" y1="244.5" x2="328.4" y2="244.5" stroke="#999" stroke-width="0.5"/>
<line x1="327.4" y1="252.5" x2="328.4" y2="252.5" stroke="#999" stroke-width="0.5"/>
<line x1="327.4" y1="260.5" x2="328.4" y2="260.5" stroke="#999" stroke-width="0.5"/>
<line x1="327.4" y1="268.5" x2="328.4" y2="268.5" stroke="#999" stroke-width="0.5"/>
<line x1="327.4" y1="276.5" x2="328.4" y2="276.5" stroke="#999" stroke-width="0.5"/>
<line x1="333.5" y1="282.4" x2="333.5" y2="281.4" stroke="#999" stroke-width="0.5"/>
<line x1="341.5" y1="282.4" x2="341.5" y2="281.4" stroke="#999" stroke-width="0.5"/>
<line x1="350.5" y1="282.4" x2="350.5" y2="281.4" stroke="#999" stroke-width="0.5"/>
<line x1="358.5" y1="282.4" x2="358.5" y2="281.4" stroke="#999" stroke-width="0.5"/>
<line x1="366.5" y1="282.4" x2="366.5" y2="281.4" stroke="#999" stroke-width="0.5"/>
<line x1="375.5" y1="282.4" x2="375.5" y2="281.4" stroke="#999" stroke-width="0.5"/>
<line x1="383.5" y1="282.4" x2="383.5" y2="281.4" stroke="#999" stroke-width="0.5"/>
<g clip-path="url(#cp22)">
<rect x="334.1" y="259" width="20.4" height="17" rx="5.4" fill="#000" fill-opacity="0.43" filter="url(#fb)"/>
<ellipse cx="345" cy="243" rx="19.8" ry="13.2" fill="url(#bg25)"/>
<ellipse cx="373.8" cy="238" rx="5.5" ry="6.82" fill="url(#bg26)"/>
<ellipse cx="365" cy="235.5" rx="9.9" ry="5.5" fill="url(#bg27)"/>
<path d="M337.1 274.1h.6M345.1 269.6h.6M350.8 270.8h.6M340.2 262.6h.6M332.3 270.1h.6M354.1 266.9h.6M347.5 263.9h.6M349.9 259.8h.6M357.4 271.1h.6M336.3 265.1h.6M335.2 261.4h.6M357.5 271.1h.6M338.4 268.2h.6M338.9 275.8h.6M346.0 274.0h.6M346.2 262.4h.6M334.7 271.9h.6M355.3 274.5h.6M342.7 269.0h.6M355.0 262.2h.6M342.0 269.1h.6M347.2 273.2h.6M347.5 268.7h.6M337.1 267.0h.6M339.7 260.8h.6M335.7 271.9h.6M348.7 262.4h.6M333.7 266.1h.6M347.8 258.0h.6M333.5 263.6h.6M340.6 265.5h.6M335.5 272.0h.6M347.4 269.6h.6M341.0 258.1h.6M346.3 265.5h.6M342.5 257.9h.6M339.8 269.6h.6M347.0 268.8h.6M348.2 275.0h.6M337.5 265.6h.6M342.8 265.6h.6M356.0 269.1h.6M350.1 265.7h.6M341.4 256.7h.6M342.6 259.4h.6M355.4 266.8h.6M339.7 263.9h.6M340.0 267.7h.6M345.5 273.8h.6M340.4 259.9h.6M341.4 260.3h.6M354.1 265.0h.6M351.4 264.9h.6M338.4 267.8h.6M350.6 260.5h.6M352.9 265.6h.6M335.8 271.6h.6M342.6 266.4h.6M336.0 262.9h.6M334.9 268.5h.6M339.5 268.3h.6M344.8 269.9h.6M348.6 276.1h.6M341.1 274.5h.6M342.2 266.3h.6M336.8 257.7h.6M347.0 262.7h.6M342.4 274.1h.6M332.6 266.5h.6M340.5 268.5h.6M350.7 277.2h.6M359.1 266.1h.6M343.3 268.9h.6M341.4 261.4h.6M343.1 265.0h.6M344.9 264.0h.6M350.3 258.9h.6M354.7 264.5h.6M341.1 273.2h.6M343.9 266.9h.6M340.6 274.4h.6M341.3 275.5h.6M347.6 257.4h.6M344.3 257.3h.6M342.9 257.6h.6M350.1 272.2h.6M353.6 265.9h.6M333.8 258.4h.6M335.2 269.2h.6M352.4 263.4h.6M350.5 271.9h.6M341.0 275.7h.6M349.9 273.4h.6M339.2 275.5h.6M347.0 258.0h.6M346.5 270.0h.6M345.0 258.9h.6M336.8 263.1h.6M342.3 270.5h.6M349.6 261.4h.6M350.1 268.8h.6M344.7 275.5h.6M333.6 267.5h.6M337.8 271.4h.6M339.3 271.2h.6M352.4 267.4h.6M334.2 264.8h.6M340.5 262.5h.6M333.7 270.0h.6M346.4 272.8h.6M352.5 272.8h.6M344.8 256.2h.6M342.8 260.2h.6M357.0 266.9h.6M344.2 274.2h.6M335.6 273.2h.6M336.0 274.4h.6M339.7 265.6h.6M350.0 269.0h.6M347.4 259.1h.6M342.8 255.6h.6M347.4 269.2h.6M341.7 258.3h.6M337.9 276.0h.6M334.8 271.1h.6M347.6 276.3h.6M340.0 258.7h.6M336.5 264.1h.6M354.9 268.8h.6M353.0 277.5h.6M344.0 264.9h.6M350.7 273.5h.6M331.4 269.8h.6M338.6 259.0h.6M349.1 274.8h.6M332.1 267.6h.6M331.9 273.2h.6M345.9 269.2h.6M344.7 266.2h.6M349.1 269.8h.6M348.1 261.5h.6M341.9 271.4h.6M343.0 268.9h.6M346.1 276.6h.6M347.9 263.6h.6M349.8 267.4h.6M348.3 275.6h.6M337.3 261.4h.6M355.0 270.0h.6M338.2 271.3h.6M346.8 278.3h.6M336.7 260.6h.6M344.6 268.3h.6M336.4 261.9h.6M353.5 265.6h.6M344.3 274.4h.6M350.4 272.8h.6M351.7 259.8h.6M351.2 269.5h.6M343.9 262.3h.6M355.0 260.2h.6M346.2 269.3h.6M337.3 266.9h.6M355.1 266.1h.6M350.8 275.0h.6M347.3 263.2h.6M338.4 258.2h.6M351.9 270.6h.6M349.7 275.7h.6M351.1 264.5h.6M352.6 270.5h.6M338.9 273.2h.6M348.2 268.2h.6M343.7 277.7h.6M346.1 273.9h.6M345.1 264.8h.6M350.6 270.4h.6M347.4 269.7h.6M339.9 266.5h.6M347.7 276.2h.6M342.5 261.0h.6M328.7 273.6h.6M337.8 272.1h.6M341.4 258.0h.6M338.1 258.0h.6M345.5 273.8h.6M339.6 278.6h.6M341.9 264.1h.6M358.6 260.6h.6M348.3 279.9h.6M337.2 255.1h.6M360.8 272.2h.6M356.0 279.7h.6M341.3 256.9h.6M338.4 260.1h.6M344.3 257.0h.6M335.5 270.2h.6M341.6 266.9h.6M344.6 260.8h.6M345.0 278.9h.6M356.4 265.7h.6M345.0 264.7h.6M358.1 261.0h.6M346.6 264.1h.6M347.5 278.6h.6M347.7 267.8h.6M340.3 253.3h.6M364.4 261.0h.6M348.1 250.7h.6M349.2 262.6h.6M352.7 269.8h.6M357.4 255.1h.6M332.1 278.8h.6M335.1 276.8h.6M345.5 273.4h.6M348.9 261.9h.6M333.5 267.6h.6M332.0 271.5h.6M351.1 274.5h.6M350.7 276.9h.6M341.6 251.2h.6M341.6 262.0h.6M338.5 258.6h.6M333.6 264.8h.6M336.2 268.9h.6M342.3 266.6h.6M352.6 274.1h.6M332.1 268.2h.6M328.7 267.1h.6M348.9 280.4h.6M335.4 259.0h.6M340.9 272.4h.6M329.9 263.5h.6M346.0 260.4h.6M349.1 264.3h.6M350.7 267.4h.6M346.3 275.8h.6M345.6 265.0h.6M347.9 269.7h.6M344.8 254.9h.6M331.2 262.3h.6M350.9 266.1h.6M344.7 249.5h.6M347.7 268.2h.6M342.4 273.9h.6M341.2 267.8h.6M351.8 268.9h.6M352.0 267.2h.6M345.7 258.3h.6M332.8 267.6h.6M335.3 263.0h.6M334.6 268.0h.6M353.7 267.8h.6M348.3 268.2h.6M344.4 257.3h.6M342.6 266.8h.6M337.3 280.4h.6M351.3 274.3h.6M334.7 265.5h.6M346.4 273.7h.6M342.5 269.1h.6M345.7 276.9h.6M338.4 259.7h.6M339.1 274.3h.6M334.2 259.2h.6M339.4 274.4h.6M342.0 267.1h.6M346.4 271.2h.6M337.0 265.2h.6M331.6 273.4h.6M346.4 275.2h.6M357.3 274.5h.6M344.6 270.2h.6M344.4 259.5h.6M336.4 273.1h.6M345.0 268.0h.6M354.8 275.2h.6M329.4 258.4h.6M350.7 270.0h.6M329.5 264.8h.6M354.2 267.2h.6M349.5 272.6h.6M341.4 272.3h.6M345.7 275.9h.6M355.5 270.2h.6M336.0 270.7h.6M352.2 269.4h.6M348.0 260.7h.6M343.8 273.9h.6M354.2 262.7h.6M332.1 264.5h.6M343.0 270.1h.6M335.3 263.5h.6M343.5 264.8h.6M347.7 252.8h.6M332.4 262.3h.6M345.9 260.8h.6M345.9 263.7h.6M339.7 270.6h.6M343.3 265.7h.6M343.4 254.2h.6M345.8 252.2h.6M354.6 242.4h.6M355.3 245.0h.6M348.9 232.4h.6M342.5 248.1h.6M353.5 250.6h.6M342.1 239.0h.6M343.2 238.9h.6M348.0 240.2h.6M340.3 248.2h.6M334.5 250.1h.6M333.1 237.6h.6M342.1 241.3h.6M347.2 247.0h.6M351.3 245.0h.6M337.7 241.8h.6M347.3 246.9h.6M345.5 238.1h.6M341.0 234.5h.6M369.6 247.5h.6M338.3 248.2h.6M337.4 251.8h.6M346.8 241.8h.6M360.4 238.6h.6M342.1 244.2h.6M358.5 243.3h.6M335.9 244.2h.6M341.9 243.3h.6M343.9 252.0h.6M343.3 245.7h.6M346.3 252.0h.6M344.9 239.4h.6M344.0 237.6h.6M336.5 249.4h.6M350.8 236.3h.6M346.6 236.7h.6M348.5 236.7h.6M357.6 232.3h.6M351.2 246.6h.6M348.7 254.0h.6M360.0 247.2h.6M342.3 248.8h.6M331.6 241.5h.6M341.1 237.7h.6M334.9 246.9h.6M344.2 236.5h.6M344.3 234.1h.6M345.9 238.3h.6M349.2 250.1h.6M352.5 245.8h.6M350.6 242.0h.6M348.0 236.8h.6M343.7 237.6h.6M341.8 245.5h.6M346.3 242.9h.6M343.9 238.6h.6M336.1 250.4h.6M342.4 239.3h.6M352.8 233.3h.6M346.7 241.7h.6M338.4 249.9h.6M348.4 247.6h.6M352.1 249.0h.6M336.1 238.2h.6M361.8 245.9h.6M357.0 244.0h.6M344.8 241.6h.6M356.8 236.0h.6M348.8 250.8h.6M352.3 243.7h.6M338.2 239.7h.6M341.9 247.7h.6M344.3 258.8h.6M345.5 233.7h.6M341.9 244.6h.6M331.6 254.3h.6M336.0 254.4h.6M350.4 236.5h.6M342.6 239.6h.6M368.4 237.0h.6M373.6 239.2h.6M369.6 237.6h.6M370.9 238.9h.6M377.3 235.6h.6M370.5 234.3h.6M369.0 236.3h.6M373.7 234.1h.6M374.2 241.7h.6M374.3 246.3h.6M376.8 240.3h.6M371.9 241.8h.6M373.4 234.7h.6M375.5 237.7h.6M372.7 234.5h.6M377.5 240.2h.6M376.4 238.5h.6M374.0 234.9h.6M373.4 242.6h.6M374.0 238.0h.6M374.7 240.6h.6M368.7 241.0h.6M370.5 242.6h.6M371.8 242.2h.6M371.6 238.2h.6M372.2 237.3h.6M372.2 236.0h.6M374.0 234.7h.6M372.9 243.5h.6M374.6 236.1h.6M374.6 242.4h.6M373.6 235.1h.6M372.6 235.5h.6M371.7 240.8h.6M375.7 237.2h.6M372.5 235.1h.6M374.2 242.7h.6M375.7 233.5h.6M374.1 235.0h.6M369.4 239.7h.6M371.5 242.3h.6M378.7 237.5h.6M369.2 234.8h.6M376.7 244.5h.6M370.5 237.5h.6M373.6 235.4h.6M376.2 237.8h.6M370.7 241.1h.6M376.0 228.5h.6M367.5 234.1h.6M372.9 239.6h.6M371.6 239.1h.6M374.4 237.6h.6M375.3 236.9h.6M376.4 239.3h.6M376.3 240.8h.6M372.2 235.6h.6M370.9 236.1h.6M374.4 239.9h.6M371.8 236.4h.6M367.7 233.3h.6M367.4 236.9h.6M372.0 233.9h.6M372.0 239.4h.6M373.3 240.2h.6M373.6 235.5h.6M368.9 237.1h.6M373.9 238.7h.6M370.0 241.6h.6M374.2 240.8h.6M373.0 238.6h.6M377.2 238.9h.6M374.1 242.1h.6M371.7 240.0h.6M372.4 239.6h.6M373.2 234.6h.6M374.6 238.6h.6M375.1 239.4h.6M370.8 238.3h.6M370.5 234.8h.6M375.1 232.4h.6M373.2 240.0h.6M376.0 240.1h.6M374.5 238.5h.6M377.7 235.3h.6M375.0 236.6h.6M370.1 237.9h.6M372.2 240.5h.6M374.8 238.4h.6M370.5 235.6h.6M373.4 236.5h.6M375.1 234.4h.6M376.3 243.9h.6M375.7 235.9h.6M369.4 242.8h.6M376.5 239.1h.6M371.1 244.0h.6M373.6 234.9h.6M371.3 240.6h.6M375.9 235.4h.6M373.3 235.5h.6M374.1 236.0h.6M374.7 234.1h.6M373.3 235.4h.6M371.9 237.4h.6M377.3 243.4h.6M375.1 236.8h.6M375.6 233.4h.6M369.0 240.2h.6M368.3 242.5h.6M378.0 230.1h.6M375.4 239.6h.6M368.9 233.7h.6M374.6 232.3h.6M373.8 240.2h.6M371.0 242.8h.6M372.4 244.0h.6M378.3 238.3h.6M371.6 237.0h.6M374.8 238.8h.6M371.4 240.1h.6M369.5 241.1h.6M379.9 242.7h.6M375.3 239.7h.6M372.2 240.3h.6M372.5 239.1h.6M372.8 236.0h.6M370.7 239.9h.6M374.6 243.2h.6M375.1 240.9h.6M372.3 231.7h.6M373.3 243.4h.6M370.0 235.8h.6M374.1 245.8h.6M368.2 245.3h.6M373.1 240.7h.6M377.2 244.4h.6M372.7 235.9h.6M380.5 237.8h.6M370.5 236.2h.6M372.8 239.5h.6M373.4 238.6h.6M375.8 239.1h.6M376.6 238.7h.6M373.9 243.1h.6M369.5 238.3h.6M377.2 236.9h.6M375.2 238.6h.6M375.6 239.7h.6M369.3 239.6h.6M374.7 234.8h.6M373.0 236.5h.6M375.9 237.1h.6M377.9 235.0h.6M371.2 232.8h.6M373.1 235.9h.6M373.5 229.4h.6M371.4 236.9h.6M374.8 233.7h.6M374.7 236.7h.6M371.1 237.3h.6M371.2 243.9h.6M374.1 244.2h.6M368.8 245.0h.6M374.2 238.2h.6M375.6 236.3h.6M375.6 240.6h.6M371.0 234.5h.6M378.1 237.6h.6M378.8 235.4h.6M370.5 237.7h.6M378.0 240.3h.6M376.9 234.3h.6M375.9 238.7h.6M371.6 238.4h.6M376.2 238.5h.6M370.8 239.4h.6M373.8 236.5h.6M375.8 237.5h.6M375.0 236.6h.6M360.2 241.7h.6M354.4 233.6h.6M366.0 238.2h.6M364.6 234.1h.6M370.3 233.0h.6M370.2 236.7h.6M372.7 235.6h.6M362.5 231.7h.6M368.3 235.6h.6M358.9 241.0h.6M366.0 233.7h.6M367.2 233.7h.6M361.3 239.2h.6M364.3 236.5h.6M376.4 233.9h.6M360.7 237.2h.6M369.7 234.5h.6M363.0 233.8h.6M369.1 237.0h.6M352.4 233.5h.6M358.5 238.0h.6M363.5 240.2h.6M372.7 234.1h.6M363.9 234.0h.6M358.8 233.9h.6M362.6 235.8h.6M368.4 233.7h.6M357.3 236.1h.6M365.0 238.0h.6M363.8 232.9h.6M362.8 236.5h.6M366.7 239.0h.6M361.1 238.1h.6M367.5 233.4h.6M367.8 239.3h.6M373.1 233.3h.6M366.5 238.6h.6M364.6 231.6h.6M359.6 237.5h.6M362.4 235.0h.6M358.7 234.9h.6M371.5 234.8h.6M353.9 233.2h.6M367.0 237.0h.6M367.2 236.2h.6M368.2 238.0h.6M362.9 233.6h.6M375.6 237.8h.6M363.5 238.5h.6M357.4 233.4h.6M361.9 239.2h.6M361.5 239.9h.6M371.3 232.6h.6M364.8 233.3h.6M360.6 242.5h.6M360.6 236.8h.6M364.3 235.5h.6M362.8 233.4h.6M364.6 237.7h.6M369.9 234.7h.6M358.5 236.9h.6M361.9 236.4h.6M366.3 237.2h.6M358.1 237.7h.6M368.3 235.1h.6M371.9 237.1h.6M366.0 237.5h.6M369.4 235.2h.6M363.9 233.9h.6M365.7 236.6h.6M367.0 240.1h.6M365.5 235.3h.6M371.6 234.6h.6M363.6 236.7h.6M370.2 234.6h.6M363.8 236.1h.6M373.4 235.7h.6M372.5 234.3h.6M367.6 236.8h.6M359.2 233.5h.6M361.6 233.8h.6M352.9 231.2h.6M369.6 233.6h.6M363.3 236.3h.6M361.9 238.8h.6M365.6 243.8h.6M358.4 235.3h.6M363.1 234.4h.6M366.2 240.8h.6M370.0 231.7h.6" stroke="#000" stroke-width=".6" stroke-opacity=".45" fill="none"/>
<path d="M350.1 265.8h.5M351.9 269.7h.5M350.0 262.9h.5M337.1 274.0h.5M339.0 260.2h.5M335.6 268.9h.5M339.5 272.5h.5M344.3 260.8h.5M337.5 269.6h.5M345.5 262.9h.5M335.3 265.7h.5M341.1 266.5h.5M344.2 262.8h.5M341.6 275.0h.5M343.8 275.7h.5M336.2 273.4h.5M341.0 270.4h.5M347.3 266.2h.5M344.8 275.7h.5M348.4 275.4h.5M335.8 265.5h.5M348.0 261.7h.5M341.1 263.7h.5M344.5 263.8h.5M341.0 265.9h.5M346.2 261.7h.5M345.7 259.0h.5M350.1 268.1h.5M346.6 266.5h.5M347.0 260.3h.5M339.5 262.6h.5M346.4 272.8h.5M345.7 276.1h.5M343.1 275.6h.5M336.1 265.3h.5M352.8 270.7h.5M349.8 272.0h.5M350.2 264.8h.5M342.4 265.5h.5M348.6 271.1h.5M341.3 273.9h.5M340.1 272.6h.5M345.1 260.5h.5M341.8 272.0h.5M336.9 263.3h.5M343.0 266.8h.5M338.5 264.4h.5M334.9 270.1h.5M338.5 266.8h.5M344.2 266.6h.5M339.8 275.6h.5M338.3 270.3h.5M347.7 264.4h.5M344.0 267.0h.5M346.6 274.7h.5M343.2 268.1h.5M344.8 270.5h.5M347.6 274.2h.5M347.4 273.5h.5M351.0 264.2h.5M354.5 269.3h.5M348.4 270.0h.5M347.2 266.6h.5M346.8 259.4h.5M345.2 268.5h.5M343.0 261.1h.5M347.5 260.8h.5M350.8 274.2h.5M353.7 270.6h.5M347.7 270.8h.5M349.5 266.8h.5M343.6 261.0h.5M348.1 273.9h.5M351.4 268.5h.5M340.0 262.4h.5M338.8 263.7h.5M336.4 267.3h.5M347.2 269.4h.5M352.4 264.0h.5M336.5 272.7h.5M350.9 264.0h.5M370.7 238.3h.5M376.5 240.2h.5M375.0 240.5h.5M374.9 240.7h.5M372.4 235.9h.5M370.3 239.3h.5M374.2 236.7h.5M371.9 238.7h.5M377.1 235.8h.5M377.0 241.4h.5M372.7 241.6h.5M376.2 239.1h.5M375.1 236.0h.5M373.5 240.8h.5M370.7 239.0h.5M374.9 235.1h.5M375.4 239.8h.5M375.5 240.3h.5M372.7 239.4h.5M373.9 234.0h.5M373.9 239.9h.5M373.9 240.5h.5M372.7 236.8h.5M375.9 240.8h.5M374.9 239.4h.5M373.1 240.5h.5M374.7 234.1h.5M375.7 237.5h.5M374.5 239.3h.5M374.5 234.6h.5M375.4 238.4h.5M372.4 242.2h.5M375.2 234.5h.5M372.6 241.5h.5M374.3 240.3h.5M376.2 236.0h.5M373.0 236.2h.5M376.1 236.0h.5M375.2 238.9h.5M376.5 232.6h.5M371.1 239.7h.5M366.5 234.5h.5M372.2 237.2h.5M377.9 237.0h.5M374.6 239.9h.5M373.5 235.7h.5M374.1 236.1h.5M374.9 240.9h.5M373.7 242.0h.5M378.5 237.9h.5M374.3 237.2h.5M371.5 238.6h.5M371.6 238.2h.5M373.8 238.0h.5M368.2 232.2h.5M366.1 232.3h.5M370.8 234.4h.5M364.3 232.6h.5M365.6 237.4h.5M359.0 236.1h.5M362.8 238.6h.5M364.7 235.8h.5M362.9 234.7h.5M362.3 236.7h.5M368.5 236.7h.5M359.6 233.6h.5M358.9 238.7h.5M359.5 235.8h.5M362.0 237.0h.5M361.2 234.4h.5M363.4 237.4h.5M361.9 239.8h.5M370.5 235.1h.5M361.9 233.6h.5M363.8 235.8h.5M366.4 235.8h.5M372.6 236.8h.5M363.9 232.4h.5M362.6 237.5h.5M368.0 236.1h.5M363.1 234.9h.5" stroke="#fff" stroke-width=".55" stroke-opacity=".45" fill="none"/>
</g>
<rect x="357.3" y="227.3" width="26.2" height="22" fill="none" stroke="#6468ac" stroke-width="0.75"/>
<text x="370.4" y="257.29" font-size="5.8" text-anchor="middle" fill="#3d4278" stroke="#3d4278" stroke-width="0.16">55.5</text>
<rect x="258.8" y="294.5" width="60.5" height="59.8" fill="#fff" stroke="#9a9a9a" stroke-width="0.75"/>
<line x1="258.8" y1="300.5" x2="259.8" y2="300.5" stroke="#999" stroke-width="0.5"/>
<line x1="258.8" y1="308.5" x2="259.8" y2="308.5" stroke="#999" stroke-width="0.5"/>
<line x1="258.8" y1="316.5" x2="259.8" y2="316.5" stroke="#999" stroke-width="0.5"/>
<line x1="258.8" y1="324.5" x2="259.8" y2="324.5" stroke="#999" stroke-width="0.5"/>
<line x1="258.8" y1="332.5" x2="259.8" y2="332.5" stroke="#999" stroke-width="0.5"/>
<line x1="258.8" y1="340.5" x2="259.8" y2="340.5" stroke="#999" stroke-width="0.5"/>
<line x1="258.8" y1="348.5" x2="259.8" y2="348.5" stroke="#999" stroke-width="0.5"/>
<line x1="264.5" y1="354.3" x2="264.5" y2="353.3" stroke="#999" stroke-width="0.5"/>
<line x1="272.5" y1="354.3" x2="272.5" y2="353.3" stroke="#999" stroke-width="0.5"/>
<line x1="280.5" y1="354.3" x2="280.5" y2="353.3" stroke="#999" stroke-width="0.5"/>
<line x1="289.5" y1="354.3" x2="289.5" y2="353.3" stroke="#999" stroke-width="0.5"/>
<line x1="297.5" y1="354.3" x2="297.5" y2="353.3" stroke="#999" stroke-width="0.5"/>
<line x1="305.5" y1="354.3" x2="305.5" y2="353.3" stroke="#999" stroke-width="0.5"/>
<line x1="313.5" y1="354.3" x2="313.5" y2="353.3" stroke="#999" stroke-width="0.5"/>
<g clip-path="url(#cp23)">
<rect x="263.6" y="331.05" width="20.4" height="17.51" rx="5.4" fill="#000" fill-opacity="0.68" filter="url(#fb)"/>
<ellipse cx="275" cy="314" rx="19.8" ry="13.2" fill="url(#bg29)"/>
<ellipse cx="305.6" cy="310.2" rx="4.84" ry="5.06" fill="url(#bg30)"/>
<ellipse cx="300" cy="312" rx="7.7" ry="4.84" fill="url(#bg31)"/>
<path d="M271.8 335.1h.6M266.4 332.0h.6M275.6 341.4h.6M281.8 345.7h.6M266.9 331.3h.6M279.2 333.7h.6M275.8 345.4h.6M276.4 350.6h.6M271.5 330.3h.6M265.5 341.1h.6M267.3 343.1h.6M266.1 349.1h.6M276.8 340.9h.6M267.9 341.3h.6M270.0 349.4h.6M268.4 343.7h.6M261.2 337.0h.6M269.4 331.4h.6M267.6 334.5h.6M273.4 332.0h.6M285.0 340.9h.6M268.2 332.7h.6M263.6 337.4h.6M279.6 333.1h.6M287.3 335.1h.6M285.0 340.6h.6M276.4 335.7h.6M273.5 350.8h.6M266.0 333.1h.6M274.6 332.7h.6M278.5 334.0h.6M283.7 336.5h.6M266.9 333.2h.6M282.7 330.5h.6M262.2 339.9h.6M274.3 343.5h.6M278.3 345.9h.6M265.0 339.9h.6M273.5 329.8h.6M265.6 342.1h.6M269.1 331.0h.6M283.7 348.3h.6M284.7 338.1h.6M268.0 340.6h.6M277.3 334.1h.6M272.5 331.4h.6M275.8 331.1h.6M272.8 340.6h.6M280.4 344.5h.6M264.0 342.2h.6M268.5 347.9h.6M270.1 342.2h.6M282.6 339.4h.6M271.7 344.3h.6M276.3 329.5h.6M278.6 346.8h.6M261.7 332.9h.6M266.4 348.9h.6M274.5 351.6h.6M266.7 344.7h.6M281.1 337.1h.6M271.1 338.6h.6M263.5 338.8h.6M276.3 333.8h.6M267.8 339.7h.6M281.0 345.1h.6M281.1 346.6h.6M272.8 335.7h.6M263.1 341.7h.6M274.1 340.9h.6M276.3 339.4h.6M272.2 350.2h.6M276.2 329.8h.6M270.6 345.9h.6M273.6 331.9h.6M262.5 338.1h.6M283.0 341.6h.6M270.7 328.5h.6M271.7 346.6h.6M263.6 343.6h.6M271.6 331.8h.6M284.6 339.5h.6M266.6 341.9h.6M267.9 330.3h.6M264.3 340.5h.6M267.8 330.9h.6M280.7 349.0h.6M285.0 339.4h.6M280.3 346.9h.6M268.1 331.3h.6M280.9 342.5h.6M278.8 342.4h.6M283.0 331.7h.6M273.8 335.1h.6M275.0 340.5h.6M271.4 350.0h.6M280.2 342.4h.6M279.7 337.6h.6M279.6 332.6h.6M274.6 335.7h.6M271.2 333.0h.6M269.4 332.6h.6M277.2 340.4h.6M281.2 342.2h.6M270.8 347.7h.6M263.4 335.1h.6M278.5 332.3h.6M260.2 344.2h.6M273.9 350.6h.6M268.6 334.8h.6M283.5 337.2h.6M265.1 340.5h.6M263.5 336.2h.6M271.4 347.8h.6M274.0 332.1h.6M277.8 344.3h.6M269.9 333.7h.6M275.7 348.2h.6M271.0 335.0h.6M267.9 339.7h.6M277.2 334.0h.6M264.6 336.3h.6M279.8 336.4h.6M268.3 341.3h.6M277.0 340.1h.6M288.7 337.8h.6M275.2 329.5h.6M279.1 330.5h.6M275.3 337.3h.6M275.6 341.4h.6M278.8 335.4h.6M276.0 340.9h.6M271.9 344.0h.6M281.3 350.0h.6M266.8 340.4h.6M277.9 348.7h.6M276.8 350.0h.6M267.0 336.6h.6M280.0 348.3h.6M264.4 340.7h.6M270.9 333.0h.6M286.4 340.9h.6M278.8 336.0h.6M274.0 334.3h.6M273.9 329.8h.6M272.6 333.5h.6M278.7 338.7h.6M281.1 347.8h.6M281.6 343.6h.6M273.2 331.8h.6M282.4 340.6h.6M267.1 333.7h.6M268.9 335.6h.6M281.4 336.4h.6M279.1 343.0h.6M266.6 348.1h.6M274.3 333.1h.6M268.3 346.5h.6M271.3 347.8h.6M279.3 349.8h.6M283.5 340.9h.6M263.9 338.2h.6M284.1 343.6h.6M262.6 341.7h.6M273.3 335.5h.6M264.8 344.1h.6M269.3 336.7h.6M286.5 336.5h.6M278.1 347.6h.6M267.4 332.9h.6M269.7 333.5h.6M260.2 339.2h.6M272.1 342.1h.6M275.5 342.2h.6M268.0 344.6h.6M267.4 337.9h.6M281.5 338.7h.6M272.9 345.2h.6M279.6 333.7h.6M276.5 329.4h.6M265.7 347.5h.6M261.0 334.1h.6M278.0 340.4h.6M280.9 339.1h.6M261.8 340.3h.6M281.2 349.0h.6M276.8 330.6h.6M282.6 331.9h.6M273.0 332.2h.6M280.6 339.2h.6M273.4 341.8h.6M264.4 337.0h.6M270.7 340.8h.6M267.4 333.3h.6M273.0 343.3h.6M271.2 334.9h.6M267.4 340.9h.6M267.5 344.7h.6M271.6 334.0h.6M272.6 347.2h.6M267.2 350.0h.6M280.6 339.7h.6M265.1 346.0h.6M268.4 347.3h.6M279.5 338.7h.6M281.4 337.1h.6M283.6 335.2h.6M282.0 344.8h.6M276.5 333.2h.6M275.3 344.8h.6M267.6 332.6h.6M277.9 335.4h.6M273.6 330.5h.6M278.5 341.4h.6M262.6 333.3h.6M279.6 349.0h.6M279.3 331.0h.6M275.1 347.3h.6M276.5 348.0h.6M270.0 344.0h.6M266.2 337.6h.6M282.1 334.9h.6M277.2 345.8h.6M278.9 333.0h.6M260.5 346.0h.6M282.1 339.5h.6M268.5 334.6h.6M275.7 348.6h.6M260.7 339.2h.6M273.5 335.5h.6M277.4 334.3h.6M261.0 342.1h.6M269.3 343.5h.6M273.2 333.7h.6M285.1 347.0h.6M272.1 334.8h.6M267.8 343.7h.6M272.8 337.4h.6M281.5 343.8h.6M273.8 342.6h.6M272.7 343.6h.6M270.1 348.8h.6M284.3 337.9h.6M280.8 331.9h.6M278.7 342.4h.6M272.1 339.0h.6M287.0 336.2h.6M278.7 329.3h.6M281.2 341.8h.6M273.5 335.0h.6M275.5 332.2h.6M282.2 334.7h.6M266.6 336.3h.6M270.5 341.0h.6M275.7 343.4h.6M269.5 337.3h.6M272.2 346.8h.6M270.9 349.9h.6M269.8 339.1h.6M283.2 343.8h.6M268.9 340.1h.6M273.7 348.1h.6M261.2 342.4h.6M275.3 343.0h.6M273.5 328.6h.6M281.2 332.5h.6M270.5 332.4h.6M279.8 335.8h.6M276.6 337.7h.6M263.0 334.0h.6M273.9 329.2h.6M276.0 342.1h.6M265.5 337.2h.6M279.3 338.8h.6M273.4 328.9h.6M279.6 338.8h.6M271.1 345.4h.6M279.9 346.8h.6M280.9 342.3h.6M278.0 340.3h.6M268.4 336.8h.6M271.4 332.8h.6M275.7 342.9h.6M284.7 336.9h.6M272.4 345.9h.6M280.4 337.4h.6M269.0 337.9h.6M281.8 334.1h.6M269.8 341.7h.6M288.9 343.5h.6M275.4 346.7h.6M274.0 343.9h.6M285.0 340.1h.6M276.2 339.9h.6M274.3 336.8h.6M273.8 348.8h.6M269.2 339.7h.6M269.0 336.9h.6M276.8 329.1h.6M266.6 338.1h.6M272.4 345.7h.6M293.9 319.4h.6M272.6 330.7h.6M271.2 332.2h.6M281.8 332.9h.6M265.1 339.6h.6M286.2 336.3h.6M273.8 340.3h.6M263.4 341.4h.6M272.5 349.6h.6M267.6 337.4h.6M280.0 341.9h.6M269.7 337.6h.6M280.2 340.6h.6M269.9 330.6h.6M278.9 342.4h.6M278.3 347.7h.6M274.3 332.2h.6M280.5 339.2h.6M280.7 339.1h.6M273.8 323.2h.6M281.8 350.5h.6M275.3 348.4h.6M259.7 332.9h.6M267.9 320.7h.6M279.9 338.9h.6M274.4 340.0h.6M279.6 337.3h.6M282.7 336.0h.6M278.6 346.9h.6M265.3 345.3h.6M281.2 339.2h.6M261.7 335.5h.6M269.7 345.7h.6M288.5 329.4h.6M294.6 327.6h.6M271.9 318.3h.6M270.0 337.4h.6M278.0 338.0h.6M267.0 339.4h.6M262.5 341.2h.6M260.8 345.8h.6M272.1 325.8h.6M271.2 329.9h.6M271.9 346.2h.6M267.6 341.5h.6M285.8 331.7h.6M280.3 350.9h.6M267.8 340.3h.6M260.9 337.7h.6M264.0 332.7h.6M279.2 340.9h.6M277.5 340.7h.6M275.5 338.6h.6M283.7 351.9h.6M268.1 348.6h.6M285.8 339.5h.6M274.5 335.1h.6M266.3 336.2h.6M277.6 342.2h.6M275.9 318.4h.6M266.8 342.0h.6M289.1 338.0h.6M275.4 343.1h.6M276.7 338.4h.6M266.7 340.1h.6M273.6 334.9h.6M284.9 334.5h.6M263.2 339.3h.6M263.5 324.5h.6M270.1 339.8h.6M277.7 327.0h.6M283.2 334.3h.6M278.4 334.2h.6M263.2 345.2h.6M283.2 351.8h.6M279.6 350.7h.6M282.4 336.1h.6M267.0 341.1h.6M269.0 348.5h.6M272.8 345.1h.6M263.1 339.8h.6M276.7 346.8h.6M262.2 339.5h.6M273.0 344.4h.6M279.5 342.5h.6M275.2 341.4h.6M287.0 332.0h.6M275.5 342.0h.6M279.1 328.8h.6M280.0 343.0h.6M273.1 353.3h.6M261.0 348.8h.6M270.2 342.4h.6M270.8 337.8h.6M264.9 345.9h.6M278.6 332.1h.6M267.9 330.8h.6M272.4 343.0h.6M263.5 329.9h.6M277.2 344.6h.6M272.5 339.2h.6M274.7 343.3h.6M273.2 330.8h.6M286.0 341.5h.6M270.2 352.8h.6M267.9 351.2h.6M279.9 327.9h.6M269.6 339.4h.6M276.0 337.4h.6M283.8 346.9h.6M276.5 344.7h.6M280.6 344.1h.6M289.9 333.0h.6M276.0 348.5h.6M272.7 347.8h.6M280.6 349.4h.6M277.5 340.0h.6M277.3 327.4h.6M271.2 342.8h.6M272.3 337.6h.6M263.5 339.5h.6M287.9 342.9h.6M277.6 335.7h.6M270.7 338.9h.6M271.0 333.9h.6M272.6 335.1h.6M273.2 333.0h.6M279.7 342.2h.6M276.8 347.8h.6M270.3 334.0h.6M272.2 330.1h.6M278.4 338.6h.6M266.9 342.4h.6M271.0 341.5h.6M281.0 332.6h.6M274.0 339.9h.6M284.5 334.6h.6M265.8 337.2h.6M270.8 339.0h.6M268.2 337.2h.6M267.8 342.7h.6M279.7 336.7h.6M281.9 349.2h.6M274.9 340.5h.6M273.4 332.8h.6M287.2 345.9h.6M286.0 345.1h.6M273.8 339.8h.6M259.7 341.9h.6M263.2 345.1h.6M269.6 339.1h.6M266.0 344.9h.6M278.7 336.3h.6M271.3 342.9h.6M272.7 333.7h.6M273.7 342.0h.6M287.0 343.4h.6M276.6 336.5h.6M281.0 342.1h.6M278.2 328.4h.6M283.2 339.2h.6M274.7 338.2h.6M273.9 343.7h.6M283.7 339.6h.6M275.6 346.1h.6M262.8 351.6h.6M265.2 340.5h.6M271.2 345.3h.6M278.0 350.2h.6M268.8 345.8h.6M285.2 346.7h.6M277.4 338.7h.6M272.5 342.4h.6M265.5 333.8h.6M283.9 306.0h.6M279.6 304.7h.6M279.6 320.3h.6M285.5 312.4h.6M290.5 314.5h.6M289.2 299.5h.6M280.2 318.9h.6M288.7 313.6h.6M276.2 302.4h.6M269.5 317.5h.6M275.4 318.1h.6M268.9 319.7h.6M292.9 313.6h.6M278.2 308.7h.6M267.5 323.3h.6M270.4 312.2h.6M282.6 322.5h.6M275.0 317.8h.6M286.3 312.9h.6M274.3 322.8h.6M274.4 310.2h.6M276.5 316.8h.6M287.6 315.4h.6M268.9 313.7h.6M272.4 315.7h.6M270.1 319.1h.6M270.9 312.1h.6M263.4 311.3h.6M272.3 313.3h.6M279.5 311.0h.6M288.9 308.2h.6M279.7 316.2h.6M269.6 303.3h.6M289.2 313.8h.6M279.9 315.2h.6M263.5 317.1h.6M273.9 315.7h.6M262.2 314.0h.6M260.4 322.5h.6M269.8 310.7h.6M292.3 306.4h.6M278.5 312.5h.6M283.8 318.6h.6M271.9 325.6h.6M275.3 327.5h.6M267.8 316.6h.6M269.5 321.7h.6M272.0 324.7h.6M284.3 311.3h.6M278.3 323.9h.6M268.1 317.2h.6M273.5 313.6h.6M266.8 317.9h.6M280.4 318.6h.6M277.8 301.6h.6M277.7 314.9h.6M282.1 315.8h.6M280.7 309.9h.6M289.4 315.5h.6M268.2 311.8h.6M282.5 309.1h.6M273.7 313.5h.6M284.4 301.5h.6M270.6 316.9h.6M271.4 316.2h.6M269.4 317.7h.6M265.1 311.4h.6M271.9 310.5h.6M286.5 302.9h.6M272.3 303.0h.6M282.0 309.3h.6M288.7 320.0h.6M285.4 313.9h.6M280.0 322.6h.6M284.4 319.0h.6M271.4 307.5h.6M304.2 307.8h.6M303.1 315.1h.6M302.2 308.9h.6M306.2 314.1h.6M307.2 313.5h.6M303.5 310.8h.6M308.1 314.1h.6M307.7 308.8h.6M304.3 308.0h.6M306.4 309.0h.6M303.4 309.3h.6M305.7 311.4h.6M306.9 315.1h.6M301.3 308.1h.6M309.1 309.5h.6M301.7 310.1h.6M305.9 310.9h.6M304.5 309.4h.6M307.8 313.6h.6M303.6 309.2h.6M304.5 307.8h.6M313.1 314.4h.6M309.7 313.7h.6M307.8 310.2h.6M304.0 308.0h.6M306.5 310.6h.6M301.8 312.0h.6M303.8 314.1h.6M306.7 314.4h.6M307.6 309.5h.6M304.9 310.5h.6M307.4 309.8h.6M307.7 310.4h.6M303.4 309.1h.6M306.3 309.4h.6M305.6 309.9h.6M309.1 310.6h.6M302.7 305.7h.6M306.7 309.3h.6M305.3 312.1h.6M310.5 311.4h.6M300.2 312.0h.6M309.7 312.2h.6M305.2 311.6h.6M306.9 312.9h.6M302.1 310.4h.6M302.5 307.2h.6M305.0 313.4h.6M305.8 311.2h.6M299.8 306.0h.6M304.1 312.4h.6M304.5 312.3h.6M305.2 307.0h.6M307.2 311.4h.6M306.4 310.2h.6M305.0 311.2h.6M302.7 308.8h.6M301.7 314.5h.6M305.8 307.9h.6M309.1 307.6h.6M305.6 309.1h.6M307.8 310.1h.6M302.9 308.8h.6M307.8 313.9h.6M305.1 307.7h.6M305.9 316.0h.6M307.2 306.6h.6M307.5 311.3h.6M306.3 314.6h.6M306.6 316.1h.6M306.4 309.7h.6M303.9 306.5h.6M304.9 308.5h.6M305.7 309.0h.6M309.5 311.9h.6M302.8 307.9h.6M305.9 312.7h.6M308.0 308.0h.6M307.3 312.3h.6M303.4 316.7h.6M302.6 312.2h.6M304.4 313.3h.6M306.4 310.9h.6M307.6 309.6h.6M305.1 311.7h.6M305.9 311.9h.6M304.7 303.2h.6M303.7 308.4h.6M308.5 315.7h.6M309.8 311.9h.6M305.3 310.9h.6M303.7 309.4h.6M307.2 309.5h.6M302.1 310.0h.6M302.5 302.3h.6M306.0 314.7h.6M310.0 311.4h.6M304.7 308.4h.6M305.8 313.7h.6M309.3 310.0h.6M302.8 313.9h.6M301.9 308.8h.6M310.8 312.4h.6M308.1 306.2h.6M304.7 312.5h.6M306.9 306.6h.6M307.8 310.4h.6M305.0 311.4h.6M311.7 306.3h.6M301.7 310.7h.6M309.5 309.2h.6M306.6 310.6h.6M306.1 312.8h.6M306.3 310.4h.6M304.1 313.5h.6M305.2 308.3h.6M304.5 307.9h.6M302.2 312.7h.6M307.1 307.7h.6M302.5 311.3h.6M294.2 312.3h.6M302.0 316.7h.6M300.7 309.2h.6M302.1 309.8h.6M302.9 306.6h.6M296.9 307.5h.6M299.3 312.6h.6M299.1 312.3h.6M304.3 310.8h.6M299.6 312.8h.6M296.8 310.8h.6M301.4 309.8h.6M298.4 311.0h.6M303.3 309.1h.6M305.3 306.4h.6M303.8 311.3h.6M297.1 313.0h.6M303.5 314.8h.6M296.7 313.5h.6M298.7 311.3h.6M303.7 310.0h.6M300.9 311.7h.6M307.1 312.8h.6M303.2 311.8h.6M300.8 310.8h.6M304.4 312.9h.6M300.4 306.4h.6M305.1 313.6h.6M291.6 316.1h.6M299.7 309.0h.6M296.5 313.5h.6M299.5 311.1h.6M297.8 310.2h.6M307.4 313.6h.6M302.2 313.5h.6M299.6 311.6h.6M303.4 316.3h.6M290.5 313.3h.6M305.2 307.7h.6M292.1 315.8h.6" stroke="#000" stroke-width=".6" stroke-opacity=".45" fill="none"/>
<path d="M271.5 348.0h.5M279.2 344.8h.5M272.9 342.6h.5M282.8 340.6h.5M264.3 343.6h.5M278.9 335.6h.5M281.0 340.2h.5M265.3 335.5h.5M274.7 331.4h.5M269.1 337.4h.5M264.7 337.5h.5M278.7 340.2h.5M277.9 333.3h.5M264.3 336.1h.5M266.9 335.8h.5M268.0 342.6h.5M282.9 336.1h.5M280.4 346.2h.5M269.1 348.2h.5M268.8 340.8h.5M276.5 335.5h.5M273.7 340.3h.5M276.9 348.2h.5M273.9 346.8h.5M269.2 333.3h.5M274.5 331.0h.5M270.1 341.8h.5M270.6 339.1h.5M273.9 345.5h.5M275.6 338.4h.5M277.5 338.4h.5M270.1 337.3h.5M273.7 339.7h.5M277.2 344.6h.5M263.8 338.6h.5M282.9 337.5h.5M280.7 339.8h.5M269.3 333.8h.5M265.5 343.0h.5M273.7 342.3h.5M280.0 345.0h.5M268.7 345.4h.5M282.8 335.8h.5M267.5 345.6h.5M265.0 342.5h.5M274.0 332.5h.5M278.4 341.5h.5M267.9 333.3h.5M270.5 333.0h.5M278.9 346.9h.5M278.6 343.7h.5M281.0 346.3h.5M283.2 342.9h.5M273.2 347.8h.5M268.1 340.4h.5M271.7 343.3h.5M267.5 345.1h.5M269.5 344.3h.5M274.3 332.7h.5M279.7 337.1h.5M283.9 342.8h.5M273.7 346.1h.5M268.1 345.7h.5M269.3 337.5h.5M268.8 345.7h.5M274.9 338.2h.5M282.3 344.4h.5M272.0 335.2h.5M269.2 340.8h.5M269.3 347.3h.5M267.9 336.1h.5M276.0 332.0h.5M267.5 335.6h.5M277.0 336.3h.5M269.5 340.1h.5M275.2 335.1h.5M266.5 345.0h.5M268.7 347.1h.5M269.8 337.9h.5M274.0 337.8h.5M274.8 348.0h.5M278.3 336.4h.5M278.0 334.8h.5M265.8 336.2h.5M281.0 343.2h.5M272.4 334.9h.5M273.1 342.7h.5M272.2 334.2h.5M266.5 334.4h.5M281.5 342.3h.5M279.7 346.5h.5M278.2 332.3h.5M266.8 339.5h.5M264.5 338.7h.5M275.7 331.5h.5M279.4 345.6h.5M270.5 336.6h.5M264.1 341.7h.5M278.7 333.3h.5M280.2 345.6h.5M273.0 335.7h.5M269.0 335.6h.5M277.6 331.5h.5M271.0 331.0h.5M264.4 341.6h.5M273.4 344.4h.5M279.8 345.5h.5M281.5 334.3h.5M277.8 347.1h.5M271.8 334.9h.5M272.4 343.6h.5M278.3 332.8h.5M269.9 342.9h.5M268.7 335.7h.5M271.9 338.9h.5M277.9 343.8h.5M269.3 331.4h.5M276.4 341.3h.5M272.0 332.1h.5M276.6 341.3h.5M279.4 345.3h.5M269.4 343.8h.5M279.2 334.1h.5M267.2 344.3h.5M267.7 338.9h.5M276.9 334.5h.5M270.7 348.2h.5M271.3 337.1h.5M304.2 312.9h.5M305.6 312.8h.5M306.4 311.2h.5M304.4 310.2h.5M304.5 308.0h.5M303.1 310.3h.5M307.1 310.8h.5M304.1 309.4h.5M304.0 309.0h.5M305.5 308.0h.5M305.0 311.0h.5M304.2 310.0h.5M306.2 311.9h.5M305.8 309.0h.5M304.4 309.1h.5M304.7 312.3h.5M307.8 310.4h.5M305.7 307.4h.5M304.6 308.8h.5M305.4 308.3h.5M306.5 309.8h.5M308.9 306.7h.5M303.5 311.4h.5M306.3 311.4h.5M304.6 310.0h.5M306.1 310.0h.5M304.6 310.0h.5M304.3 309.3h.5M304.2 312.2h.5M304.7 308.4h.5M306.1 314.5h.5M308.9 308.2h.5M303.8 310.7h.5M304.1 308.4h.5M304.8 308.8h.5M308.2 309.9h.5" stroke="#fff" stroke-width=".55" stroke-opacity=".45" fill="none"/>
</g>
<rect x="287.3" y="300.8" width="25.9" height="21.2" fill="none" stroke="#6468ac" stroke-width="0.75"/>
<text x="300.25" y="329.79" font-size="5.8" text-anchor="middle" fill="#3d4278" stroke="#3d4278" stroke-width="0.16">23.4</text>
<rect x="328.4" y="295.4" width="59.9" height="58.9" fill="#fff" stroke="#9a9a9a" stroke-width="0.75"/>
<line x1="328.4" y1="301.5" x2="329.4" y2="301.5" stroke="#999" stroke-width="0.5"/>
<line x1="328.4" y1="309.5" x2="329.4" y2="309.5" stroke="#999" stroke-width="0.5"/>
<line x1="328.4" y1="317.5" x2="329.4" y2="317.5" stroke="#999" stroke-width="0.5"/>
<line x1="328.4" y1="324.5" x2="329.4" y2="324.5" stroke="#999" stroke-width="0.5"/>
<line x1="328.4" y1="332.5" x2="329.4" y2="332.5" stroke="#999" stroke-width="0.5"/>
<line x1="328.4" y1="340.5" x2="329.4" y2="340.5" stroke="#999" stroke-width="0.5"/>
<line x1="328.4" y1="348.5" x2="329.4" y2="348.5" stroke="#999" stroke-width="0.5"/>
<line x1="334.5" y1="354.3" x2="334.5" y2="353.3" stroke="#999" stroke-width="0.5"/>
<line x1="342.5" y1="354.3" x2="342.5" y2="353.3" stroke="#999" stroke-width="0.5"/>
<line x1="350.5" y1="354.3" x2="350.5" y2="353.3" stroke="#999" stroke-width="0.5"/>
<line x1="358.5" y1="354.3" x2="358.5" y2="353.3" stroke="#999" stroke-width="0.5"/>
<line x1="366.5" y1="354.3" x2="366.5" y2="353.3" stroke="#999" stroke-width="0.5"/>
<line x1="374.5" y1="354.3" x2="374.5" y2="353.3" stroke="#999" stroke-width="0.5"/>
<line x1="382.5" y1="354.3" x2="382.5" y2="353.3" stroke="#999" stroke-width="0.5"/>
<g clip-path="url(#cp24)">
<rect x="332.65" y="331.73" width="18.7" height="16.15" rx="4.95" fill="#000" fill-opacity="0.43" filter="url(#fb)"/>
<ellipse cx="345" cy="316" rx="19.8" ry="13.2" fill="url(#bg33)"/>
<ellipse cx="374.2" cy="312.3" rx="4.84" ry="7.48" fill="url(#bg34)"/>
<ellipse cx="362" cy="306.8" rx="5.5" ry="3.3" fill="url(#bg35)"/>
<ellipse cx="368" cy="309.5" rx="7.7" ry="5.5" fill="url(#bg36)"/>
<path d="M337.0 347.6h.6M335.8 343.4h.6M332.9 335.8h.6M334.8 339.5h.6M336.2 337.7h.6M338.3 338.3h.6M345.5 336.8h.6M346.7 342.3h.6M341.7 334.3h.6M345.5 333.4h.6M340.6 334.8h.6M336.3 342.9h.6M343.6 339.3h.6M352.5 341.6h.6M342.5 338.6h.6M340.7 339.0h.6M353.4 342.4h.6M335.4 349.8h.6M337.1 343.9h.6M346.5 347.5h.6M339.6 337.2h.6M332.7 343.0h.6M339.5 330.0h.6M334.2 346.8h.6M348.8 341.9h.6M339.9 331.5h.6M340.9 330.6h.6M352.3 344.9h.6M338.2 340.5h.6M331.0 342.5h.6M347.5 337.0h.6M334.4 335.2h.6M340.8 342.7h.6M348.1 334.9h.6M337.7 347.3h.6M340.0 328.4h.6M343.2 342.4h.6M343.2 344.3h.6M349.0 347.6h.6M346.9 331.0h.6M344.0 344.3h.6M340.6 352.7h.6M345.1 348.5h.6M346.0 329.8h.6M329.8 339.7h.6M344.7 348.6h.6M349.8 335.3h.6M343.6 336.6h.6M340.8 342.4h.6M337.4 346.7h.6M349.2 344.5h.6M346.9 342.7h.6M341.5 337.7h.6M345.0 334.9h.6M338.7 332.8h.6M341.9 345.1h.6M346.9 334.0h.6M342.4 348.0h.6M341.9 343.2h.6M336.7 332.4h.6M342.3 349.9h.6M344.8 330.1h.6M337.3 347.8h.6M347.3 333.5h.6M345.4 335.9h.6M332.5 334.6h.6M352.6 330.8h.6M339.0 336.5h.6M335.4 348.5h.6M340.6 345.6h.6M344.5 328.9h.6M348.2 346.4h.6M341.6 336.7h.6M334.8 337.9h.6M353.9 342.2h.6M344.6 349.2h.6M330.9 340.0h.6M343.4 350.1h.6M339.6 334.9h.6M341.1 331.5h.6M346.7 339.1h.6M348.7 335.3h.6M337.1 335.7h.6M339.2 335.7h.6M339.7 332.0h.6M349.9 345.7h.6M348.9 343.3h.6M345.8 337.0h.6M346.9 332.2h.6M333.3 342.4h.6M343.2 346.8h.6M351.0 344.7h.6M342.9 331.4h.6M340.6 342.9h.6M332.2 332.5h.6M337.0 342.8h.6M332.7 343.0h.6M334.2 343.0h.6M339.1 348.4h.6M339.3 337.7h.6M330.3 338.2h.6M350.2 348.8h.6M342.1 335.0h.6M347.2 330.1h.6M340.7 339.5h.6M341.3 337.7h.6M338.6 332.5h.6M334.2 334.9h.6M341.3 342.6h.6M339.6 341.4h.6M338.0 344.4h.6M335.6 345.7h.6M332.3 343.6h.6M339.7 343.4h.6M349.5 343.1h.6M341.6 341.8h.6M335.8 331.6h.6M338.2 343.3h.6M342.1 337.0h.6M346.2 336.7h.6M338.6 342.6h.6M332.7 345.2h.6M342.5 344.8h.6M349.5 346.0h.6M336.1 338.3h.6M345.1 336.8h.6M343.6 332.7h.6M334.1 343.3h.6M332.6 341.2h.6M332.3 342.1h.6M332.6 337.5h.6M349.9 340.8h.6M332.9 335.5h.6M342.4 343.7h.6M344.4 342.9h.6M346.7 342.2h.6M348.9 339.1h.6M348.9 332.5h.6M334.2 332.6h.6M351.4 341.1h.6M339.8 341.7h.6M339.1 336.7h.6M346.6 343.3h.6M338.6 337.7h.6M342.4 341.4h.6M352.5 336.0h.6M337.4 346.6h.6M349.7 346.1h.6M352.5 341.6h.6M345.1 345.3h.6M339.5 331.9h.6M346.5 345.6h.6M335.4 342.6h.6M335.6 348.6h.6M344.3 338.8h.6M352.3 333.3h.6M334.4 346.0h.6M336.4 346.0h.6M330.2 337.8h.6M350.2 336.0h.6M344.9 337.6h.6M345.2 343.7h.6M346.9 333.3h.6M343.0 331.4h.6M340.0 337.9h.6M340.1 333.1h.6M331.6 339.4h.6M338.5 333.7h.6M334.2 335.7h.6M329.9 332.0h.6M341.4 328.0h.6M338.4 335.4h.6M345.0 348.9h.6M333.7 343.9h.6M342.8 335.6h.6M337.9 346.6h.6M332.0 347.9h.6M338.7 342.2h.6M352.7 343.5h.6M333.7 341.2h.6M349.8 335.7h.6M338.2 344.3h.6M335.0 339.6h.6M339.7 347.1h.6M345.2 344.4h.6M355.5 329.1h.6M345.3 349.2h.6M341.2 342.1h.6M336.4 351.1h.6M341.4 336.5h.6M342.4 340.8h.6M335.4 337.5h.6M338.4 340.8h.6M345.1 336.0h.6M338.9 335.8h.6M345.9 348.6h.6M335.3 332.9h.6M344.8 338.4h.6M346.5 347.3h.6M345.0 352.0h.6M343.0 346.5h.6M341.1 339.0h.6M337.4 341.0h.6M337.6 347.0h.6M343.7 340.5h.6M330.7 328.6h.6M355.9 341.2h.6M331.6 338.5h.6M341.6 321.3h.6M353.0 339.5h.6M356.9 336.6h.6M348.5 343.0h.6M343.8 341.1h.6M331.7 349.5h.6M346.4 349.1h.6M340.7 337.2h.6M331.8 330.9h.6M340.6 340.3h.6M351.6 350.6h.6M348.4 340.3h.6M346.9 341.2h.6M350.6 343.7h.6M348.0 339.3h.6M346.5 339.0h.6M341.7 339.3h.6M344.9 339.7h.6M340.2 331.7h.6M338.6 352.1h.6M336.9 333.2h.6M356.8 347.3h.6M348.4 334.4h.6M350.2 347.4h.6M343.7 341.5h.6M345.5 343.9h.6M338.8 343.9h.6M350.9 335.1h.6M358.6 335.8h.6M337.0 330.6h.6M336.4 333.6h.6M332.8 345.7h.6M337.6 337.1h.6M338.2 344.4h.6M333.3 334.6h.6M344.6 332.8h.6M353.2 334.4h.6M348.1 339.6h.6M333.6 341.0h.6M334.1 346.5h.6M342.5 341.1h.6M355.3 332.5h.6M351.7 331.8h.6M349.8 345.9h.6M333.6 338.4h.6M341.8 343.4h.6M348.1 334.6h.6M345.6 329.8h.6M345.2 342.7h.6M341.2 339.5h.6M339.7 329.7h.6M342.2 343.3h.6M344.3 349.5h.6M342.3 339.1h.6M351.8 341.1h.6M343.4 329.3h.6M342.6 339.7h.6M349.5 338.3h.6M331.0 334.5h.6M356.1 343.7h.6M357.0 336.6h.6M333.9 334.3h.6M333.7 342.1h.6M338.9 347.8h.6M338.9 341.9h.6M342.1 339.6h.6M341.8 341.8h.6M341.4 333.5h.6M356.0 333.0h.6M337.7 351.8h.6M335.9 338.5h.6M349.4 339.2h.6M351.6 338.8h.6M338.1 334.5h.6M344.9 344.2h.6M341.4 324.7h.6M331.6 341.9h.6M339.3 336.4h.6M345.2 341.6h.6M333.2 345.0h.6M334.9 340.9h.6M341.3 332.5h.6M357.5 343.3h.6M351.6 340.6h.6M342.8 350.1h.6M343.8 335.1h.6M350.7 351.1h.6M339.4 336.3h.6M345.6 334.8h.6M337.3 324.1h.6M344.6 337.4h.6M349.3 343.9h.6M335.6 337.4h.6M347.6 338.5h.6M348.4 345.2h.6M340.0 345.7h.6M338.3 322.8h.6M354.2 324.3h.6M355.2 315.6h.6M371.5 318.2h.6M337.6 316.6h.6M346.8 313.5h.6M334.5 322.1h.6M335.0 309.3h.6M345.6 323.1h.6M347.5 313.9h.6M343.3 311.1h.6M349.8 321.8h.6M350.0 320.2h.6M341.7 316.1h.6M356.6 314.0h.6M361.1 315.7h.6M346.5 324.5h.6M358.7 314.4h.6M349.6 309.6h.6M343.3 322.4h.6M342.8 306.7h.6M366.1 316.6h.6M336.3 323.4h.6M333.8 317.0h.6M357.1 325.0h.6M345.9 332.1h.6M329.9 310.4h.6M333.3 310.0h.6M342.2 312.4h.6M332.3 312.8h.6M342.9 307.0h.6M341.9 325.1h.6M347.2 323.1h.6M331.5 325.7h.6M343.2 317.2h.6M347.4 315.0h.6M330.2 310.9h.6M330.2 323.5h.6M357.1 321.2h.6M341.4 319.6h.6M331.9 316.9h.6M354.8 310.3h.6M342.1 324.9h.6M339.8 314.8h.6M346.9 316.6h.6M357.0 317.4h.6M332.4 317.2h.6M347.6 326.9h.6M355.7 319.3h.6M343.4 320.6h.6M351.2 315.6h.6M345.2 311.4h.6M342.6 314.4h.6M332.9 311.6h.6M349.8 313.5h.6M343.1 320.8h.6M334.7 319.9h.6M349.7 326.5h.6M350.1 323.7h.6M341.4 319.2h.6M350.5 318.6h.6M345.4 318.7h.6M344.0 316.6h.6M371.6 313.0h.6M345.9 320.7h.6M340.3 328.9h.6M350.4 323.3h.6M354.8 310.5h.6M346.1 305.4h.6M330.6 323.0h.6M347.4 317.7h.6M341.2 302.6h.6M340.4 303.0h.6M357.1 312.7h.6M356.3 309.7h.6M351.5 317.6h.6M361.1 323.0h.6M371.4 308.7h.6M374.2 309.7h.6M377.6 309.1h.6M375.5 313.0h.6M373.5 312.9h.6M371.2 309.1h.6M377.4 311.0h.6M372.8 311.5h.6M376.5 314.0h.6M378.6 307.6h.6M372.5 311.8h.6M378.6 309.3h.6M375.0 316.1h.6M372.7 316.0h.6M381.1 310.8h.6M374.4 313.3h.6M377.2 309.6h.6M370.5 313.0h.6M375.1 317.5h.6M373.1 315.4h.6M371.7 316.5h.6M371.2 312.3h.6M375.2 305.2h.6M372.3 310.6h.6M376.0 310.9h.6M375.3 315.0h.6M372.2 306.5h.6M371.2 306.1h.6M375.2 309.2h.6M372.1 311.2h.6M375.4 306.5h.6M372.1 308.9h.6M377.2 314.1h.6M374.0 316.5h.6M370.9 311.2h.6M373.8 314.2h.6M372.9 320.2h.6M376.0 308.9h.6M375.2 317.2h.6M373.5 314.4h.6M376.0 307.1h.6M376.3 312.8h.6M370.4 315.2h.6M372.0 310.4h.6M378.4 312.4h.6M377.0 319.4h.6M372.4 313.7h.6M373.7 309.0h.6M376.3 316.2h.6M369.5 315.4h.6M373.5 319.8h.6M370.4 309.0h.6M373.3 310.8h.6M376.7 315.2h.6M381.6 318.2h.6M375.6 303.1h.6M378.1 313.2h.6M372.4 308.6h.6M374.5 305.9h.6M375.8 311.1h.6M368.9 308.4h.6M372.7 312.4h.6M376.5 311.6h.6M375.0 315.6h.6M372.0 314.9h.6M375.6 312.4h.6M372.7 313.8h.6M375.2 315.5h.6M371.0 312.2h.6M373.1 319.3h.6M375.2 310.8h.6M377.1 308.2h.6M379.0 313.7h.6M371.0 313.7h.6M377.4 315.4h.6M376.3 310.5h.6M377.9 318.2h.6M374.1 314.5h.6M373.0 314.2h.6M379.9 313.9h.6M374.9 309.9h.6M376.2 314.1h.6M376.9 308.4h.6M372.8 311.9h.6M369.5 313.3h.6M371.7 313.6h.6M369.7 310.5h.6M375.2 316.9h.6M376.4 310.5h.6M378.3 313.5h.6M377.9 312.7h.6M376.6 317.8h.6M372.6 312.0h.6M371.1 311.6h.6M370.8 317.0h.6M376.8 311.5h.6M374.3 317.5h.6M377.0 312.0h.6M376.4 308.2h.6M370.9 314.2h.6M376.2 313.4h.6M371.0 312.1h.6M375.5 312.9h.6M381.5 304.7h.6M370.9 317.1h.6M375.4 314.1h.6M378.7 315.1h.6M370.4 310.2h.6M372.0 315.0h.6M372.0 320.2h.6M374.6 306.4h.6M375.9 318.2h.6M373.4 306.7h.6M375.0 312.3h.6M371.2 309.8h.6M371.7 306.5h.6M369.9 316.4h.6M375.6 311.5h.6M378.2 310.1h.6M373.4 307.6h.6M373.4 312.9h.6M375.4 313.9h.6M375.7 314.0h.6M375.5 308.8h.6M376.2 309.8h.6M370.2 312.1h.6M377.9 310.2h.6M374.4 313.8h.6M374.0 313.1h.6M374.4 309.1h.6M377.8 305.8h.6M372.6 313.6h.6M376.0 308.3h.6M373.3 312.2h.6M371.7 310.8h.6M374.7 307.4h.6M376.4 315.7h.6M377.7 309.9h.6M374.9 315.2h.6M373.7 316.4h.6M375.4 311.9h.6M373.9 314.5h.6M373.0 312.0h.6M375.8 308.3h.6M375.4 310.7h.6M374.9 314.7h.6M378.0 317.7h.6M374.2 310.0h.6M373.7 305.5h.6M373.7 306.0h.6M371.4 314.8h.6M374.4 314.8h.6M369.4 311.7h.6M375.0 309.9h.6M375.3 313.1h.6M372.0 316.3h.6M370.6 313.0h.6M373.2 314.1h.6M379.9 308.9h.6M374.5 310.4h.6M374.8 313.7h.6M375.0 309.7h.6M371.0 316.0h.6M373.9 312.7h.6M375.1 319.0h.6M372.9 307.5h.6M376.9 306.5h.6M373.0 311.0h.6M373.8 313.2h.6M376.6 314.7h.6M372.8 313.7h.6M373.4 314.5h.6M373.4 315.2h.6M374.3 308.4h.6M375.1 315.9h.6M371.4 315.2h.6M376.0 313.5h.6M373.7 311.1h.6M379.1 311.6h.6M378.6 312.0h.6M360.5 308.9h.6M356.6 308.7h.6M361.7 307.2h.6M360.4 305.1h.6M360.7 305.8h.6M364.3 306.0h.6M366.0 304.6h.6M358.0 307.9h.6M363.3 310.8h.6M359.8 305.9h.6M361.3 306.3h.6M361.2 306.1h.6M361.3 307.2h.6M362.7 307.8h.6M362.3 308.3h.6M363.1 307.0h.6M357.0 307.1h.6M357.0 307.9h.6M359.7 309.7h.6M362.9 308.1h.6M363.0 308.7h.6M363.4 304.2h.6M356.4 307.3h.6M361.0 306.2h.6M365.0 306.8h.6M361.9 307.9h.6M363.4 308.1h.6M363.3 305.2h.6M361.2 307.7h.6M358.7 306.0h.6M363.4 308.3h.6M359.9 307.0h.6M363.6 308.9h.6M363.5 307.7h.6M359.9 306.6h.6M364.0 307.0h.6M363.1 305.4h.6M361.5 304.1h.6M360.8 306.7h.6M360.1 307.7h.6M364.3 306.7h.6M363.1 308.3h.6M360.0 306.4h.6M363.3 309.0h.6M358.8 307.8h.6M359.3 307.1h.6M360.2 307.7h.6M363.2 305.5h.6M357.5 306.1h.6M355.8 308.9h.6M356.4 305.0h.6M364.5 306.9h.6M365.2 308.4h.6M361.7 306.4h.6M362.1 308.1h.6M363.7 307.5h.6M355.9 308.0h.6M359.0 309.8h.6M359.9 306.4h.6M362.2 308.5h.6M357.4 310.0h.6M366.8 309.5h.6M358.8 309.7h.6M359.2 306.5h.6M358.1 307.5h.6M362.7 305.5h.6M361.5 308.3h.6M365.4 305.4h.6M359.0 306.7h.6M363.1 309.2h.6M365.1 307.3h.6M371.1 310.3h.6M370.0 311.6h.6M367.4 309.1h.6M376.0 309.3h.6M368.1 310.4h.6M366.5 308.7h.6M362.5 311.1h.6M363.7 312.8h.6M365.7 309.4h.6M368.5 312.2h.6M373.6 309.0h.6M369.9 311.3h.6M366.0 307.8h.6M365.3 305.7h.6M367.3 305.0h.6M369.7 310.8h.6M369.2 307.3h.6M375.5 310.3h.6M368.9 312.3h.6M364.3 308.3h.6M366.1 305.5h.6M369.8 312.9h.6M367.8 314.8h.6M364.8 308.0h.6M373.5 308.7h.6M362.9 308.4h.6M366.9 310.9h.6M368.5 310.1h.6M371.1 308.7h.6M370.2 316.1h.6M368.8 311.1h.6M372.1 313.0h.6M372.0 311.8h.6M359.5 314.0h.6M365.8 309.3h.6M371.5 309.2h.6M365.0 311.6h.6M364.0 309.3h.6M368.3 306.7h.6M368.0 311.4h.6M370.5 310.6h.6M372.0 313.2h.6M365.9 309.6h.6M365.2 309.0h.6M366.1 312.7h.6M374.1 312.5h.6M364.7 312.1h.6M368.8 314.5h.6M370.2 306.1h.6" stroke="#000" stroke-width=".6" stroke-opacity=".45" fill="none"/>
<path d="M336.2 337.8h.5M336.3 339.0h.5M338.6 334.4h.5M334.8 341.9h.5M349.4 340.6h.5M345.3 340.5h.5M344.9 332.6h.5M338.6 333.1h.5M342.9 339.6h.5M345.2 344.0h.5M337.8 347.2h.5M335.9 342.4h.5M344.1 338.9h.5M334.4 336.7h.5M338.4 341.4h.5M338.1 343.2h.5M348.5 345.9h.5M340.6 341.6h.5M348.5 338.5h.5M349.9 337.9h.5M340.6 331.7h.5M345.0 337.3h.5M347.1 335.0h.5M334.7 339.8h.5M334.2 335.0h.5M345.5 336.5h.5M345.2 332.6h.5M343.8 333.9h.5M337.4 342.8h.5M349.9 336.5h.5M335.4 342.8h.5M344.1 344.0h.5M342.5 348.1h.5M345.3 344.2h.5M349.6 344.8h.5M344.9 340.5h.5M335.0 335.0h.5M339.9 344.3h.5M343.2 347.2h.5M343.7 339.4h.5M338.5 343.0h.5M333.7 337.2h.5M334.2 341.7h.5M342.4 332.4h.5M338.0 347.2h.5M338.9 340.9h.5M337.4 347.1h.5M341.5 337.7h.5M350.1 336.2h.5M342.8 336.0h.5M345.8 347.6h.5M335.5 340.0h.5M351.7 339.9h.5M340.8 342.2h.5M346.3 342.4h.5M344.7 339.3h.5M341.4 347.2h.5M333.5 336.4h.5M336.5 337.6h.5M340.6 343.7h.5M341.3 346.0h.5M348.7 342.7h.5M339.8 337.9h.5M342.6 342.2h.5M343.3 335.2h.5M337.4 333.1h.5M336.5 346.6h.5M351.5 339.0h.5M348.0 333.8h.5M344.4 341.6h.5M349.1 345.5h.5M339.4 338.4h.5M332.4 340.4h.5M335.4 334.9h.5M339.6 334.7h.5M349.5 336.8h.5M341.7 336.2h.5M342.0 346.7h.5M351.1 339.9h.5M347.7 334.5h.5M334.9 336.1h.5M375.0 314.9h.5M372.8 312.8h.5M374.4 310.2h.5M373.7 314.8h.5M375.3 314.1h.5M374.7 317.4h.5M375.5 312.7h.5M373.7 312.8h.5M373.5 313.7h.5M376.4 315.0h.5M371.7 312.5h.5M376.2 310.3h.5M376.2 311.6h.5M371.7 317.6h.5M375.6 312.1h.5M373.9 318.8h.5M376.2 307.3h.5M373.2 311.7h.5M371.3 313.1h.5M373.1 308.8h.5M375.6 311.9h.5M374.4 312.5h.5M372.6 313.7h.5M373.0 312.2h.5M374.0 316.2h.5M373.9 310.6h.5M373.8 309.6h.5M374.4 314.2h.5M374.3 314.7h.5M374.9 313.1h.5M375.5 310.5h.5M376.5 307.6h.5M372.1 313.3h.5M374.4 313.3h.5M373.3 316.4h.5M373.2 308.1h.5M375.3 312.0h.5M372.2 319.4h.5M373.6 313.9h.5M373.7 309.5h.5M376.2 315.7h.5M373.6 309.4h.5M374.1 312.7h.5M373.2 314.3h.5M373.3 309.8h.5M373.1 307.9h.5M374.1 309.7h.5M371.0 315.5h.5M372.9 313.3h.5M374.3 312.8h.5M374.1 308.8h.5M374.3 315.0h.5M373.5 312.4h.5M372.5 310.6h.5M362.4 306.9h.5M360.2 306.2h.5M359.5 307.0h.5M359.9 308.1h.5M362.6 306.5h.5M361.8 306.7h.5M361.6 304.9h.5M362.8 307.5h.5M362.7 306.1h.5M359.2 304.8h.5M363.9 304.8h.5M361.1 305.7h.5M365.7 305.1h.5M363.4 308.5h.5M360.7 308.3h.5M362.6 306.8h.5M364.4 307.7h.5M361.3 307.1h.5M363.4 306.0h.5M361.3 307.7h.5M362.1 307.2h.5" stroke="#fff" stroke-width=".55" stroke-opacity=".45" fill="none"/>
</g>
<rect x="357.3" y="300.8" width="25.6" height="21.4" fill="none" stroke="#6468ac" stroke-width="0.75"/>
<text x="370.1" y="330.99" font-size="5.8" text-anchor="middle" fill="#3d4278" stroke="#3d4278" stroke-width="0.16">63.6</text>
<text x="244.6" y="16.6" font-size="11" font-weight="bold" fill="#000" stroke="#000" stroke-width="0.16">D</text>
<text x="323.7" y="20.07" font-size="6.3" text-anchor="middle" textLength="38" lengthAdjust="spacingAndGlyphs" stroke="#1e1e1e" stroke-width="0.16">Experiment 1</text>
<text x="289.7" y="30" font-size="6.4" text-anchor="middle" textLength="10.2" lengthAdjust="spacingAndGlyphs" stroke="#1e1e1e" stroke-width="0.16">+/+</text>
<text x="359.25" y="30" font-size="6.4" text-anchor="middle" textLength="18.2" lengthAdjust="spacingAndGlyphs" stroke="#1e1e1e" stroke-width="0.16">P95H/+</text>
<line x1="256.9" y1="33.5" x2="322.5" y2="33.5" stroke="#1e1e1e" stroke-width="1.1"/>
<line x1="256.5" y1="32.1" x2="256.5" y2="35.5" stroke="#1e1e1e" stroke-width="1"/>
<line x1="322.5" y1="32.1" x2="322.5" y2="35.5" stroke="#1e1e1e" stroke-width="1"/>
<line x1="326.2" y1="33.5" x2="392.3" y2="33.5" stroke="#1e1e1e" stroke-width="1.1"/>
<line x1="326.5" y1="32.1" x2="326.5" y2="35.5" stroke="#1e1e1e" stroke-width="1"/>
<line x1="392.5" y1="32.1" x2="392.5" y2="35.5" stroke="#1e1e1e" stroke-width="1"/>
<text x="244" y="204.5" font-size="11" font-weight="bold" fill="#000" stroke="#000" stroke-width="0.16">E</text>
<text x="324.4" y="205.47" font-size="6.3" text-anchor="middle" textLength="38" lengthAdjust="spacingAndGlyphs" stroke="#1e1e1e" stroke-width="0.16">Experiment 2</text>
<text x="288.45" y="215.4" font-size="6.4" text-anchor="middle" textLength="10.2" lengthAdjust="spacingAndGlyphs" stroke="#1e1e1e" stroke-width="0.16">+/+</text>
<text x="358.1" y="215.4" font-size="6.4" text-anchor="middle" textLength="18.2" lengthAdjust="spacingAndGlyphs" stroke="#1e1e1e" stroke-width="0.16">P95H/+</text>
<line x1="255.2" y1="219.5" x2="321.7" y2="219.5" stroke="#1e1e1e" stroke-width="1.1"/>
<line x1="255.5" y1="217.5" x2="255.5" y2="220.9" stroke="#1e1e1e" stroke-width="1"/>
<line x1="321.5" y1="217.5" x2="321.5" y2="220.9" stroke="#1e1e1e" stroke-width="1"/>
<line x1="324.4" y1="219.5" x2="391.8" y2="219.5" stroke="#1e1e1e" stroke-width="1.1"/>
<line x1="324.5" y1="217.5" x2="324.5" y2="220.9" stroke="#1e1e1e" stroke-width="1"/>
<line x1="391.5" y1="217.5" x2="391.5" y2="220.9" stroke="#1e1e1e" stroke-width="1"/>
<text transform="translate(254.2,157.8) rotate(-90)" x="0" y="2.02" font-size="5.6" text-anchor="middle" textLength="15" lengthAdjust="spacingAndGlyphs" stroke="#1e1e1e" stroke-width="0.16">CD11b</text>
<line x1="254.5" y1="147.6" x2="254.5" y2="140.5" stroke="#161616" stroke-width="1.5"/>
<polygon points="254.5,137.3 256.9,140.5 252.1,140.5" fill="#161616"/>
<text x="260.5" y="179.42" font-size="5.6" textLength="9.2" lengthAdjust="spacingAndGlyphs" stroke="#1e1e1e" stroke-width="0.16">Gr-1</text>
<line x1="273" y1="177.5" x2="280.3" y2="177.5" stroke="#161616" stroke-width="1.3"/>
<polygon points="283.5,177.4 280.3,179.8 280.3,175" fill="#161616"/>
<text transform="translate(253.7,343) rotate(-90)" x="0" y="2.02" font-size="5.6" text-anchor="middle" textLength="13" lengthAdjust="spacingAndGlyphs" stroke="#1e1e1e" stroke-width="0.16">CD11b</text>
<line x1="254.5" y1="331.8" x2="254.5" y2="324.8" stroke="#161616" stroke-width="1.5"/>
<polygon points="254,321.6 256.4,324.8 251.6,324.8" fill="#161616"/>
<text x="260.1" y="364.02" font-size="5.6" textLength="9.2" lengthAdjust="spacingAndGlyphs" stroke="#1e1e1e" stroke-width="0.16">Gr-1</text>
<line x1="272.6" y1="362.5" x2="279.9" y2="362.5" stroke="#161616" stroke-width="1.3"/>
<polygon points="283.1,362 279.9,364.4 279.9,359.6" fill="#161616"/>
<line x1="431.5" y1="36" x2="431.5" y2="148.1" stroke="#111111" stroke-width="1.1"/>
<line x1="428.8" y1="147.5" x2="431.8" y2="147.5" stroke="#111111" stroke-width="1.1"/>
<text transform="translate(425.8,149.94) scale(0.84,1)" font-size="6.5" text-anchor="end" stroke="#1e1e1e" stroke-width="0.16">0</text>
<line x1="428.8" y1="125.5" x2="431.8" y2="125.5" stroke="#111111" stroke-width="1.1"/>
<text transform="translate(425.8,128.12) scale(0.84,1)" font-size="6.5" text-anchor="end" stroke="#1e1e1e" stroke-width="0.16">20</text>
<line x1="428.8" y1="103.5" x2="431.8" y2="103.5" stroke="#111111" stroke-width="1.1"/>
<text transform="translate(425.8,106.3) scale(0.84,1)" font-size="6.5" text-anchor="end" stroke="#1e1e1e" stroke-width="0.16">40</text>
<line x1="428.8" y1="82.5" x2="431.8" y2="82.5" stroke="#111111" stroke-width="1.1"/>
<text transform="translate(425.8,84.48) scale(0.84,1)" font-size="6.5" text-anchor="end" stroke="#1e1e1e" stroke-width="0.16">60</text>
<line x1="428.8" y1="60.5" x2="431.8" y2="60.5" stroke="#111111" stroke-width="1.1"/>
<text transform="translate(425.8,62.66) scale(0.84,1)" font-size="6.5" text-anchor="end" stroke="#1e1e1e" stroke-width="0.16">80</text>
<line x1="428.8" y1="38.5" x2="431.8" y2="38.5" stroke="#111111" stroke-width="1.1"/>
<text transform="translate(425.8,40.84) scale(0.84,1)" font-size="6.5" text-anchor="end" stroke="#1e1e1e" stroke-width="0.16">100</text>
<line x1="431.8" y1="147.5" x2="503.9" y2="147.5" stroke="#111111" stroke-width="1.3"/>
<rect x="433.3" y="136.14" width="8.6" height="11.46" fill="#c6c6ca"/>
<line x1="437.5" y1="136.14" x2="437.5" y2="131.78" stroke="#2e2e2e" stroke-width="1.2"/>
<line x1="435.6" y1="131.5" x2="439.6" y2="131.5" stroke="#2e2e2e" stroke-width="1.2"/>
<rect x="444.6" y="100.14" width="9.4" height="47.46" fill="#5b9ad6"/>
<line x1="449.5" y1="100.14" x2="449.5" y2="91.96" stroke="#2e2e2e" stroke-width="1.2"/>
<line x1="447.3" y1="91.5" x2="451.3" y2="91.5" stroke="#2e2e2e" stroke-width="1.2"/>
<rect x="457.1" y="69.05" width="9" height="78.55" fill="#c6c6ca"/>
<line x1="461.5" y1="69.05" x2="461.5" y2="64.14" stroke="#2e2e2e" stroke-width="1.2"/>
<line x1="459.6" y1="64.5" x2="463.6" y2="64.5" stroke="#2e2e2e" stroke-width="1.2"/>
<rect x="468.9" y="115.96" width="8.8" height="31.64" fill="#5b9ad6"/>
<line x1="473.5" y1="115.96" x2="473.5" y2="105.05" stroke="#2e2e2e" stroke-width="1.2"/>
<line x1="471.3" y1="105.5" x2="475.3" y2="105.5" stroke="#2e2e2e" stroke-width="1.2"/>
<rect x="481.5" y="147.38" width="8.6" height="0.22" fill="#c6c6ca"/>
<rect x="492.8" y="147.38" width="8.6" height="0.22" fill="#5b9ad6"/>
<line x1="431.5" y1="147.6" x2="431.5" y2="164.6" stroke="#111111" stroke-width="1.2"/>
<line x1="454.5" y1="147.6" x2="454.5" y2="164.6" stroke="#111111" stroke-width="1.2"/>
<line x1="479.5" y1="147.6" x2="479.5" y2="164.6" stroke="#111111" stroke-width="1.2"/>
<line x1="503.5" y1="147.6" x2="503.5" y2="164.6" stroke="#111111" stroke-width="1.2"/>
<text x="443.35" y="159.46" font-size="6" text-anchor="middle" stroke="#1e1e1e" stroke-width="0.16">Gr1+</text>
<text x="467.25" y="159.46" font-size="6" text-anchor="middle" stroke="#1e1e1e" stroke-width="0.16">B220+</text>
<text x="491.75" y="155.46" font-size="6" text-anchor="middle" stroke="#1e1e1e" stroke-width="0.16">CD4+</text>
<text x="491.75" y="163.56" font-size="6" text-anchor="middle" stroke="#1e1e1e" stroke-width="0.16">CD8+</text>
<text x="467.85" y="173.88" font-size="8" text-anchor="middle" textLength="22" lengthAdjust="spacingAndGlyphs" stroke="#1e1e1e" stroke-width="0.16">Lineage</text>
<rect x="434.4" y="39.4" width="3" height="3" fill="#c6c6ca"/>
<text x="441" y="42.59" font-size="4.7" stroke="#1e1e1e" stroke-width="0.16">+/+</text>
<rect x="434.4" y="46.4" width="3" height="3" fill="#5b9ad6"/>
<text x="441" y="49.59" font-size="4.7" textLength="16.9" lengthAdjust="spacingAndGlyphs" stroke="#1e1e1e" stroke-width="0.16">P95H/+</text>
<text transform="translate(407,92) rotate(-90)" x="0" y="2.59" font-size="7.2" text-anchor="middle" textLength="89" lengthAdjust="spacingAndGlyphs" stroke="#1e1e1e" stroke-width="0.16">% of CD45.2 derived cells (PB)</text>
<text x="443.6" y="90.76" font-size="6" text-anchor="middle" stroke="#1e1e1e" stroke-width="0.16">**</text>
<text x="467.8" y="61.46" font-size="6" text-anchor="middle" stroke="#1e1e1e" stroke-width="0.16">**</text>
<line x1="429.5" y1="219" x2="429.5" y2="330.8" stroke="#111111" stroke-width="1.1"/>
<line x1="426.8" y1="330.5" x2="429.8" y2="330.5" stroke="#111111" stroke-width="1.1"/>
<text transform="translate(423.8,332.64) scale(0.84,1)" font-size="6.5" text-anchor="end" stroke="#1e1e1e" stroke-width="0.16">0</text>
<line x1="426.8" y1="308.5" x2="429.8" y2="308.5" stroke="#111111" stroke-width="1.1"/>
<text transform="translate(423.8,311.04) scale(0.84,1)" font-size="6.5" text-anchor="end" stroke="#1e1e1e" stroke-width="0.16">20</text>
<line x1="426.8" y1="287.5" x2="429.8" y2="287.5" stroke="#111111" stroke-width="1.1"/>
<text transform="translate(423.8,289.44) scale(0.84,1)" font-size="6.5" text-anchor="end" stroke="#1e1e1e" stroke-width="0.16">40</text>
<line x1="426.8" y1="265.5" x2="429.8" y2="265.5" stroke="#111111" stroke-width="1.1"/>
<text transform="translate(423.8,267.84) scale(0.84,1)" font-size="6.5" text-anchor="end" stroke="#1e1e1e" stroke-width="0.16">60</text>
<line x1="426.8" y1="243.5" x2="429.8" y2="243.5" stroke="#111111" stroke-width="1.1"/>
<text transform="translate(423.8,246.24) scale(0.84,1)" font-size="6.5" text-anchor="end" stroke="#1e1e1e" stroke-width="0.16">80</text>
<line x1="426.8" y1="222.5" x2="429.8" y2="222.5" stroke="#111111" stroke-width="1.1"/>
<text transform="translate(423.8,224.64) scale(0.84,1)" font-size="6.5" text-anchor="end" stroke="#1e1e1e" stroke-width="0.16">100</text>
<line x1="429.8" y1="330.5" x2="502.5" y2="330.5" stroke="#111111" stroke-width="1.3"/>
<rect x="431.7" y="301.14" width="9.4" height="29.16" fill="#c6c6ca"/>
<line x1="436.5" y1="301.14" x2="436.5" y2="296.28" stroke="#2e2e2e" stroke-width="1.2"/>
<line x1="434.4" y1="296.5" x2="438.4" y2="296.5" stroke="#2e2e2e" stroke-width="1.2"/>
<rect x="443.3" y="262.8" width="9.4" height="67.5" fill="#5b9ad6"/>
<line x1="448.5" y1="262.8" x2="448.5" y2="255.78" stroke="#2e2e2e" stroke-width="1.2"/>
<line x1="446" y1="255.5" x2="450" y2="255.5" stroke="#2e2e2e" stroke-width="1.2"/>
<rect x="455.9" y="263.88" width="9.2" height="66.42" fill="#c6c6ca"/>
<line x1="460.5" y1="263.88" x2="460.5" y2="259.02" stroke="#2e2e2e" stroke-width="1.2"/>
<line x1="458.5" y1="259.5" x2="462.5" y2="259.5" stroke="#2e2e2e" stroke-width="1.2"/>
<rect x="466.7" y="302.22" width="9.4" height="28.08" fill="#5b9ad6"/>
<line x1="471.5" y1="302.22" x2="471.5" y2="294.66" stroke="#2e2e2e" stroke-width="1.2"/>
<line x1="469.4" y1="294.5" x2="473.4" y2="294.5" stroke="#2e2e2e" stroke-width="1.2"/>
<rect x="480.2" y="327.06" width="8" height="3.24" fill="#c6c6ca"/>
<line x1="484.5" y1="327.06" x2="484.5" y2="326.41" stroke="#2e2e2e" stroke-width="1.2"/>
<line x1="482.2" y1="326.5" x2="486.2" y2="326.5" stroke="#2e2e2e" stroke-width="1.2"/>
<rect x="491.2" y="329.76" width="8.6" height="0.54" fill="#5b9ad6"/>
<line x1="429.5" y1="330.3" x2="429.5" y2="347.5" stroke="#111111" stroke-width="1.2"/>
<line x1="453.5" y1="330.3" x2="453.5" y2="347.5" stroke="#111111" stroke-width="1.2"/>
<line x1="478.5" y1="330.3" x2="478.5" y2="347.5" stroke="#111111" stroke-width="1.2"/>
<line x1="502.5" y1="330.3" x2="502.5" y2="347.5" stroke="#111111" stroke-width="1.2"/>
<text x="441.65" y="342.36" font-size="6" text-anchor="middle" stroke="#1e1e1e" stroke-width="0.16">Gr1+</text>
<text x="465.9" y="342.36" font-size="6" text-anchor="middle" stroke="#1e1e1e" stroke-width="0.16">B220+</text>
<text x="490.4" y="338.36" font-size="6" text-anchor="middle" stroke="#1e1e1e" stroke-width="0.16">CD4+</text>
<text x="490.4" y="346.46" font-size="6" text-anchor="middle" stroke="#1e1e1e" stroke-width="0.16">CD8+</text>
<text x="466.15" y="355.88" font-size="8" text-anchor="middle" textLength="22" lengthAdjust="spacingAndGlyphs" stroke="#1e1e1e" stroke-width="0.16">Lineage</text>
<rect x="432.4" y="220.3" width="3" height="3" fill="#c6c6ca"/>
<text x="439" y="223.49" font-size="4.7" stroke="#1e1e1e" stroke-width="0.16">+/+</text>
<rect x="432.4" y="227.3" width="3" height="3" fill="#5b9ad6"/>
<text x="439" y="230.49" font-size="4.7" textLength="16.9" lengthAdjust="spacingAndGlyphs" stroke="#1e1e1e" stroke-width="0.16">P95H/+</text>
<text transform="translate(405.6,272.5) rotate(-90)" x="0" y="2.59" font-size="7.2" text-anchor="middle" textLength="89" lengthAdjust="spacingAndGlyphs" stroke="#1e1e1e" stroke-width="0.16">% of CD45.2 derived cells (PB)</text>
<text x="439.2" y="250.76" font-size="6" text-anchor="middle" stroke="#1e1e1e" stroke-width="0.16">**</text>
<text x="466.7" y="250.76" font-size="6" text-anchor="middle" stroke="#1e1e1e" stroke-width="0.16">**</text>
<text x="10" y="408.3" font-size="11" font-weight="bold" fill="#000" stroke="#000" stroke-width="0.16">F</text>
<g transform="translate(40.5,436) scale(0.34,0.34)"><path d="M10,47 C-10,49 -30,45 -42,38" fill="none" stroke="#222" stroke-width="3.82" stroke-linecap="round"/><path d="M8,50 C2,40 8,20 24,11 C36,4 54,2 64,8 C70,11 74,14 78,18 C84,22 92,30 98,38 C100,41 99,44 96,45 C92,47 88,48 84,48 C82,51 78,53 72,53 L68,51 C58,53 40,54 24,54 C18,55 12,54 8,50 Z" fill="#3f3f41" stroke="#161616" stroke-width="2.35"/><ellipse cx="70" cy="14" rx="9" ry="10.5" fill="#464648" stroke="#161616" stroke-width="2.65"/><circle cx="86" cy="29" r="2.4" fill="#0c0c0c"/></g>
<text x="45.4" y="464.4" font-size="6.3" text-anchor="middle" textLength="68.4" lengthAdjust="spacingAndGlyphs" stroke="#1e1e1e" stroke-width="0.16">hScl-CreER<tspan font-size="3.5" dy="-2.4">T Tg/+</tspan><tspan dy="2.4"> </tspan><tspan font-style="italic">Srsf2</tspan><tspan font-size="3.5" dy="-2.4">+/+</tspan></text>
<text x="45.9" y="472.5" font-size="6.3" text-anchor="middle" textLength="76" lengthAdjust="spacingAndGlyphs" stroke="#1e1e1e" stroke-width="0.16">hScl-CreER<tspan font-size="3.5" dy="-2.4">T Tg/+</tspan><tspan dy="2.4"> </tspan><tspan font-style="italic">Srsf2</tspan><tspan font-size="3.5" dy="-2.4">P95H/+</tspan></text>
<text x="45.8" y="480.07" font-size="6.3" text-anchor="middle" textLength="69.2" lengthAdjust="spacingAndGlyphs" stroke="#1e1e1e" stroke-width="0.16">(8-9 weeks old; CD45.2)</text>
<rect x="88.2" y="455.1" width="15.4" height="5.2" fill="#c5d8ee" stroke="#6f8fb5" stroke-width="0.6"/>
<text x="95.9" y="458.78" font-size="3" text-anchor="middle" fill="#2a3550" stroke="#2a3550" stroke-width="0.16">Tamox</text>
<line x1="88" y1="465.5" x2="142.7" y2="465.5" stroke="#1e1e1e" stroke-width="1.1"/>
<line x1="88.5" y1="463" x2="88.5" y2="467.4" stroke="#1e1e1e" stroke-width="1.1"/>
<line x1="103.5" y1="463" x2="103.5" y2="467.4" stroke="#1e1e1e" stroke-width="1.1"/>
<line x1="142.5" y1="463" x2="142.5" y2="467.4" stroke="#1e1e1e" stroke-width="1.1"/>
<text x="88.6" y="476.37" font-size="6.3" text-anchor="middle" stroke="#1e1e1e" stroke-width="0.16">0</text>
<text x="103.8" y="476.37" font-size="6.3" text-anchor="middle" stroke="#1e1e1e" stroke-width="0.16">4</text>
<text x="142.7" y="476.37" font-size="6.3" text-anchor="middle" textLength="19.3" lengthAdjust="spacingAndGlyphs" stroke="#1e1e1e" stroke-width="0.16">20 wks</text>
<text x="140" y="433.07" font-size="6.3" text-anchor="middle" textLength="29" lengthAdjust="spacingAndGlyphs" stroke="#1e1e1e" stroke-width="0.16">mixed BM</text>
<text x="139.1" y="440.17" font-size="6.3" text-anchor="middle" textLength="21.6" lengthAdjust="spacingAndGlyphs" stroke="#1e1e1e" stroke-width="0.16">eYFP-ve</text>
<text x="139.1" y="446.87" font-size="6.3" text-anchor="middle" textLength="24" lengthAdjust="spacingAndGlyphs" stroke="#1e1e1e" stroke-width="0.16">eYFP+ve</text>
<g transform="translate(143.9,458.4) rotate(47.25)"><line x1="-7.49" y1="0" x2="7.49" y2="0" stroke="#161616" stroke-width="3.5"/><circle cx="-7.49" cy="-1.2" r="2.4" fill="#161616"/><circle cx="-7.49" cy="1.2" r="2.4" fill="#161616"/><circle cx="7.49" cy="-1.2" r="2.4" fill="#161616"/><circle cx="7.49" cy="1.2" r="2.4" fill="#161616"/><line x1="-7.49" y1="0" x2="7.49" y2="0" stroke="#fff" stroke-width="1.7"/><circle cx="-7.49" cy="-1.2" r="1.5" fill="#fff"/><circle cx="-7.49" cy="1.2" r="1.5" fill="#fff"/><circle cx="7.49" cy="-1.2" r="1.5" fill="#fff"/><circle cx="7.49" cy="1.2" r="1.5" fill="#fff"/></g>
<line x1="151" y1="454.5" x2="156.58" y2="448.99" stroke="#161616" stroke-width="1.3"/>
<polygon points="159,446.6 157.89,450.32 155.27,447.66" fill="#161616"/>
<g transform="translate(173,431.8) scale(0.33,0.32)"><path d="M10,47 C-10,49 -30,45 -42,38" fill="none" stroke="#222" stroke-width="3.94" stroke-linecap="round"/><path d="M8,50 C2,40 8,20 24,11 C36,4 54,2 64,8 C70,11 74,14 78,18 C84,22 92,30 98,38 C100,41 99,44 96,45 C92,47 88,48 84,48 C82,51 78,53 72,53 L68,51 C58,53 40,54 24,54 C18,55 12,54 8,50 Z" fill="#3f3f41" stroke="#161616" stroke-width="2.42"/><ellipse cx="70" cy="14" rx="9" ry="10.5" fill="#464648" stroke="#161616" stroke-width="2.73"/><circle cx="86" cy="29" r="2.4" fill="#0c0c0c"/></g>
<text x="184" y="458.57" font-size="6.3" text-anchor="middle" textLength="48.1" lengthAdjust="spacingAndGlyphs" stroke="#1e1e1e" stroke-width="0.16">CD45.1 recipient</text>
<text x="184" y="466.07" font-size="6.3" text-anchor="middle" textLength="13.1" lengthAdjust="spacingAndGlyphs" stroke="#1e1e1e" stroke-width="0.16">BMT</text>
<text x="216.3" y="400.6" font-size="11" font-weight="bold" fill="#000" stroke="#000" stroke-width="0.16">G</text>
<line x1="243.5" y1="412" x2="243.5" y2="480" stroke="#111111" stroke-width="1.1"/>
<line x1="240.6" y1="479.5" x2="243.6" y2="479.5" stroke="#111111" stroke-width="1.1"/>
<text transform="translate(237.6,481.84) scale(0.84,1)" font-size="6.5" text-anchor="end" stroke="#1e1e1e" stroke-width="0.16">0</text>
<line x1="240.6" y1="463.5" x2="243.6" y2="463.5" stroke="#111111" stroke-width="1.1"/>
<text transform="translate(237.6,465.46) scale(0.84,1)" font-size="6.5" text-anchor="end" stroke="#1e1e1e" stroke-width="0.16">5</text>
<line x1="240.6" y1="446.5" x2="243.6" y2="446.5" stroke="#111111" stroke-width="1.1"/>
<text transform="translate(237.6,449.09) scale(0.84,1)" font-size="6.5" text-anchor="end" stroke="#1e1e1e" stroke-width="0.16">10</text>
<line x1="240.6" y1="430.5" x2="243.6" y2="430.5" stroke="#111111" stroke-width="1.1"/>
<text transform="translate(237.6,432.71) scale(0.84,1)" font-size="6.5" text-anchor="end" stroke="#1e1e1e" stroke-width="0.16">15</text>
<line x1="240.6" y1="414.5" x2="243.6" y2="414.5" stroke="#111111" stroke-width="1.1"/>
<text transform="translate(237.6,416.34) scale(0.84,1)" font-size="6.5" text-anchor="end" stroke="#1e1e1e" stroke-width="0.16">20</text>
<line x1="334.5" y1="412" x2="334.5" y2="480" stroke="#111111" stroke-width="1.1"/>
<line x1="334.2" y1="479.5" x2="337.2" y2="479.5" stroke="#111111" stroke-width="1.1"/>
<text transform="translate(339.6,481.84) scale(0.84,1)" font-size="6.5" stroke="#1e1e1e" stroke-width="0.16">40</text>
<line x1="334.2" y1="463.5" x2="337.2" y2="463.5" stroke="#111111" stroke-width="1.1"/>
<text transform="translate(339.6,465.46) scale(0.84,1)" font-size="6.5" stroke="#1e1e1e" stroke-width="0.16">45</text>
<line x1="334.2" y1="446.5" x2="337.2" y2="446.5" stroke="#111111" stroke-width="1.1"/>
<text transform="translate(339.6,449.09) scale(0.84,1)" font-size="6.5" stroke="#1e1e1e" stroke-width="0.16">50</text>
<line x1="334.2" y1="430.5" x2="337.2" y2="430.5" stroke="#111111" stroke-width="1.1"/>
<text transform="translate(339.6,432.71) scale(0.84,1)" font-size="6.5" stroke="#1e1e1e" stroke-width="0.16">55</text>
<line x1="334.2" y1="414.5" x2="337.2" y2="414.5" stroke="#111111" stroke-width="1.1"/>
<text transform="translate(339.6,416.34) scale(0.84,1)" font-size="6.5" stroke="#1e1e1e" stroke-width="0.16">60</text>
<line x1="243.6" y1="479.5" x2="287" y2="479.5" stroke="#111111" stroke-width="1.3"/>
<line x1="290.7" y1="479.5" x2="334.2" y2="479.5" stroke="#111111" stroke-width="1.3"/>
<line x1="247.5" y1="479.5" x2="247.5" y2="482.7" stroke="#111111" stroke-width="1.1"/>
<text transform="translate(247.2,490.43) scale(0.84,1)" font-size="6.2" text-anchor="middle" stroke="#1e1e1e" stroke-width="0.16">4</text>
<line x1="254.5" y1="479.5" x2="254.5" y2="482.7" stroke="#111111" stroke-width="1.1"/>
<text transform="translate(254.4,494.03) scale(0.84,1)" font-size="6.2" text-anchor="middle" stroke="#1e1e1e" stroke-width="0.16">12</text>
<line x1="261.5" y1="479.5" x2="261.5" y2="482.7" stroke="#111111" stroke-width="1.1"/>
<text transform="translate(261.9,490.43) scale(0.84,1)" font-size="6.2" text-anchor="middle" stroke="#1e1e1e" stroke-width="0.16">20</text>
<line x1="268.5" y1="479.5" x2="268.5" y2="482.7" stroke="#111111" stroke-width="1.1"/>
<text transform="translate(268.8,494.03) scale(0.84,1)" font-size="6.2" text-anchor="middle" stroke="#1e1e1e" stroke-width="0.16">30</text>
<line x1="276.5" y1="479.5" x2="276.5" y2="482.7" stroke="#111111" stroke-width="1.1"/>
<text transform="translate(276.3,490.43) scale(0.84,1)" font-size="6.2" text-anchor="middle" stroke="#1e1e1e" stroke-width="0.16">40</text>
<line x1="283.5" y1="479.5" x2="283.5" y2="482.7" stroke="#111111" stroke-width="1.1"/>
<text transform="translate(283.5,494.03) scale(0.84,1)" font-size="6.2" text-anchor="middle" stroke="#1e1e1e" stroke-width="0.16">50</text>
<text x="265.35" y="505.12" font-size="8.4" text-anchor="middle" textLength="19.2" lengthAdjust="spacingAndGlyphs" stroke="#1e1e1e" stroke-width="0.16">Weeks</text>
<line x1="293.5" y1="479.5" x2="293.5" y2="482.7" stroke="#111111" stroke-width="1.1"/>
<text transform="translate(293.9,490.43) scale(0.84,1)" font-size="6.2" text-anchor="middle" stroke="#1e1e1e" stroke-width="0.16">4</text>
<line x1="301.5" y1="479.5" x2="301.5" y2="482.7" stroke="#111111" stroke-width="1.1"/>
<text transform="translate(301.2,494.03) scale(0.84,1)" font-size="6.2" text-anchor="middle" stroke="#1e1e1e" stroke-width="0.16">12</text>
<line x1="308.5" y1="479.5" x2="308.5" y2="482.7" stroke="#111111" stroke-width="1.1"/>
<text transform="translate(308.5,490.43) scale(0.84,1)" font-size="6.2" text-anchor="middle" stroke="#1e1e1e" stroke-width="0.16">20</text>
<line x1="316.5" y1="479.5" x2="316.5" y2="482.7" stroke="#111111" stroke-width="1.1"/>
<text transform="translate(316,494.03) scale(0.84,1)" font-size="6.2" text-anchor="middle" stroke="#1e1e1e" stroke-width="0.16">30</text>
<line x1="323.5" y1="479.5" x2="323.5" y2="482.7" stroke="#111111" stroke-width="1.1"/>
<text transform="translate(323.3,490.43) scale(0.84,1)" font-size="6.2" text-anchor="middle" stroke="#1e1e1e" stroke-width="0.16">40</text>
<line x1="330.5" y1="479.5" x2="330.5" y2="482.7" stroke="#111111" stroke-width="1.1"/>
<text transform="translate(330.7,494.03) scale(0.84,1)" font-size="6.2" text-anchor="middle" stroke="#1e1e1e" stroke-width="0.16">50</text>
<text x="312.3" y="505.12" font-size="8.4" text-anchor="middle" textLength="19.2" lengthAdjust="spacingAndGlyphs" stroke="#1e1e1e" stroke-width="0.16">Weeks</text>
<polyline points="247.2,460.5 254.4,428.74 261.9,436.6 268.8,437.58 276.3,441.84 283.5,443.48" fill="none" stroke="#8a2236" stroke-width="1.1" stroke-linejoin="round"/>
<polyline points="247.2,467.06 254.4,441.51 261.9,444.13 268.8,439.55 276.3,443.48 283.5,445.11" fill="none" stroke="#2f4a70" stroke-width="1.1" stroke-linejoin="round"/>
<line x1="247.5" y1="469.02" x2="247.5" y2="465.09" stroke="#1e1e1e" stroke-width="1"/>
<line x1="245.7" y1="465.5" x2="248.7" y2="465.5" stroke="#1e1e1e" stroke-width="1.1"/>
<line x1="245.7" y1="469.5" x2="248.7" y2="469.5" stroke="#1e1e1e" stroke-width="1.1"/>
<rect x="245.3" y="465.16" width="3.8" height="3.8" fill="#2a3b57" stroke="#121c2a" stroke-width="0.6"/>
<line x1="254.5" y1="444.13" x2="254.5" y2="438.89" stroke="#1e1e1e" stroke-width="1"/>
<line x1="252.9" y1="438.5" x2="255.9" y2="438.5" stroke="#1e1e1e" stroke-width="1.1"/>
<line x1="252.9" y1="444.5" x2="255.9" y2="444.5" stroke="#1e1e1e" stroke-width="1.1"/>
<rect x="252.5" y="439.61" width="3.8" height="3.8" fill="#2a3b57" stroke="#121c2a" stroke-width="0.6"/>
<line x1="261.5" y1="449.04" x2="261.5" y2="439.22" stroke="#1e1e1e" stroke-width="1"/>
<line x1="260.4" y1="439.5" x2="263.4" y2="439.5" stroke="#1e1e1e" stroke-width="1.1"/>
<line x1="260.4" y1="449.5" x2="263.4" y2="449.5" stroke="#1e1e1e" stroke-width="1.1"/>
<rect x="260" y="442.23" width="3.8" height="3.8" fill="#2a3b57" stroke="#121c2a" stroke-width="0.6"/>
<line x1="268.5" y1="442.82" x2="268.5" y2="436.27" stroke="#1e1e1e" stroke-width="1"/>
<line x1="267.3" y1="436.5" x2="270.3" y2="436.5" stroke="#1e1e1e" stroke-width="1.1"/>
<line x1="267.3" y1="442.5" x2="270.3" y2="442.5" stroke="#1e1e1e" stroke-width="1.1"/>
<rect x="266.9" y="437.65" width="3.8" height="3.8" fill="#2a3b57" stroke="#121c2a" stroke-width="0.6"/>
<line x1="276.5" y1="448.71" x2="276.5" y2="438.24" stroke="#1e1e1e" stroke-width="1"/>
<line x1="274.8" y1="438.5" x2="277.8" y2="438.5" stroke="#1e1e1e" stroke-width="1.1"/>
<line x1="274.8" y1="448.5" x2="277.8" y2="448.5" stroke="#1e1e1e" stroke-width="1.1"/>
<rect x="274.4" y="441.58" width="3.8" height="3.8" fill="#2a3b57" stroke="#121c2a" stroke-width="0.6"/>
<line x1="283.5" y1="451.01" x2="283.5" y2="439.22" stroke="#1e1e1e" stroke-width="1"/>
<line x1="282" y1="439.5" x2="285" y2="439.5" stroke="#1e1e1e" stroke-width="1.1"/>
<line x1="282" y1="451.5" x2="285" y2="451.5" stroke="#1e1e1e" stroke-width="1.1"/>
<rect x="281.6" y="443.21" width="3.8" height="3.8" fill="#2a3b57" stroke="#121c2a" stroke-width="0.6"/>
<line x1="247.5" y1="462.47" x2="247.5" y2="458.54" stroke="#1e1e1e" stroke-width="1"/>
<line x1="245.7" y1="458.5" x2="248.7" y2="458.5" stroke="#1e1e1e" stroke-width="1.1"/>
<line x1="245.7" y1="462.5" x2="248.7" y2="462.5" stroke="#1e1e1e" stroke-width="1.1"/>
<circle cx="247.2" cy="460.5" r="2" fill="#5e1626" stroke="#240810" stroke-width="0.6"/>
<line x1="254.5" y1="433" x2="254.5" y2="424.48" stroke="#1e1e1e" stroke-width="1"/>
<line x1="252.9" y1="424.5" x2="255.9" y2="424.5" stroke="#1e1e1e" stroke-width="1.1"/>
<line x1="252.9" y1="432.5" x2="255.9" y2="432.5" stroke="#1e1e1e" stroke-width="1.1"/>
<circle cx="254.4" cy="428.74" r="2" fill="#5e1626" stroke="#240810" stroke-width="0.6"/>
<line x1="261.5" y1="441.84" x2="261.5" y2="431.36" stroke="#1e1e1e" stroke-width="1"/>
<line x1="260.4" y1="431.5" x2="263.4" y2="431.5" stroke="#1e1e1e" stroke-width="1.1"/>
<line x1="260.4" y1="441.5" x2="263.4" y2="441.5" stroke="#1e1e1e" stroke-width="1.1"/>
<circle cx="261.9" cy="436.6" r="2" fill="#5e1626" stroke="#240810" stroke-width="0.6"/>
<line x1="268.5" y1="440.86" x2="268.5" y2="434.31" stroke="#1e1e1e" stroke-width="1"/>
<line x1="267.3" y1="434.5" x2="270.3" y2="434.5" stroke="#1e1e1e" stroke-width="1.1"/>
<line x1="267.3" y1="440.5" x2="270.3" y2="440.5" stroke="#1e1e1e" stroke-width="1.1"/>
<circle cx="268.8" cy="437.58" r="2" fill="#5e1626" stroke="#240810" stroke-width="0.6"/>
<line x1="276.5" y1="446.75" x2="276.5" y2="436.93" stroke="#1e1e1e" stroke-width="1"/>
<line x1="274.8" y1="436.5" x2="277.8" y2="436.5" stroke="#1e1e1e" stroke-width="1.1"/>
<line x1="274.8" y1="446.5" x2="277.8" y2="446.5" stroke="#1e1e1e" stroke-width="1.1"/>
<circle cx="276.3" cy="441.84" r="2" fill="#5e1626" stroke="#240810" stroke-width="0.6"/>
<line x1="283.5" y1="447.73" x2="283.5" y2="439.22" stroke="#1e1e1e" stroke-width="1"/>
<line x1="282" y1="439.5" x2="285" y2="439.5" stroke="#1e1e1e" stroke-width="1.1"/>
<line x1="282" y1="447.5" x2="285" y2="447.5" stroke="#1e1e1e" stroke-width="1.1"/>
<circle cx="283.5" cy="443.48" r="2" fill="#5e1626" stroke="#240810" stroke-width="0.6"/>
<polyline points="293.9,447.08 301.2,449.7 308.5,448.72 316,447.73 323.3,446.09 330.7,446.75" fill="none" stroke="#8a2236" stroke-width="1.1" stroke-linejoin="round"/>
<polyline points="293.9,438.56 301.2,440.2 308.5,435.94 316,432.01 323.3,430.38 330.7,428.74" fill="none" stroke="#2f4a70" stroke-width="1.1" stroke-linejoin="round"/>
<line x1="293.5" y1="440.53" x2="293.5" y2="436.6" stroke="#1e1e1e" stroke-width="1"/>
<line x1="292.4" y1="436.5" x2="295.4" y2="436.5" stroke="#1e1e1e" stroke-width="1.1"/>
<line x1="292.4" y1="440.5" x2="295.4" y2="440.5" stroke="#1e1e1e" stroke-width="1.1"/>
<rect x="292" y="436.66" width="3.8" height="3.8" fill="#2a3b57" stroke="#121c2a" stroke-width="0.6"/>
<line x1="301.5" y1="442.17" x2="301.5" y2="438.24" stroke="#1e1e1e" stroke-width="1"/>
<line x1="299.7" y1="438.5" x2="302.7" y2="438.5" stroke="#1e1e1e" stroke-width="1.1"/>
<line x1="299.7" y1="442.5" x2="302.7" y2="442.5" stroke="#1e1e1e" stroke-width="1.1"/>
<rect x="299.3" y="438.3" width="3.8" height="3.8" fill="#2a3b57" stroke="#121c2a" stroke-width="0.6"/>
<line x1="308.5" y1="437.91" x2="308.5" y2="433.98" stroke="#1e1e1e" stroke-width="1"/>
<line x1="307" y1="433.5" x2="310" y2="433.5" stroke="#1e1e1e" stroke-width="1.1"/>
<line x1="307" y1="437.5" x2="310" y2="437.5" stroke="#1e1e1e" stroke-width="1.1"/>
<rect x="306.6" y="434.04" width="3.8" height="3.8" fill="#2a3b57" stroke="#121c2a" stroke-width="0.6"/>
<line x1="316.5" y1="433.98" x2="316.5" y2="430.05" stroke="#1e1e1e" stroke-width="1"/>
<line x1="314.5" y1="430.5" x2="317.5" y2="430.5" stroke="#1e1e1e" stroke-width="1.1"/>
<line x1="314.5" y1="433.5" x2="317.5" y2="433.5" stroke="#1e1e1e" stroke-width="1.1"/>
<rect x="314.1" y="430.11" width="3.8" height="3.8" fill="#2a3b57" stroke="#121c2a" stroke-width="0.6"/>
<line x1="323.5" y1="433.32" x2="323.5" y2="427.43" stroke="#1e1e1e" stroke-width="1"/>
<line x1="321.8" y1="427.5" x2="324.8" y2="427.5" stroke="#1e1e1e" stroke-width="1.1"/>
<line x1="321.8" y1="433.5" x2="324.8" y2="433.5" stroke="#1e1e1e" stroke-width="1.1"/>
<rect x="321.4" y="428.48" width="3.8" height="3.8" fill="#2a3b57" stroke="#121c2a" stroke-width="0.6"/>
<line x1="330.5" y1="433.32" x2="330.5" y2="424.15" stroke="#1e1e1e" stroke-width="1"/>
<line x1="329.2" y1="424.5" x2="332.2" y2="424.5" stroke="#1e1e1e" stroke-width="1.1"/>
<line x1="329.2" y1="433.5" x2="332.2" y2="433.5" stroke="#1e1e1e" stroke-width="1.1"/>
<rect x="328.8" y="426.84" width="3.8" height="3.8" fill="#2a3b57" stroke="#121c2a" stroke-width="0.6"/>
<circle cx="293.9" cy="447.08" r="2" fill="#5e1626" stroke="#240810" stroke-width="0.6"/>
<circle cx="301.2" cy="449.7" r="2" fill="#5e1626" stroke="#240810" stroke-width="0.6"/>
<circle cx="308.5" cy="448.72" r="2" fill="#5e1626" stroke="#240810" stroke-width="0.6"/>
<circle cx="316" cy="447.73" r="2" fill="#5e1626" stroke="#240810" stroke-width="0.6"/>
<circle cx="323.3" cy="446.09" r="2" fill="#5e1626" stroke="#240810" stroke-width="0.6"/>
<circle cx="330.7" cy="446.75" r="2" fill="#5e1626" stroke="#240810" stroke-width="0.6"/>
<text x="312.2" y="417.87" font-size="5.2" text-anchor="middle" stroke="#1e1e1e" stroke-width="0.16">**</text>
<line x1="316" y1="415.5" x2="326.4" y2="415.5" stroke="#161616" stroke-width="1"/>
<polygon points="329,415.4 326.4,416.96 326.4,413.84" fill="#161616"/>
<text x="293.8" y="433.97" font-size="5.2" text-anchor="middle" stroke="#1e1e1e" stroke-width="0.16">*</text>
<text x="301.2" y="434.77" font-size="5.2" text-anchor="middle" stroke="#1e1e1e" stroke-width="0.16">*</text>
<rect x="277" y="467.5" width="3" height="3" fill="#7a1e30" stroke="#240810" stroke-width="0.5"/>
<text x="282.3" y="470.69" font-size="4.7" stroke="#1e1e1e" stroke-width="0.16">+/+</text>
<rect x="277" y="473.3" width="3" height="3" fill="#2a3b57" stroke="#121c2a" stroke-width="0.5"/>
<text x="282.3" y="476.49" font-size="4.7" textLength="16.8" lengthAdjust="spacingAndGlyphs" stroke="#1e1e1e" stroke-width="0.16">P95H/+</text>
<text transform="translate(223.4,445.7) rotate(-90)" x="0" y="2.59" font-size="7.2" text-anchor="middle" textLength="71.8" lengthAdjust="spacingAndGlyphs" stroke="#1e1e1e" stroke-width="0.16">PB leukocytes (x10<tspan font-size="4.4" dy="-2.2">9</tspan><tspan dy="2.2">/mL)</tspan></text>
<text transform="translate(354.8,447.2) rotate(90)" x="0" y="2.59" font-size="7.2" text-anchor="middle" textLength="35.4" lengthAdjust="spacingAndGlyphs" stroke="#1e1e1e" stroke-width="0.16">PB MCV (fL)</text>
<line x1="393.5" y1="411.8" x2="393.5" y2="480.5" stroke="#111111" stroke-width="1.1"/>
<line x1="390.8" y1="480.5" x2="393.8" y2="480.5" stroke="#111111" stroke-width="1.1"/>
<text transform="translate(387.8,482.34) scale(0.84,1)" font-size="6.5" text-anchor="end" stroke="#1e1e1e" stroke-width="0.16">5</text>
<line x1="390.8" y1="469.5" x2="393.8" y2="469.5" stroke="#111111" stroke-width="1.1"/>
<text transform="translate(387.8,471.34) scale(0.84,1)" font-size="6.5" text-anchor="end" stroke="#1e1e1e" stroke-width="0.16">6</text>
<line x1="390.8" y1="458.5" x2="393.8" y2="458.5" stroke="#111111" stroke-width="1.1"/>
<text transform="translate(387.8,460.34) scale(0.84,1)" font-size="6.5" text-anchor="end" stroke="#1e1e1e" stroke-width="0.16">7</text>
<line x1="390.8" y1="447.5" x2="393.8" y2="447.5" stroke="#111111" stroke-width="1.1"/>
<text transform="translate(387.8,449.34) scale(0.84,1)" font-size="6.5" text-anchor="end" stroke="#1e1e1e" stroke-width="0.16">8</text>
<line x1="390.8" y1="436.5" x2="393.8" y2="436.5" stroke="#111111" stroke-width="1.1"/>
<text transform="translate(387.8,438.34) scale(0.84,1)" font-size="6.5" text-anchor="end" stroke="#1e1e1e" stroke-width="0.16">9</text>
<line x1="390.8" y1="425.5" x2="393.8" y2="425.5" stroke="#111111" stroke-width="1.1"/>
<text transform="translate(387.8,427.34) scale(0.84,1)" font-size="6.5" text-anchor="end" stroke="#1e1e1e" stroke-width="0.16">10</text>
<line x1="390.8" y1="414.5" x2="393.8" y2="414.5" stroke="#111111" stroke-width="1.1"/>
<text transform="translate(387.8,416.34) scale(0.84,1)" font-size="6.5" text-anchor="end" stroke="#1e1e1e" stroke-width="0.16">11</text>
<line x1="484.5" y1="411.8" x2="484.5" y2="480.5" stroke="#111111" stroke-width="1.1"/>
<line x1="484.6" y1="480.5" x2="487.6" y2="480.5" stroke="#111111" stroke-width="1.1"/>
<text transform="translate(490,482.34) scale(0.84,1)" font-size="6.5" stroke="#1e1e1e" stroke-width="0.16">100</text>
<line x1="484.6" y1="463.5" x2="487.6" y2="463.5" stroke="#111111" stroke-width="1.1"/>
<text transform="translate(490,465.72) scale(0.84,1)" font-size="6.5" stroke="#1e1e1e" stroke-width="0.16">120</text>
<line x1="484.6" y1="446.5" x2="487.6" y2="446.5" stroke="#111111" stroke-width="1.1"/>
<text transform="translate(490,449.1) scale(0.84,1)" font-size="6.5" stroke="#1e1e1e" stroke-width="0.16">140</text>
<line x1="484.6" y1="430.5" x2="487.6" y2="430.5" stroke="#111111" stroke-width="1.1"/>
<text transform="translate(490,432.48) scale(0.84,1)" font-size="6.5" stroke="#1e1e1e" stroke-width="0.16">160</text>
<line x1="484.6" y1="413.5" x2="487.6" y2="413.5" stroke="#111111" stroke-width="1.1"/>
<text transform="translate(490,415.86) scale(0.84,1)" font-size="6.5" stroke="#1e1e1e" stroke-width="0.16">180</text>
<line x1="393.8" y1="480.5" x2="437.3" y2="480.5" stroke="#111111" stroke-width="1.3"/>
<line x1="440.8" y1="480.5" x2="484.6" y2="480.5" stroke="#111111" stroke-width="1.3"/>
<line x1="397.5" y1="480" x2="397.5" y2="483.2" stroke="#111111" stroke-width="1.1"/>
<text transform="translate(397.5,490.93) scale(0.84,1)" font-size="6.2" text-anchor="middle" stroke="#1e1e1e" stroke-width="0.16">4</text>
<line x1="405.5" y1="480" x2="405.5" y2="483.2" stroke="#111111" stroke-width="1.1"/>
<text transform="translate(405.2,494.53) scale(0.84,1)" font-size="6.2" text-anchor="middle" stroke="#1e1e1e" stroke-width="0.16">12</text>
<line x1="412.5" y1="480" x2="412.5" y2="483.2" stroke="#111111" stroke-width="1.1"/>
<text transform="translate(412.3,490.93) scale(0.84,1)" font-size="6.2" text-anchor="middle" stroke="#1e1e1e" stroke-width="0.16">20</text>
<line x1="419.5" y1="480" x2="419.5" y2="483.2" stroke="#111111" stroke-width="1.1"/>
<text transform="translate(419.4,494.53) scale(0.84,1)" font-size="6.2" text-anchor="middle" stroke="#1e1e1e" stroke-width="0.16">30</text>
<line x1="426.5" y1="480" x2="426.5" y2="483.2" stroke="#111111" stroke-width="1.1"/>
<text transform="translate(426.8,490.93) scale(0.84,1)" font-size="6.2" text-anchor="middle" stroke="#1e1e1e" stroke-width="0.16">40</text>
<line x1="433.5" y1="480" x2="433.5" y2="483.2" stroke="#111111" stroke-width="1.1"/>
<text transform="translate(433.8,494.53) scale(0.84,1)" font-size="6.2" text-anchor="middle" stroke="#1e1e1e" stroke-width="0.16">50</text>
<text x="415.65" y="505.62" font-size="8.4" text-anchor="middle" textLength="19.2" lengthAdjust="spacingAndGlyphs" stroke="#1e1e1e" stroke-width="0.16">Weeks</text>
<line x1="444.5" y1="480" x2="444.5" y2="483.2" stroke="#111111" stroke-width="1.1"/>
<text transform="translate(444,490.93) scale(0.84,1)" font-size="6.2" text-anchor="middle" stroke="#1e1e1e" stroke-width="0.16">4</text>
<line x1="451.5" y1="480" x2="451.5" y2="483.2" stroke="#111111" stroke-width="1.1"/>
<text transform="translate(451.6,494.53) scale(0.84,1)" font-size="6.2" text-anchor="middle" stroke="#1e1e1e" stroke-width="0.16">12</text>
<line x1="459.5" y1="480" x2="459.5" y2="483.2" stroke="#111111" stroke-width="1.1"/>
<text transform="translate(459,490.93) scale(0.84,1)" font-size="6.2" text-anchor="middle" stroke="#1e1e1e" stroke-width="0.16">20</text>
<line x1="466.5" y1="480" x2="466.5" y2="483.2" stroke="#111111" stroke-width="1.1"/>
<text transform="translate(466.2,494.53) scale(0.84,1)" font-size="6.2" text-anchor="middle" stroke="#1e1e1e" stroke-width="0.16">30</text>
<line x1="473.5" y1="480" x2="473.5" y2="483.2" stroke="#111111" stroke-width="1.1"/>
<text transform="translate(473.3,490.93) scale(0.84,1)" font-size="6.2" text-anchor="middle" stroke="#1e1e1e" stroke-width="0.16">40</text>
<line x1="480.5" y1="480" x2="480.5" y2="483.2" stroke="#111111" stroke-width="1.1"/>
<text transform="translate(480.6,494.53) scale(0.84,1)" font-size="6.2" text-anchor="middle" stroke="#1e1e1e" stroke-width="0.16">50</text>
<text x="462.3" y="505.62" font-size="8.4" text-anchor="middle" textLength="19.2" lengthAdjust="spacingAndGlyphs" stroke="#1e1e1e" stroke-width="0.16">Weeks</text>
<polyline points="397.5,433.25 405.2,429.95 412.3,426.65 419.4,433.25 426.8,430.5 433.8,437.65" fill="none" stroke="#8a2236" stroke-width="1.1" stroke-linejoin="round"/>
<polyline points="397.5,440.95 405.2,437.1 412.3,439.85 419.4,456.9 426.8,456.35 433.8,459.65" fill="none" stroke="#2f4a70" stroke-width="1.1" stroke-linejoin="round"/>
<line x1="397.5" y1="443.7" x2="397.5" y2="438.2" stroke="#1e1e1e" stroke-width="1"/>
<line x1="396" y1="438.5" x2="399" y2="438.5" stroke="#1e1e1e" stroke-width="1.1"/>
<line x1="396" y1="443.5" x2="399" y2="443.5" stroke="#1e1e1e" stroke-width="1.1"/>
<rect x="395.6" y="439.05" width="3.8" height="3.8" fill="#2a3b57" stroke="#121c2a" stroke-width="0.6"/>
<line x1="405.5" y1="440.4" x2="405.5" y2="433.8" stroke="#1e1e1e" stroke-width="1"/>
<line x1="403.7" y1="433.5" x2="406.7" y2="433.5" stroke="#1e1e1e" stroke-width="1.1"/>
<line x1="403.7" y1="440.5" x2="406.7" y2="440.5" stroke="#1e1e1e" stroke-width="1.1"/>
<rect x="403.3" y="435.2" width="3.8" height="3.8" fill="#2a3b57" stroke="#121c2a" stroke-width="0.6"/>
<line x1="412.5" y1="443.15" x2="412.5" y2="436.55" stroke="#1e1e1e" stroke-width="1"/>
<line x1="410.8" y1="436.5" x2="413.8" y2="436.5" stroke="#1e1e1e" stroke-width="1.1"/>
<line x1="410.8" y1="443.5" x2="413.8" y2="443.5" stroke="#1e1e1e" stroke-width="1.1"/>
<rect x="410.4" y="437.95" width="3.8" height="3.8" fill="#2a3b57" stroke="#121c2a" stroke-width="0.6"/>
<line x1="419.5" y1="461.3" x2="419.5" y2="452.5" stroke="#1e1e1e" stroke-width="1"/>
<line x1="417.9" y1="452.5" x2="420.9" y2="452.5" stroke="#1e1e1e" stroke-width="1.1"/>
<line x1="417.9" y1="461.5" x2="420.9" y2="461.5" stroke="#1e1e1e" stroke-width="1.1"/>
<rect x="417.5" y="455" width="3.8" height="3.8" fill="#2a3b57" stroke="#121c2a" stroke-width="0.6"/>
<line x1="426.5" y1="458.55" x2="426.5" y2="454.15" stroke="#1e1e1e" stroke-width="1"/>
<line x1="425.3" y1="454.5" x2="428.3" y2="454.5" stroke="#1e1e1e" stroke-width="1.1"/>
<line x1="425.3" y1="458.5" x2="428.3" y2="458.5" stroke="#1e1e1e" stroke-width="1.1"/>
<rect x="424.9" y="454.45" width="3.8" height="3.8" fill="#2a3b57" stroke="#121c2a" stroke-width="0.6"/>
<line x1="433.5" y1="465.7" x2="433.5" y2="453.6" stroke="#1e1e1e" stroke-width="1"/>
<line x1="432.3" y1="453.5" x2="435.3" y2="453.5" stroke="#1e1e1e" stroke-width="1.1"/>
<line x1="432.3" y1="465.5" x2="435.3" y2="465.5" stroke="#1e1e1e" stroke-width="1.1"/>
<rect x="431.9" y="457.75" width="3.8" height="3.8" fill="#2a3b57" stroke="#121c2a" stroke-width="0.6"/>
<line x1="397.5" y1="434.35" x2="397.5" y2="432.15" stroke="#1e1e1e" stroke-width="1"/>
<line x1="396" y1="432.5" x2="399" y2="432.5" stroke="#1e1e1e" stroke-width="1.1"/>
<line x1="396" y1="434.5" x2="399" y2="434.5" stroke="#1e1e1e" stroke-width="1.1"/>
<circle cx="397.5" cy="433.25" r="2" fill="#5e1626" stroke="#240810" stroke-width="0.6"/>
<line x1="405.5" y1="431.27" x2="405.5" y2="428.63" stroke="#1e1e1e" stroke-width="1"/>
<line x1="403.7" y1="428.5" x2="406.7" y2="428.5" stroke="#1e1e1e" stroke-width="1.1"/>
<line x1="403.7" y1="431.5" x2="406.7" y2="431.5" stroke="#1e1e1e" stroke-width="1.1"/>
<circle cx="405.2" cy="429.95" r="2" fill="#5e1626" stroke="#240810" stroke-width="0.6"/>
<line x1="412.5" y1="427.75" x2="412.5" y2="425.55" stroke="#1e1e1e" stroke-width="1"/>
<line x1="410.8" y1="425.5" x2="413.8" y2="425.5" stroke="#1e1e1e" stroke-width="1.1"/>
<line x1="410.8" y1="427.5" x2="413.8" y2="427.5" stroke="#1e1e1e" stroke-width="1.1"/>
<circle cx="412.3" cy="426.65" r="2" fill="#5e1626" stroke="#240810" stroke-width="0.6"/>
<line x1="419.5" y1="434.35" x2="419.5" y2="432.15" stroke="#1e1e1e" stroke-width="1"/>
<line x1="417.9" y1="432.5" x2="420.9" y2="432.5" stroke="#1e1e1e" stroke-width="1.1"/>
<line x1="417.9" y1="434.5" x2="420.9" y2="434.5" stroke="#1e1e1e" stroke-width="1.1"/>
<circle cx="419.4" cy="433.25" r="2" fill="#5e1626" stroke="#240810" stroke-width="0.6"/>
<line x1="426.5" y1="431.82" x2="426.5" y2="429.18" stroke="#1e1e1e" stroke-width="1"/>
<line x1="425.3" y1="429.5" x2="428.3" y2="429.5" stroke="#1e1e1e" stroke-width="1.1"/>
<line x1="425.3" y1="431.5" x2="428.3" y2="431.5" stroke="#1e1e1e" stroke-width="1.1"/>
<circle cx="426.8" cy="430.5" r="2" fill="#5e1626" stroke="#240810" stroke-width="0.6"/>
<line x1="433.5" y1="438.75" x2="433.5" y2="436.55" stroke="#1e1e1e" stroke-width="1"/>
<line x1="432.3" y1="436.5" x2="435.3" y2="436.5" stroke="#1e1e1e" stroke-width="1.1"/>
<line x1="432.3" y1="438.5" x2="435.3" y2="438.5" stroke="#1e1e1e" stroke-width="1.1"/>
<circle cx="433.8" cy="437.65" r="2" fill="#5e1626" stroke="#240810" stroke-width="0.6"/>
<polyline points="444,446.18 451.6,444.6 459,439.36 466.2,443.27 473.3,436.54 480.6,450.42" fill="none" stroke="#8a2236" stroke-width="1.1" stroke-linejoin="round"/>
<polyline points="444,446.18 451.6,445.18 459,442.69 466.2,459.64 473.3,460.06 480.6,467.04" fill="none" stroke="#2f4a70" stroke-width="1.1" stroke-linejoin="round"/>
<line x1="444.5" y1="448.67" x2="444.5" y2="443.69" stroke="#1e1e1e" stroke-width="1"/>
<line x1="442.5" y1="443.5" x2="445.5" y2="443.5" stroke="#1e1e1e" stroke-width="1.1"/>
<line x1="442.5" y1="448.5" x2="445.5" y2="448.5" stroke="#1e1e1e" stroke-width="1.1"/>
<rect x="442.1" y="444.28" width="3.8" height="3.8" fill="#2a3b57" stroke="#121c2a" stroke-width="0.6"/>
<line x1="451.5" y1="447.26" x2="451.5" y2="443.1" stroke="#1e1e1e" stroke-width="1"/>
<line x1="450.1" y1="443.5" x2="453.1" y2="443.5" stroke="#1e1e1e" stroke-width="1.1"/>
<line x1="450.1" y1="447.5" x2="453.1" y2="447.5" stroke="#1e1e1e" stroke-width="1.1"/>
<rect x="449.7" y="443.28" width="3.8" height="3.8" fill="#2a3b57" stroke="#121c2a" stroke-width="0.6"/>
<line x1="459.5" y1="445.18" x2="459.5" y2="440.2" stroke="#1e1e1e" stroke-width="1"/>
<line x1="457.5" y1="440.5" x2="460.5" y2="440.5" stroke="#1e1e1e" stroke-width="1.1"/>
<line x1="457.5" y1="445.5" x2="460.5" y2="445.5" stroke="#1e1e1e" stroke-width="1.1"/>
<rect x="457.1" y="440.79" width="3.8" height="3.8" fill="#2a3b57" stroke="#121c2a" stroke-width="0.6"/>
<line x1="466.5" y1="462.55" x2="466.5" y2="456.73" stroke="#1e1e1e" stroke-width="1"/>
<line x1="464.7" y1="456.5" x2="467.7" y2="456.5" stroke="#1e1e1e" stroke-width="1.1"/>
<line x1="464.7" y1="462.5" x2="467.7" y2="462.5" stroke="#1e1e1e" stroke-width="1.1"/>
<rect x="464.3" y="457.74" width="3.8" height="3.8" fill="#2a3b57" stroke="#121c2a" stroke-width="0.6"/>
<line x1="473.5" y1="463.38" x2="473.5" y2="456.73" stroke="#1e1e1e" stroke-width="1"/>
<line x1="471.8" y1="456.5" x2="474.8" y2="456.5" stroke="#1e1e1e" stroke-width="1.1"/>
<line x1="471.8" y1="463.5" x2="474.8" y2="463.5" stroke="#1e1e1e" stroke-width="1.1"/>
<rect x="471.4" y="458.16" width="3.8" height="3.8" fill="#2a3b57" stroke="#121c2a" stroke-width="0.6"/>
<line x1="480.5" y1="472.02" x2="480.5" y2="462.05" stroke="#1e1e1e" stroke-width="1"/>
<line x1="479.1" y1="462.5" x2="482.1" y2="462.5" stroke="#1e1e1e" stroke-width="1.1"/>
<line x1="479.1" y1="472.5" x2="482.1" y2="472.5" stroke="#1e1e1e" stroke-width="1.1"/>
<rect x="478.7" y="465.14" width="3.8" height="3.8" fill="#2a3b57" stroke="#121c2a" stroke-width="0.6"/>
<circle cx="444" cy="446.18" r="2" fill="#5e1626" stroke="#240810" stroke-width="0.6"/>
<circle cx="451.6" cy="444.6" r="2" fill="#5e1626" stroke="#240810" stroke-width="0.6"/>
<circle cx="459" cy="439.36" r="2" fill="#5e1626" stroke="#240810" stroke-width="0.6"/>
<circle cx="466.2" cy="443.27" r="2" fill="#5e1626" stroke="#240810" stroke-width="0.6"/>
<line x1="473.5" y1="444.02" x2="473.5" y2="429.06" stroke="#1e1e1e" stroke-width="1"/>
<line x1="471.8" y1="429.5" x2="474.8" y2="429.5" stroke="#1e1e1e" stroke-width="1.1"/>
<line x1="471.8" y1="444.5" x2="474.8" y2="444.5" stroke="#1e1e1e" stroke-width="1.1"/>
<circle cx="473.3" cy="436.54" r="2" fill="#5e1626" stroke="#240810" stroke-width="0.6"/>
<circle cx="480.6" cy="450.42" r="2" fill="#5e1626" stroke="#240810" stroke-width="0.6"/>
<text x="414.2" y="422.67" font-size="5.2" text-anchor="middle" stroke="#1e1e1e" stroke-width="0.16">**</text>
<line x1="418" y1="420.5" x2="428.9" y2="420.5" stroke="#161616" stroke-width="1"/>
<polygon points="431.5,420.2 428.9,421.76 428.9,418.64" fill="#161616"/>
<text x="467.2" y="422.67" font-size="5.2" text-anchor="middle" stroke="#1e1e1e" stroke-width="0.16">**</text>
<line x1="471" y1="420.5" x2="476.4" y2="420.5" stroke="#161616" stroke-width="1"/>
<polygon points="479,420.2 476.4,421.76 476.4,418.64" fill="#161616"/>
<rect x="426.2" y="469.3" width="3" height="3" fill="#7a1e30" stroke="#240810" stroke-width="0.5"/>
<text x="431.5" y="472.49" font-size="4.7" stroke="#1e1e1e" stroke-width="0.16">+/+</text>
<rect x="426.2" y="475.1" width="3" height="3" fill="#2a3b57" stroke="#121c2a" stroke-width="0.5"/>
<text x="431.5" y="478.29" font-size="4.7" textLength="16.8" lengthAdjust="spacingAndGlyphs" stroke="#1e1e1e" stroke-width="0.16">P95H/+</text>
<text transform="translate(374.6,450) rotate(-90)" x="0" y="2.59" font-size="7.2" text-anchor="middle" textLength="78.4" lengthAdjust="spacingAndGlyphs" stroke="#1e1e1e" stroke-width="0.16">PB red blood cells (x10<tspan font-size="4.4" dy="-2.2">12</tspan><tspan dy="2.2">/mL)</tspan></text>
<text transform="translate(508.5,450) rotate(90)" x="0" y="2.59" font-size="7.2" text-anchor="middle" textLength="63" lengthAdjust="spacingAndGlyphs" stroke="#1e1e1e" stroke-width="0.16">PB hemoglobin (g/L)</text>
<text x="12" y="528.6" font-size="11" font-weight="bold" fill="#000" stroke="#000" stroke-width="0.16">H</text>
<line x1="38.5" y1="534" x2="38.5" y2="635.2" stroke="#111111" stroke-width="1.1"/>
<line x1="35.8" y1="634.5" x2="38.8" y2="634.5" stroke="#111111" stroke-width="1.1"/>
<text transform="translate(32.8,637.04) scale(0.84,1)" font-size="6.5" text-anchor="end" stroke="#1e1e1e" stroke-width="0.16">0</text>
<line x1="35.8" y1="615.5" x2="38.8" y2="615.5" stroke="#111111" stroke-width="1.1"/>
<text transform="translate(32.8,617.7) scale(0.84,1)" font-size="6.5" text-anchor="end" stroke="#1e1e1e" stroke-width="0.16">20</text>
<line x1="35.8" y1="596.5" x2="38.8" y2="596.5" stroke="#111111" stroke-width="1.1"/>
<text transform="translate(32.8,598.36) scale(0.84,1)" font-size="6.5" text-anchor="end" stroke="#1e1e1e" stroke-width="0.16">40</text>
<line x1="35.8" y1="576.5" x2="38.8" y2="576.5" stroke="#111111" stroke-width="1.1"/>
<text transform="translate(32.8,579.02) scale(0.84,1)" font-size="6.5" text-anchor="end" stroke="#1e1e1e" stroke-width="0.16">60</text>
<line x1="35.8" y1="557.5" x2="38.8" y2="557.5" stroke="#111111" stroke-width="1.1"/>
<text transform="translate(32.8,559.68) scale(0.84,1)" font-size="6.5" text-anchor="end" stroke="#1e1e1e" stroke-width="0.16">80</text>
<line x1="35.8" y1="538.5" x2="38.8" y2="538.5" stroke="#111111" stroke-width="1.1"/>
<text transform="translate(32.8,540.34) scale(0.84,1)" font-size="6.5" text-anchor="end" stroke="#1e1e1e" stroke-width="0.16">100</text>
<line x1="38.8" y1="634.5" x2="135.8" y2="634.5" stroke="#111111" stroke-width="1.3"/>
<line x1="47.5" y1="634.7" x2="47.5" y2="637.7" stroke="#111111" stroke-width="1.1"/>
<text transform="translate(47.3,647.34) scale(0.84,1)" font-size="6.5" text-anchor="middle" stroke="#1e1e1e" stroke-width="0.16">4</text>
<line x1="63.5" y1="634.7" x2="63.5" y2="637.7" stroke="#111111" stroke-width="1.1"/>
<text transform="translate(63.6,647.34) scale(0.84,1)" font-size="6.5" text-anchor="middle" stroke="#1e1e1e" stroke-width="0.16">12</text>
<line x1="79.5" y1="634.7" x2="79.5" y2="637.7" stroke="#111111" stroke-width="1.1"/>
<text transform="translate(79.7,647.34) scale(0.84,1)" font-size="6.5" text-anchor="middle" stroke="#1e1e1e" stroke-width="0.16">20</text>
<line x1="96.5" y1="634.7" x2="96.5" y2="637.7" stroke="#111111" stroke-width="1.1"/>
<text transform="translate(96,647.34) scale(0.84,1)" font-size="6.5" text-anchor="middle" stroke="#1e1e1e" stroke-width="0.16">30</text>
<line x1="112.5" y1="634.7" x2="112.5" y2="637.7" stroke="#111111" stroke-width="1.1"/>
<text transform="translate(112.4,647.34) scale(0.84,1)" font-size="6.5" text-anchor="middle" stroke="#1e1e1e" stroke-width="0.16">40</text>
<line x1="128.5" y1="634.7" x2="128.5" y2="637.7" stroke="#111111" stroke-width="1.1"/>
<text transform="translate(128.5,647.34) scale(0.84,1)" font-size="6.5" text-anchor="middle" stroke="#1e1e1e" stroke-width="0.16">50</text>
<text x="88.2" y="658.62" font-size="8.4" text-anchor="middle" textLength="19.2" lengthAdjust="spacingAndGlyphs" stroke="#1e1e1e" stroke-width="0.16">Weeks</text>
<text transform="translate(16.3,584.3) rotate(-90)" x="0" y="2.59" font-size="7.2" text-anchor="middle" textLength="80" lengthAdjust="spacingAndGlyphs" stroke="#1e1e1e" stroke-width="0.16">% CD45.2 chimerism (PB)</text>
<polyline points="47.3,554.44 63.6,544.29 79.7,542.35 96,544.29 112.4,547.19 128.5,545.25" fill="none" stroke="#8a2236" stroke-width="1.2" stroke-linejoin="round"/>
<polyline points="47.3,577.16 63.6,552.51 79.7,552.51 96,552.99 112.4,565.08 128.5,568.46" fill="none" stroke="#2f4a70" stroke-width="1.2" stroke-linejoin="round"/>
<line x1="47.5" y1="587.32" x2="47.5" y2="567.01" stroke="#1e1e1e" stroke-width="1.1"/>
<line x1="45.3" y1="567.5" x2="49.3" y2="567.5" stroke="#1e1e1e" stroke-width="1.21"/>
<line x1="45.3" y1="587.5" x2="49.3" y2="587.5" stroke="#1e1e1e" stroke-width="1.21"/>
<rect x="44.7" y="574.56" width="5.2" height="5.2" fill="#2a3b57" stroke="#121c2a" stroke-width="0.7"/>
<line x1="63.5" y1="556.37" x2="63.5" y2="549.6" stroke="#1e1e1e" stroke-width="1.1"/>
<line x1="61.6" y1="549.5" x2="65.6" y2="549.5" stroke="#1e1e1e" stroke-width="1.21"/>
<line x1="61.6" y1="556.5" x2="65.6" y2="556.5" stroke="#1e1e1e" stroke-width="1.21"/>
<rect x="61" y="549.91" width="5.2" height="5.2" fill="#2a3b57" stroke="#121c2a" stroke-width="0.7"/>
<line x1="79.5" y1="556.37" x2="79.5" y2="548.15" stroke="#1e1e1e" stroke-width="1.1"/>
<line x1="77.7" y1="548.5" x2="81.7" y2="548.5" stroke="#1e1e1e" stroke-width="1.21"/>
<line x1="77.7" y1="556.5" x2="81.7" y2="556.5" stroke="#1e1e1e" stroke-width="1.21"/>
<rect x="77.1" y="549.91" width="5.2" height="5.2" fill="#2a3b57" stroke="#121c2a" stroke-width="0.7"/>
<line x1="96.5" y1="556.37" x2="96.5" y2="549.6" stroke="#1e1e1e" stroke-width="1.1"/>
<line x1="94" y1="549.5" x2="98" y2="549.5" stroke="#1e1e1e" stroke-width="1.21"/>
<line x1="94" y1="556.5" x2="98" y2="556.5" stroke="#1e1e1e" stroke-width="1.21"/>
<rect x="93.4" y="550.39" width="5.2" height="5.2" fill="#2a3b57" stroke="#121c2a" stroke-width="0.7"/>
<line x1="112.5" y1="572.81" x2="112.5" y2="557.34" stroke="#1e1e1e" stroke-width="1.1"/>
<line x1="110.4" y1="557.5" x2="114.4" y2="557.5" stroke="#1e1e1e" stroke-width="1.21"/>
<line x1="110.4" y1="572.5" x2="114.4" y2="572.5" stroke="#1e1e1e" stroke-width="1.21"/>
<rect x="109.8" y="562.48" width="5.2" height="5.2" fill="#2a3b57" stroke="#121c2a" stroke-width="0.7"/>
<line x1="128.5" y1="580.06" x2="128.5" y2="556.37" stroke="#1e1e1e" stroke-width="1.1"/>
<line x1="126.5" y1="556.5" x2="130.5" y2="556.5" stroke="#1e1e1e" stroke-width="1.21"/>
<line x1="126.5" y1="580.5" x2="130.5" y2="580.5" stroke="#1e1e1e" stroke-width="1.21"/>
<rect x="125.9" y="565.86" width="5.2" height="5.2" fill="#2a3b57" stroke="#121c2a" stroke-width="0.7"/>
<circle cx="47.3" cy="554.44" r="2.7" fill="#5e1626" stroke="#240810" stroke-width="0.7"/>
<circle cx="63.6" cy="544.29" r="2.7" fill="#5e1626" stroke="#240810" stroke-width="0.7"/>
<circle cx="79.7" cy="542.35" r="2.7" fill="#5e1626" stroke="#240810" stroke-width="0.7"/>
<circle cx="96" cy="544.29" r="2.7" fill="#5e1626" stroke="#240810" stroke-width="0.7"/>
<circle cx="112.4" cy="547.19" r="2.7" fill="#5e1626" stroke="#240810" stroke-width="0.7"/>
<circle cx="128.5" cy="545.25" r="2.7" fill="#5e1626" stroke="#240810" stroke-width="0.7"/>
<line x1="135.5" y1="545.9" x2="135.5" y2="568.4" stroke="#1e1e1e" stroke-width="1.1"/>
<line x1="133.8" y1="545.5" x2="137.7" y2="545.5" stroke="#1e1e1e" stroke-width="1.1"/>
<line x1="133.8" y1="568.5" x2="137.7" y2="568.5" stroke="#1e1e1e" stroke-width="1.1"/>
<text x="138.4" y="558.77" font-size="5.2" stroke="#1e1e1e" stroke-width="0.16"><tspan font-style="italic">P</tspan>=0.045</text>
<rect x="42.8" y="619.5" width="3" height="3" fill="#7a1e30" stroke="#240810" stroke-width="0.5"/>
<text x="47.8" y="622.69" font-size="4.7" stroke="#1e1e1e" stroke-width="0.16">+/+</text>
<rect x="42.8" y="626.5" width="3" height="3" fill="#2a3b57" stroke="#121c2a" stroke-width="0.5"/>
<text x="47.8" y="629.69" font-size="4.7" textLength="16.8" lengthAdjust="spacingAndGlyphs" stroke="#1e1e1e" stroke-width="0.16">P95H/+</text>
<text x="188.5" y="528.6" font-size="11" font-weight="bold" fill="#000" stroke="#000" stroke-width="0.16">I</text>
<line x1="218.5" y1="534" x2="218.5" y2="635.5" stroke="#111111" stroke-width="1.1"/>
<line x1="215.8" y1="635.5" x2="218.8" y2="635.5" stroke="#111111" stroke-width="1.1"/>
<text transform="translate(212.8,637.34) scale(0.84,1)" font-size="6.5" text-anchor="end" stroke="#1e1e1e" stroke-width="0.16">0</text>
<line x1="215.8" y1="615.5" x2="218.8" y2="615.5" stroke="#111111" stroke-width="1.1"/>
<text transform="translate(212.8,617.78) scale(0.84,1)" font-size="6.5" text-anchor="end" stroke="#1e1e1e" stroke-width="0.16">20</text>
<line x1="215.8" y1="595.5" x2="218.8" y2="595.5" stroke="#111111" stroke-width="1.1"/>
<text transform="translate(212.8,598.22) scale(0.84,1)" font-size="6.5" text-anchor="end" stroke="#1e1e1e" stroke-width="0.16">40</text>
<line x1="215.8" y1="576.5" x2="218.8" y2="576.5" stroke="#111111" stroke-width="1.1"/>
<text transform="translate(212.8,578.66) scale(0.84,1)" font-size="6.5" text-anchor="end" stroke="#1e1e1e" stroke-width="0.16">60</text>
<line x1="215.8" y1="556.5" x2="218.8" y2="556.5" stroke="#111111" stroke-width="1.1"/>
<text transform="translate(212.8,559.1) scale(0.84,1)" font-size="6.5" text-anchor="end" stroke="#1e1e1e" stroke-width="0.16">80</text>
<line x1="215.8" y1="537.5" x2="218.8" y2="537.5" stroke="#111111" stroke-width="1.1"/>
<text transform="translate(212.8,539.54) scale(0.84,1)" font-size="6.5" text-anchor="end" stroke="#1e1e1e" stroke-width="0.16">100</text>
<line x1="217" y1="625.5" x2="218.8" y2="625.5" stroke="#111111" stroke-width="0.88"/>
<line x1="217" y1="605.5" x2="218.8" y2="605.5" stroke="#111111" stroke-width="0.88"/>
<line x1="217" y1="586.5" x2="218.8" y2="586.5" stroke="#111111" stroke-width="0.88"/>
<line x1="217" y1="566.5" x2="218.8" y2="566.5" stroke="#111111" stroke-width="0.88"/>
<line x1="217" y1="546.5" x2="218.8" y2="546.5" stroke="#111111" stroke-width="0.88"/>
<line x1="218.8" y1="635.5" x2="315" y2="635.5" stroke="#111111" stroke-width="1.3"/>
<rect x="222.6" y="593.43" width="6.3" height="41.57" fill="#b0162e"/>
<line x1="225.5" y1="596.86" x2="225.5" y2="590.01" stroke="#262626" stroke-width="1"/>
<line x1="224.45" y1="590.5" x2="227.05" y2="590.5" stroke="#262626" stroke-width="1.1"/>
<line x1="224.45" y1="596.5" x2="227.05" y2="596.5" stroke="#262626" stroke-width="1.1"/>
<rect x="271.2" y="576.81" width="6.3" height="58.19" fill="#2f4c84"/>
<line x1="274.5" y1="584.63" x2="274.5" y2="568.99" stroke="#262626" stroke-width="1"/>
<line x1="273.05" y1="568.5" x2="275.65" y2="568.5" stroke="#262626" stroke-width="1.1"/>
<line x1="273.05" y1="584.5" x2="275.65" y2="584.5" stroke="#262626" stroke-width="1.1"/>
<rect x="229.87" y="579.25" width="6.3" height="55.75" fill="#b0162e"/>
<line x1="233.5" y1="586.59" x2="233.5" y2="571.92" stroke="#262626" stroke-width="1"/>
<line x1="231.72" y1="571.5" x2="234.32" y2="571.5" stroke="#262626" stroke-width="1.1"/>
<line x1="231.72" y1="586.5" x2="234.32" y2="586.5" stroke="#262626" stroke-width="1.1"/>
<rect x="278.62" y="561.16" width="6.3" height="73.84" fill="#2f4c84"/>
<line x1="281.5" y1="564.1" x2="281.5" y2="558.23" stroke="#262626" stroke-width="1"/>
<line x1="280.47" y1="558.5" x2="283.07" y2="558.5" stroke="#262626" stroke-width="1.1"/>
<line x1="280.47" y1="564.5" x2="283.07" y2="564.5" stroke="#262626" stroke-width="1.1"/>
<rect x="237.14" y="576.32" width="6.3" height="58.68" fill="#b0162e"/>
<line x1="240.5" y1="584.63" x2="240.5" y2="568.01" stroke="#262626" stroke-width="1"/>
<line x1="238.99" y1="568.5" x2="241.59" y2="568.5" stroke="#262626" stroke-width="1.1"/>
<line x1="238.99" y1="584.5" x2="241.59" y2="584.5" stroke="#262626" stroke-width="1.1"/>
<rect x="286.04" y="554.8" width="6.3" height="80.2" fill="#2f4c84"/>
<line x1="289.5" y1="561.16" x2="289.5" y2="548.45" stroke="#262626" stroke-width="1"/>
<line x1="287.89" y1="548.5" x2="290.49" y2="548.5" stroke="#262626" stroke-width="1.1"/>
<line x1="287.89" y1="561.5" x2="290.49" y2="561.5" stroke="#262626" stroke-width="1.1"/>
<rect x="244.41" y="568.01" width="6.3" height="66.99" fill="#b0162e"/>
<line x1="247.5" y1="575.34" x2="247.5" y2="560.67" stroke="#262626" stroke-width="1"/>
<line x1="246.26" y1="560.5" x2="248.86" y2="560.5" stroke="#262626" stroke-width="1.1"/>
<line x1="246.26" y1="575.5" x2="248.86" y2="575.5" stroke="#262626" stroke-width="1.1"/>
<rect x="293.46" y="551.87" width="6.3" height="83.13" fill="#2f4c84"/>
<line x1="296.5" y1="555.29" x2="296.5" y2="548.45" stroke="#262626" stroke-width="1"/>
<line x1="295.31" y1="548.5" x2="297.91" y2="548.5" stroke="#262626" stroke-width="1.1"/>
<line x1="295.31" y1="555.5" x2="297.91" y2="555.5" stroke="#262626" stroke-width="1.1"/>
<rect x="251.68" y="569.96" width="6.3" height="65.04" fill="#b0162e"/>
<line x1="254.5" y1="579.25" x2="254.5" y2="560.67" stroke="#262626" stroke-width="1"/>
<line x1="253.53" y1="560.5" x2="256.13" y2="560.5" stroke="#262626" stroke-width="1.1"/>
<line x1="253.53" y1="579.5" x2="256.13" y2="579.5" stroke="#262626" stroke-width="1.1"/>
<rect x="300.88" y="552.85" width="6.3" height="82.15" fill="#2f4c84"/>
<line x1="304.5" y1="555.78" x2="304.5" y2="549.91" stroke="#262626" stroke-width="1"/>
<line x1="302.73" y1="549.5" x2="305.33" y2="549.5" stroke="#262626" stroke-width="1.1"/>
<line x1="302.73" y1="555.5" x2="305.33" y2="555.5" stroke="#262626" stroke-width="1.1"/>
<rect x="258.95" y="570.45" width="6.3" height="64.55" fill="#b0162e"/>
<line x1="262.5" y1="581.21" x2="262.5" y2="559.69" stroke="#262626" stroke-width="1"/>
<line x1="260.8" y1="559.5" x2="263.4" y2="559.5" stroke="#262626" stroke-width="1.1"/>
<line x1="260.8" y1="581.5" x2="263.4" y2="581.5" stroke="#262626" stroke-width="1.1"/>
<rect x="308.3" y="551.87" width="6.3" height="83.13" fill="#2f4c84"/>
<line x1="311.5" y1="554.32" x2="311.5" y2="549.42" stroke="#262626" stroke-width="1"/>
<line x1="310.15" y1="549.5" x2="312.75" y2="549.5" stroke="#262626" stroke-width="1.1"/>
<line x1="310.15" y1="554.5" x2="312.75" y2="554.5" stroke="#262626" stroke-width="1.1"/>
<text transform="translate(225.2,643.54) scale(0.84,1)" font-size="6.5" text-anchor="middle" stroke="#1e1e1e" stroke-width="0.16">4</text>
<text transform="translate(233,647.44) scale(0.84,1)" font-size="6.5" text-anchor="middle" stroke="#1e1e1e" stroke-width="0.16">12</text>
<text transform="translate(240.4,643.54) scale(0.84,1)" font-size="6.5" text-anchor="middle" stroke="#1e1e1e" stroke-width="0.16">20</text>
<text transform="translate(247.8,647.44) scale(0.84,1)" font-size="6.5" text-anchor="middle" stroke="#1e1e1e" stroke-width="0.16">30</text>
<text transform="translate(254.8,643.54) scale(0.84,1)" font-size="6.5" text-anchor="middle" stroke="#1e1e1e" stroke-width="0.16">40</text>
<text transform="translate(262.6,647.44) scale(0.84,1)" font-size="6.5" text-anchor="middle" stroke="#1e1e1e" stroke-width="0.16">50</text>
<text transform="translate(274.7,643.54) scale(0.84,1)" font-size="6.5" text-anchor="middle" stroke="#1e1e1e" stroke-width="0.16">4</text>
<text transform="translate(282.3,647.44) scale(0.84,1)" font-size="6.5" text-anchor="middle" stroke="#1e1e1e" stroke-width="0.16">12</text>
<text transform="translate(289.5,643.54) scale(0.84,1)" font-size="6.5" text-anchor="middle" stroke="#1e1e1e" stroke-width="0.16">20</text>
<text transform="translate(296.9,647.44) scale(0.84,1)" font-size="6.5" text-anchor="middle" stroke="#1e1e1e" stroke-width="0.16">30</text>
<text transform="translate(303.9,643.54) scale(0.84,1)" font-size="6.5" text-anchor="middle" stroke="#1e1e1e" stroke-width="0.16">40</text>
<text transform="translate(311.3,647.44) scale(0.84,1)" font-size="6.5" text-anchor="middle" stroke="#1e1e1e" stroke-width="0.16">50</text>
<text x="268.2" y="658.62" font-size="8.4" text-anchor="middle" textLength="19.2" lengthAdjust="spacingAndGlyphs" stroke="#1e1e1e" stroke-width="0.16">Weeks</text>
<text transform="translate(196,584) rotate(-90)" x="0" y="2.59" font-size="7.2" text-anchor="middle" textLength="81.5" lengthAdjust="spacingAndGlyphs" stroke="#1e1e1e" stroke-width="0.16">% eYFP+ve in CD45.2 (PB)</text>
<line x1="269.7" y1="536.5" x2="316" y2="536.5" stroke="#1e1e1e" stroke-width="1"/>
<line x1="269.5" y1="536.3" x2="269.5" y2="538.6" stroke="#1e1e1e" stroke-width="1"/>
<line x1="316.5" y1="536.3" x2="316.5" y2="538.6" stroke="#1e1e1e" stroke-width="1"/>
<text x="292.9" y="532.3" font-size="5" text-anchor="middle" stroke="#1e1e1e" stroke-width="0.16"><tspan font-style="italic">P</tspan>=0.031</text>
<rect x="222.9" y="536" width="2.9" height="2.9" fill="#b0162e"/>
<text x="228.7" y="539.29" font-size="4.7" stroke="#1e1e1e" stroke-width="0.16">+/+</text>
<rect x="222.9" y="544" width="2.9" height="2.9" fill="#2f4c84"/>
<text x="228.7" y="547.19" font-size="4.7" textLength="17.8" lengthAdjust="spacingAndGlyphs" stroke="#1e1e1e" stroke-width="0.16">P95H/+</text>
<text x="357.3" y="528.6" font-size="11" font-weight="bold" fill="#000" stroke="#000" stroke-width="0.16">J</text>
<line x1="373.5" y1="534" x2="373.5" y2="635.4" stroke="#111111" stroke-width="1.1"/>
<line x1="370.3" y1="634.5" x2="373.3" y2="634.5" stroke="#111111" stroke-width="1.1"/>
<text transform="translate(367.3,637.24) scale(0.84,1)" font-size="6.5" text-anchor="end" stroke="#1e1e1e" stroke-width="0.16">0</text>
<line x1="370.3" y1="615.5" x2="373.3" y2="615.5" stroke="#111111" stroke-width="1.1"/>
<text transform="translate(367.3,617.5) scale(0.84,1)" font-size="6.5" text-anchor="end" stroke="#1e1e1e" stroke-width="0.16">10</text>
<line x1="370.3" y1="595.5" x2="373.3" y2="595.5" stroke="#111111" stroke-width="1.1"/>
<text transform="translate(367.3,597.76) scale(0.84,1)" font-size="6.5" text-anchor="end" stroke="#1e1e1e" stroke-width="0.16">20</text>
<line x1="370.3" y1="575.5" x2="373.3" y2="575.5" stroke="#111111" stroke-width="1.1"/>
<text transform="translate(367.3,578.02) scale(0.84,1)" font-size="6.5" text-anchor="end" stroke="#1e1e1e" stroke-width="0.16">30</text>
<line x1="370.3" y1="555.5" x2="373.3" y2="555.5" stroke="#111111" stroke-width="1.1"/>
<text transform="translate(367.3,558.28) scale(0.84,1)" font-size="6.5" text-anchor="end" stroke="#1e1e1e" stroke-width="0.16">40</text>
<line x1="370.3" y1="536.5" x2="373.3" y2="536.5" stroke="#111111" stroke-width="1.1"/>
<text transform="translate(367.3,538.54) scale(0.84,1)" font-size="6.5" text-anchor="end" stroke="#1e1e1e" stroke-width="0.16">50</text>
<line x1="373.3" y1="634.5" x2="471.5" y2="634.5" stroke="#111111" stroke-width="1.3"/>
<line x1="380.5" y1="634.9" x2="380.5" y2="637.9" stroke="#111111" stroke-width="1.1"/>
<text transform="translate(380.9,646.74) scale(0.84,1)" font-size="6.5" text-anchor="middle" stroke="#1e1e1e" stroke-width="0.16">4</text>
<line x1="398.5" y1="634.9" x2="398.5" y2="637.9" stroke="#111111" stroke-width="1.1"/>
<text transform="translate(398.8,646.74) scale(0.84,1)" font-size="6.5" text-anchor="middle" stroke="#1e1e1e" stroke-width="0.16">12</text>
<line x1="413.5" y1="634.9" x2="413.5" y2="637.9" stroke="#111111" stroke-width="1.1"/>
<text transform="translate(413.2,646.74) scale(0.84,1)" font-size="6.5" text-anchor="middle" stroke="#1e1e1e" stroke-width="0.16">20</text>
<line x1="430.5" y1="634.9" x2="430.5" y2="637.9" stroke="#111111" stroke-width="1.1"/>
<text transform="translate(430.6,646.74) scale(0.84,1)" font-size="6.5" text-anchor="middle" stroke="#1e1e1e" stroke-width="0.16">30</text>
<line x1="447.5" y1="634.9" x2="447.5" y2="637.9" stroke="#111111" stroke-width="1.1"/>
<text transform="translate(447.5,646.74) scale(0.84,1)" font-size="6.5" text-anchor="middle" stroke="#1e1e1e" stroke-width="0.16">40</text>
<line x1="464.5" y1="634.9" x2="464.5" y2="637.9" stroke="#111111" stroke-width="1.1"/>
<text transform="translate(464.4,646.74) scale(0.84,1)" font-size="6.5" text-anchor="middle" stroke="#1e1e1e" stroke-width="0.16">50</text>
<text x="422.6" y="658.82" font-size="8.4" text-anchor="middle" textLength="19.2" lengthAdjust="spacingAndGlyphs" stroke="#1e1e1e" stroke-width="0.16">Weeks</text>
<text transform="translate(353.5,585) rotate(-90)" x="0" y="2.59" font-size="7.2" text-anchor="middle" textLength="87" lengthAdjust="spacingAndGlyphs" stroke="#1e1e1e" stroke-width="0.16">% eYFP+ve granulocytes (PB)</text>
<line x1="385.5" y1="576.67" x2="385.5" y2="547.06" stroke="#1e1e1e" stroke-width="1.1"/>
<line x1="382.7" y1="547.5" x2="387.3" y2="547.5" stroke="#1e1e1e" stroke-width="1.21"/>
<line x1="382.7" y1="576.5" x2="387.3" y2="576.5" stroke="#1e1e1e" stroke-width="1.21"/>
<rect x="382.6" y="559.46" width="4.8" height="4.8" fill="#2c4163" stroke="#0c121c" stroke-width="0.8"/>
<rect x="399" y="610.59" width="4.8" height="4.8" fill="#2c4163" stroke="#0c121c" stroke-width="0.8"/>
<rect x="415.5" y="604.86" width="4.8" height="4.8" fill="#2c4163" stroke="#0c121c" stroke-width="0.8"/>
<rect x="431.4" y="622.43" width="4.8" height="4.8" fill="#2c4163" stroke="#0c121c" stroke-width="0.8"/>
<rect x="447.6" y="623.42" width="4.8" height="4.8" fill="#2c4163" stroke="#0c121c" stroke-width="0.8"/>
<line x1="466.5" y1="627.2" x2="466.5" y2="621.28" stroke="#1e1e1e" stroke-width="1.1"/>
<line x1="464.2" y1="621.5" x2="468.8" y2="621.5" stroke="#1e1e1e" stroke-width="1.21"/>
<line x1="464.2" y1="627.5" x2="468.8" y2="627.5" stroke="#1e1e1e" stroke-width="1.21"/>
<rect x="464.1" y="621.84" width="4.8" height="4.8" fill="#2c4163" stroke="#0c121c" stroke-width="0.8"/>
<line x1="378.5" y1="613.58" x2="378.5" y2="599.76" stroke="#1e1e1e" stroke-width="1.1"/>
<line x1="376.5" y1="599.5" x2="381.1" y2="599.5" stroke="#1e1e1e" stroke-width="1.21"/>
<line x1="376.5" y1="613.5" x2="381.1" y2="613.5" stroke="#1e1e1e" stroke-width="1.21"/>
<rect x="376.3" y="604.17" width="5" height="5" fill="#6a1a2c" stroke="#140408" stroke-width="0.8" rx="1.6"/>
<rect x="392.5" y="615.42" width="5" height="5" fill="#6a1a2c" stroke="#140408" stroke-width="0.8" rx="1.6"/>
<line x1="412.5" y1="619.31" x2="412.5" y2="609.44" stroke="#1e1e1e" stroke-width="1.1"/>
<line x1="409.7" y1="609.5" x2="414.3" y2="609.5" stroke="#1e1e1e" stroke-width="1.21"/>
<line x1="409.7" y1="619.5" x2="414.3" y2="619.5" stroke="#1e1e1e" stroke-width="1.21"/>
<rect x="409.5" y="611.87" width="5" height="5" fill="#6a1a2c" stroke="#140408" stroke-width="0.8" rx="1.6"/>
<circle cx="427.4" cy="625.82" r="2.6" fill="#5e1626" stroke="#140408" stroke-width="0.8"/>
<rect x="441.8" y="618.58" width="5" height="5" fill="#6a1a2c" stroke="#140408" stroke-width="0.8" rx="1.6"/>
<rect x="458.1" y="619.17" width="5" height="5" fill="#6a1a2c" stroke="#140408" stroke-width="0.8" rx="1.6"/>
<text x="379" y="541.67" font-size="5.2" text-anchor="middle" stroke="#1e1e1e" stroke-width="0.16">**</text>
<rect x="444.8" y="533.8" width="3" height="3" fill="#7a1e30" stroke="#240810" stroke-width="0.5"/>
<text x="449.8" y="536.99" font-size="4.7" stroke="#1e1e1e" stroke-width="0.16">+/+</text>
<rect x="444.8" y="540.7" width="3" height="3" fill="#2a3b57" stroke="#121c2a" stroke-width="0.5"/>
<text x="449.8" y="543.89" font-size="4.7" textLength="16.8" lengthAdjust="spacingAndGlyphs" stroke="#1e1e1e" stroke-width="0.16">P95H/+</text></g><rect x="0.65" y="0.65" width="518.7" height="666.7" fill="none" stroke="#000" stroke-width="1.3"/></svg></body></html>
